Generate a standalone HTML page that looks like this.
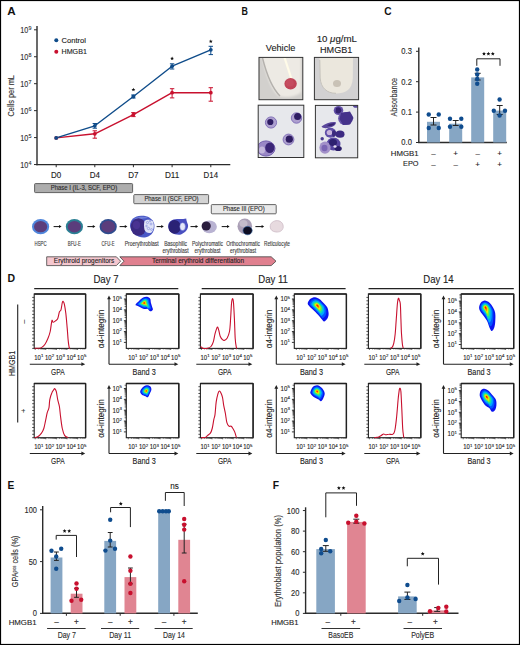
<!DOCTYPE html>
<html><head><meta charset="utf-8"><title>Figure</title>
<style>
html,body{margin:0;padding:0;background:#fff;}
body{width:520px;height:645px;overflow:hidden;}
svg{display:block;font-family:"Liberation Sans", sans-serif;}
</style></head><body>
<svg width="520" height="645" viewBox="0 0 520 645">
<rect x="0" y="0" width="520" height="645" fill="#fff"/>
<text x="7.2" y="15" font-size="10.2" text-anchor="start" fill="#111" font-weight="bold" textLength="8.4" lengthAdjust="spacingAndGlyphs">A</text>
<line x1="37" y1="26" x2="37" y2="165.2" stroke="#2b2b2b" stroke-width="1.4"/>
<line x1="36.3" y1="164.6" x2="230.3" y2="164.6" stroke="#2b2b2b" stroke-width="1.4"/>
<line x1="34" y1="29.8" x2="37" y2="29.8" stroke="#2b2b2b" stroke-width="1"/>
<text x="28.2" y="33.1" font-size="8.6" text-anchor="end" fill="#333" font-weight="normal" stroke="#333" stroke-width="0.12" textLength="8.0" lengthAdjust="spacingAndGlyphs">10</text>
<text x="28.599999999999998" y="29.8" font-size="5.4" text-anchor="start" fill="#333" font-weight="normal" stroke="#333" stroke-width="0.12">9</text>
<line x1="34" y1="56.75" x2="37" y2="56.75" stroke="#2b2b2b" stroke-width="1"/>
<text x="28.2" y="60.05" font-size="8.6" text-anchor="end" fill="#333" font-weight="normal" stroke="#333" stroke-width="0.12" textLength="8.0" lengthAdjust="spacingAndGlyphs">10</text>
<text x="28.599999999999998" y="56.75" font-size="5.4" text-anchor="start" fill="#333" font-weight="normal" stroke="#333" stroke-width="0.12">8</text>
<line x1="34" y1="83.7" x2="37" y2="83.7" stroke="#2b2b2b" stroke-width="1"/>
<text x="28.2" y="87.0" font-size="8.6" text-anchor="end" fill="#333" font-weight="normal" stroke="#333" stroke-width="0.12" textLength="8.0" lengthAdjust="spacingAndGlyphs">10</text>
<text x="28.599999999999998" y="83.7" font-size="5.4" text-anchor="start" fill="#333" font-weight="normal" stroke="#333" stroke-width="0.12">7</text>
<line x1="34" y1="110.64999999999999" x2="37" y2="110.64999999999999" stroke="#2b2b2b" stroke-width="1"/>
<text x="28.2" y="113.94999999999999" font-size="8.6" text-anchor="end" fill="#333" font-weight="normal" stroke="#333" stroke-width="0.12" textLength="8.0" lengthAdjust="spacingAndGlyphs">10</text>
<text x="28.599999999999998" y="110.64999999999999" font-size="5.4" text-anchor="start" fill="#333" font-weight="normal" stroke="#333" stroke-width="0.12">6</text>
<line x1="34" y1="137.6" x2="37" y2="137.6" stroke="#2b2b2b" stroke-width="1"/>
<text x="28.2" y="140.9" font-size="8.6" text-anchor="end" fill="#333" font-weight="normal" stroke="#333" stroke-width="0.12" textLength="8.0" lengthAdjust="spacingAndGlyphs">10</text>
<text x="28.599999999999998" y="137.6" font-size="5.4" text-anchor="start" fill="#333" font-weight="normal" stroke="#333" stroke-width="0.12">5</text>
<line x1="34" y1="164.55" x2="37" y2="164.55" stroke="#2b2b2b" stroke-width="1"/>
<text x="28.2" y="167.85000000000002" font-size="8.6" text-anchor="end" fill="#333" font-weight="normal" stroke="#333" stroke-width="0.12" textLength="8.0" lengthAdjust="spacingAndGlyphs">10</text>
<text x="28.599999999999998" y="164.55" font-size="5.4" text-anchor="start" fill="#333" font-weight="normal" stroke="#333" stroke-width="0.12">4</text>
<line x1="56.2" y1="164.6" x2="56.2" y2="167.2" stroke="#2b2b2b" stroke-width="1"/>
<text x="56.2" y="178.0" font-size="8.8" text-anchor="middle" fill="#222" font-weight="normal" stroke="#222" stroke-width="0.12" textLength="10.2" lengthAdjust="spacingAndGlyphs">D0</text>
<line x1="94.8" y1="164.6" x2="94.8" y2="167.2" stroke="#2b2b2b" stroke-width="1"/>
<text x="94.8" y="178.0" font-size="8.8" text-anchor="middle" fill="#222" font-weight="normal" stroke="#222" stroke-width="0.12" textLength="10.2" lengthAdjust="spacingAndGlyphs">D4</text>
<line x1="133.4" y1="164.6" x2="133.4" y2="167.2" stroke="#2b2b2b" stroke-width="1"/>
<text x="133.4" y="178.0" font-size="8.8" text-anchor="middle" fill="#222" font-weight="normal" stroke="#222" stroke-width="0.12" textLength="10.2" lengthAdjust="spacingAndGlyphs">D7</text>
<line x1="172.1" y1="164.6" x2="172.1" y2="167.2" stroke="#2b2b2b" stroke-width="1"/>
<text x="172.1" y="178.0" font-size="8.8" text-anchor="middle" fill="#222" font-weight="normal" stroke="#222" stroke-width="0.12" textLength="14.4" lengthAdjust="spacingAndGlyphs">D11</text>
<line x1="210.8" y1="164.6" x2="210.8" y2="167.2" stroke="#2b2b2b" stroke-width="1"/>
<text x="210.8" y="178.0" font-size="8.8" text-anchor="middle" fill="#222" font-weight="normal" stroke="#222" stroke-width="0.12" textLength="14.4" lengthAdjust="spacingAndGlyphs">D14</text>
<text x="13.9" y="95.8" font-size="9.4" text-anchor="middle" fill="#333" font-weight="normal" stroke="#333" stroke-width="0.12" textLength="41.5" lengthAdjust="spacingAndGlyphs" transform="rotate(-90 13.9 95.8)">Cells per mL</text>
<circle cx="56.3" cy="40.3" r="2" fill="#0f4c8a"/>
<circle cx="56.3" cy="51.7" r="2" fill="#c8102e"/>
<text x="61.5" y="42.6" font-size="7.5" text-anchor="start" fill="#222" font-weight="normal" stroke="#222" stroke-width="0.12" textLength="24.5" lengthAdjust="spacingAndGlyphs">Control</text>
<text x="61.5" y="53.9" font-size="7.5" text-anchor="start" fill="#222" font-weight="normal" stroke="#222" stroke-width="0.12" textLength="25.4" lengthAdjust="spacingAndGlyphs">HMGB1</text>
<path d="M56.2,137.9 L94.8,133.8 L133.4,114.6 L172.1,92.7 L210.8,92.7" stroke="#c8102e" stroke-width="1.4" fill="none" stroke-linejoin="round"/>
<path d="M56.2,137.9 L94.8,125.8 L133.4,96.5 L172.1,66.2 L210.8,49.8" stroke="#0f4c8a" stroke-width="1.4" fill="none" stroke-linejoin="round"/>
<circle cx="56.2" cy="137.9" r="1.9" fill="#c8102e"/>
<line x1="94.8" y1="130.8" x2="94.8" y2="138.2" stroke="#c8102e" stroke-width="1"/>
<line x1="92.6" y1="130.8" x2="97.0" y2="130.8" stroke="#c8102e" stroke-width="1"/>
<line x1="92.6" y1="138.2" x2="97.0" y2="138.2" stroke="#c8102e" stroke-width="1"/>
<circle cx="94.8" cy="133.8" r="1.9" fill="#c8102e"/>
<line x1="133.4" y1="112.6" x2="133.4" y2="116.6" stroke="#c8102e" stroke-width="1"/>
<line x1="131.20000000000002" y1="112.6" x2="135.6" y2="112.6" stroke="#c8102e" stroke-width="1"/>
<line x1="131.20000000000002" y1="116.6" x2="135.6" y2="116.6" stroke="#c8102e" stroke-width="1"/>
<circle cx="133.4" cy="114.6" r="1.9" fill="#c8102e"/>
<line x1="172.1" y1="88.7" x2="172.1" y2="97.9" stroke="#c8102e" stroke-width="1"/>
<line x1="169.9" y1="88.7" x2="174.29999999999998" y2="88.7" stroke="#c8102e" stroke-width="1"/>
<line x1="169.9" y1="97.9" x2="174.29999999999998" y2="97.9" stroke="#c8102e" stroke-width="1"/>
<circle cx="172.1" cy="92.7" r="1.9" fill="#c8102e"/>
<line x1="210.8" y1="87.7" x2="210.8" y2="101.2" stroke="#c8102e" stroke-width="1"/>
<line x1="208.60000000000002" y1="87.7" x2="213.0" y2="87.7" stroke="#c8102e" stroke-width="1"/>
<line x1="208.60000000000002" y1="101.2" x2="213.0" y2="101.2" stroke="#c8102e" stroke-width="1"/>
<circle cx="210.8" cy="92.7" r="1.9" fill="#c8102e"/>
<circle cx="56.2" cy="137.9" r="1.9" fill="#0f4c8a"/>
<line x1="94.8" y1="123.5" x2="94.8" y2="128.2" stroke="#0f4c8a" stroke-width="1"/>
<line x1="92.6" y1="123.5" x2="97.0" y2="123.5" stroke="#0f4c8a" stroke-width="1"/>
<line x1="92.6" y1="128.2" x2="97.0" y2="128.2" stroke="#0f4c8a" stroke-width="1"/>
<circle cx="94.8" cy="125.8" r="1.9" fill="#0f4c8a"/>
<line x1="133.4" y1="95" x2="133.4" y2="98" stroke="#0f4c8a" stroke-width="1"/>
<line x1="131.20000000000002" y1="95" x2="135.6" y2="95" stroke="#0f4c8a" stroke-width="1"/>
<line x1="131.20000000000002" y1="98" x2="135.6" y2="98" stroke="#0f4c8a" stroke-width="1"/>
<circle cx="133.4" cy="96.5" r="1.9" fill="#0f4c8a"/>
<line x1="172.1" y1="63.8" x2="172.1" y2="69" stroke="#0f4c8a" stroke-width="1"/>
<line x1="169.9" y1="63.8" x2="174.29999999999998" y2="63.8" stroke="#0f4c8a" stroke-width="1"/>
<line x1="169.9" y1="69" x2="174.29999999999998" y2="69" stroke="#0f4c8a" stroke-width="1"/>
<circle cx="172.1" cy="66.2" r="1.9" fill="#0f4c8a"/>
<line x1="210.8" y1="46.3" x2="210.8" y2="54.6" stroke="#0f4c8a" stroke-width="1"/>
<line x1="208.60000000000002" y1="46.3" x2="213.0" y2="46.3" stroke="#0f4c8a" stroke-width="1"/>
<line x1="208.60000000000002" y1="54.6" x2="213.0" y2="54.6" stroke="#0f4c8a" stroke-width="1"/>
<circle cx="210.8" cy="49.8" r="1.9" fill="#0f4c8a"/>
<path d="M133.40,87.70 L133.93,88.97 L135.30,89.08 L134.26,89.98 L134.58,91.32 L133.40,90.60 L132.22,91.32 L132.54,89.98 L131.50,89.08 L132.87,88.97 Z" fill="#111"/>
<path d="M172.10,56.50 L172.63,57.77 L174.00,57.88 L172.96,58.78 L173.28,60.12 L172.10,59.40 L170.92,60.12 L171.24,58.78 L170.20,57.88 L171.57,57.77 Z" fill="#111"/>
<path d="M210.80,39.40 L211.33,40.67 L212.70,40.78 L211.66,41.68 L211.98,43.02 L210.80,42.30 L209.62,43.02 L209.94,41.68 L208.90,40.78 L210.27,40.67 Z" fill="#111"/>
<rect x="34.6" y="183.6" width="98.0" height="9.0" rx="0.8" fill="#adadad" stroke="#555" stroke-width="0.9"/>
<text x="50.7" y="190.29999999999998" font-size="6.4" text-anchor="start" fill="#2a2a2a" font-weight="normal" stroke="#2a2a2a" stroke-width="0.12" textLength="66.5" lengthAdjust="spacingAndGlyphs">Phase I (IL-3, SCF, EPO)</text>
<rect x="133.8" y="194.6" width="74.79999999999998" height="9.099999999999994" rx="0.8" fill="#d3d3d3" stroke="#555" stroke-width="0.9"/>
<text x="144.4" y="201.34999999999997" font-size="6.4" text-anchor="start" fill="#2a2a2a" font-weight="normal" stroke="#2a2a2a" stroke-width="0.12" textLength="54.2" lengthAdjust="spacingAndGlyphs">Phase II (SCF, EPO)</text>
<rect x="211.3" y="204.6" width="64.89999999999998" height="9.200000000000017" rx="0.8" fill="#e9e9e9" stroke="#555" stroke-width="0.9"/>
<text x="222.9" y="211.39999999999998" font-size="6.4" text-anchor="start" fill="#2a2a2a" font-weight="normal" stroke="#2a2a2a" stroke-width="0.12" textLength="41.8" lengthAdjust="spacingAndGlyphs">Phase III (EPO)</text>
<ellipse cx="40.6" cy="226.7" rx="8.6" ry="7.6" fill="#4f86dc"/>
<ellipse cx="40.6" cy="226.7" rx="6.6" ry="5.6" fill="#5b3d7c"/>
<ellipse cx="74.4" cy="226.7" rx="8.6" ry="7.6" fill="#2a7f93"/>
<ellipse cx="74.4" cy="226.7" rx="6.7" ry="5.7" fill="#5b3d7c"/>
<ellipse cx="108.2" cy="226.7" rx="8.6" ry="7.6" fill="#2f4c8e"/>
<ellipse cx="108.2" cy="226.7" rx="6.9" ry="5.9" fill="#5b3d7c"/>
<line x1="53.6" y1="226.6" x2="59.6" y2="226.6" stroke="#111" stroke-width="1"/>
<path d="M59.0,225.1 L61.6,226.6 L59.0,228.1 Z" fill="#111"/>
<line x1="87.4" y1="226.6" x2="93.4" y2="226.6" stroke="#111" stroke-width="1"/>
<path d="M92.80000000000001,225.1 L95.4,226.6 L92.80000000000001,228.1 Z" fill="#111"/>
<line x1="119.6" y1="226.6" x2="125.4" y2="226.6" stroke="#111" stroke-width="1"/>
<path d="M124.80000000000001,225.1 L127.4,226.6 L124.80000000000001,228.1 Z" fill="#111"/>
<line x1="156.6" y1="226.6" x2="161.8" y2="226.6" stroke="#111" stroke-width="1"/>
<path d="M161.20000000000002,225.1 L163.8,226.6 L161.20000000000002,228.1 Z" fill="#111"/>
<line x1="190.5" y1="226.6" x2="196.2" y2="226.6" stroke="#111" stroke-width="1"/>
<path d="M195.6,225.1 L198.2,226.6 L195.6,228.1 Z" fill="#111"/>
<line x1="221.7" y1="226.6" x2="227.6" y2="226.6" stroke="#111" stroke-width="1"/>
<path d="M227.0,225.1 L229.6,226.6 L227.0,228.1 Z" fill="#111"/>
<line x1="255.4" y1="226.6" x2="262.2" y2="226.6" stroke="#111" stroke-width="1"/>
<path d="M261.59999999999997,225.1 L264.2,226.6 L261.59999999999997,228.1 Z" fill="#111"/>
<g filter="url(#bl3)">
<path d="M130,226 C130,219.5 134.5,216 141,215.7 C147.5,215.5 152.5,218 154.3,224 C155.2,230 152.5,235.5 146,237.3 C139,238.5 131.5,234.5 130,226 Z" fill="#4a58c6"/>
<path d="M134,218.5 C138,216.5 144,216.3 148,217.5 C144,219 138,219.5 134,218.5 Z" fill="#7080da"/>
<ellipse cx="138.5" cy="227" rx="7.8" ry="8.8" fill="#3b2a82"/>
<ellipse cx="136.5" cy="225" rx="3.5" ry="4" fill="#4a3392"/>
<path d="M144.5,221 C146.5,219.2 151,219.2 153,221.5 C154.4,225 154,230 151.5,232.5 C149,233.6 145.8,233 144.6,230 C143.8,227 143.8,223.5 144.5,221 Z" fill="#dfe3f7"/>
<circle cx="147.5" cy="222.5" r="1.1" fill="none" stroke="#7d88dc" stroke-width="0.6"/>
<circle cx="151" cy="224" r="1" fill="none" stroke="#7d88dc" stroke-width="0.6"/>
<circle cx="148.5" cy="228.5" r="1.2" fill="none" stroke="#7d88dc" stroke-width="0.6"/>
<circle cx="151.5" cy="229.5" r="0.9" fill="none" stroke="#7d88dc" stroke-width="0.6"/>
<circle cx="146.5" cy="226" r="0.8" fill="none" stroke="#7d88dc" stroke-width="0.6"/>
<circle cx="150" cy="221" r="0.7" fill="none" stroke="#7d88dc" stroke-width="0.6"/>
</g>
<g filter="url(#bl3)">
<path d="M168.2,226.5 C168,221.5 172,219 177,218.9 C181,218.8 184,219.5 186.2,218.6 C186.5,220.5 186.8,222 188,224.8 C188.6,228.5 186,232.5 181,234.5 C175,235.5 168.8,232.5 168.2,226.5 Z" fill="#4a50c0"/>
<ellipse cx="174.6" cy="226.9" rx="6.2" ry="6.9" fill="#2a2274"/>
<ellipse cx="182.6" cy="226.6" rx="2.8" ry="3.9" fill="#e4e7f8" stroke="#6470d0" stroke-width="0.5"/>
</g>
<g filter="url(#bl3)"><ellipse cx="209.3" cy="226.8" rx="7.6" ry="6.4" fill="#b9b3d2"/>
<ellipse cx="206.2" cy="226" rx="4.6" ry="4.6" fill="#2b1a3c"/></g>
<g filter="url(#bl3)"><ellipse cx="244.8" cy="226.2" rx="7.3" ry="7.8" fill="#aa9fb6"/>
<ellipse cx="243.5" cy="223.5" rx="4" ry="3.5" fill="#c4bccb"/>
<ellipse cx="247.6" cy="230.6" rx="4.6" ry="4.2" fill="#0e0e22" stroke="#2a5d9a" stroke-width="0.6"/></g>
<path d="M270.2,227 C270,222.8 273.5,220.6 277.5,220.6 C281.5,221 283.5,224 283.2,227.5 C282.5,231 279.5,232.3 276,232 C272.5,231.6 270.4,230 270.2,227 Z" fill="#e7dadf" stroke="#c8b6c2" stroke-width="0.7"/>
<text x="40.6" y="245.5" font-size="6.4" text-anchor="middle" fill="#3c3c3c" font-weight="normal" stroke="#3c3c3c" stroke-width="0.12" textLength="12.1" lengthAdjust="spacingAndGlyphs">HSPC</text>
<text x="74.3" y="245.5" font-size="6.4" text-anchor="middle" fill="#3c3c3c" font-weight="normal" stroke="#3c3c3c" stroke-width="0.12" textLength="13.1" lengthAdjust="spacingAndGlyphs">BFU-E</text>
<text x="108" y="245.5" font-size="6.4" text-anchor="middle" fill="#3c3c3c" font-weight="normal" stroke="#3c3c3c" stroke-width="0.12" textLength="12.9" lengthAdjust="spacingAndGlyphs">CFU-E</text>
<text x="141.7" y="245.5" font-size="6.4" text-anchor="middle" fill="#3c3c3c" font-weight="normal" stroke="#3c3c3c" stroke-width="0.12" textLength="34" lengthAdjust="spacingAndGlyphs">Proerythroblast</text>
<text x="175.6" y="245.5" font-size="6.4" text-anchor="middle" fill="#3c3c3c" font-weight="normal" stroke="#3c3c3c" stroke-width="0.12" textLength="22.9" lengthAdjust="spacingAndGlyphs">Basophilic</text>
<text x="175.6" y="253.2" font-size="6.4" text-anchor="middle" fill="#3c3c3c" font-weight="normal" stroke="#3c3c3c" stroke-width="0.12" textLength="26" lengthAdjust="spacingAndGlyphs">erythroblast</text>
<text x="207.5" y="245.5" font-size="6.4" text-anchor="middle" fill="#3c3c3c" font-weight="normal" stroke="#3c3c3c" stroke-width="0.12" textLength="31" lengthAdjust="spacingAndGlyphs">Polychromatic</text>
<text x="207.5" y="253.2" font-size="6.4" text-anchor="middle" fill="#3c3c3c" font-weight="normal" stroke="#3c3c3c" stroke-width="0.12" textLength="26" lengthAdjust="spacingAndGlyphs">erythroblast</text>
<text x="243.1" y="245.5" font-size="6.4" text-anchor="middle" fill="#3c3c3c" font-weight="normal" stroke="#3c3c3c" stroke-width="0.12" textLength="33.7" lengthAdjust="spacingAndGlyphs">Orthochromatic</text>
<text x="243.1" y="253.2" font-size="6.4" text-anchor="middle" fill="#3c3c3c" font-weight="normal" stroke="#3c3c3c" stroke-width="0.12" textLength="26" lengthAdjust="spacingAndGlyphs">erythroblast</text>
<text x="277" y="245.5" font-size="6.4" text-anchor="middle" fill="#3c3c3c" font-weight="normal" stroke="#3c3c3c" stroke-width="0.12" textLength="26.1" lengthAdjust="spacingAndGlyphs">Reticulocyte</text>
<path d="M46.7,256.8 L116.4,256.8 L120.6,261.2 L116.4,265.6 L46.7,265.6 Z" fill="#f5c7cf" stroke="#444" stroke-width="0.8"/>
<path d="M119.8,256.8 L271.2,256.8 L276.0,261.2 L271.2,265.6 L119.8,265.6 L124.0,261.2 Z" fill="#e0808f" stroke="#444" stroke-width="0.8"/>
<text x="53.8" y="263.4" font-size="7.2" text-anchor="start" fill="#222" font-weight="normal" stroke="#222" stroke-width="0.12" textLength="60.5" lengthAdjust="spacingAndGlyphs">Erythroid progenitors</text>
<text x="151.9" y="263.4" font-size="7.2" text-anchor="start" fill="#222" font-weight="normal" stroke="#222" stroke-width="0.12" textLength="92.2" lengthAdjust="spacingAndGlyphs">Terminal erythroid differentiation</text>
<text x="241.4" y="14.9" font-size="10.2" text-anchor="start" fill="#111" font-weight="bold" textLength="6.4" lengthAdjust="spacingAndGlyphs">B</text>
<text x="280.6" y="50.8" font-size="9" text-anchor="middle" fill="#222" font-weight="normal" stroke="#222" stroke-width="0.12" textLength="29.6" lengthAdjust="spacingAndGlyphs">Vehicle</text>
<text x="336.8" y="42" font-size="9" text-anchor="middle" fill="#222" font-weight="normal" stroke="#222" stroke-width="0.12" textLength="40.3" lengthAdjust="spacingAndGlyphs">10 <tspan font-style="italic">μ</tspan>g/mL</text>
<text x="336.2" y="53" font-size="9" text-anchor="middle" fill="#222" font-weight="normal" stroke="#222" stroke-width="0.12" textLength="32.3" lengthAdjust="spacingAndGlyphs">HMGB1</text>
<defs><clipPath id="t1"><rect x="259" y="57.4" width="43.8" height="42.3"/></clipPath><clipPath id="t2"><rect x="314.4" y="57.4" width="44.2" height="42.3"/></clipPath><clipPath id="m1"><rect x="258.2" y="105.2" width="45.6" height="52.3"/></clipPath><clipPath id="m2"><rect x="315.4" y="105.4" width="42.3" height="52.4"/></clipPath><filter id="bl" x="-20%" y="-20%" width="140%" height="140%"><feGaussianBlur stdDeviation="0.6"/></filter><filter id="bl3" x="-20%" y="-20%" width="140%" height="140%"><feGaussianBlur stdDeviation="0.4"/></filter><filter id="bl2" x="-20%" y="-20%" width="140%" height="140%"><feGaussianBlur stdDeviation="1.2"/></filter></defs>
<g clip-path="url(#t1)">
<rect x="259" y="57.4" width="43.8" height="42.3" fill="#d2d0cd"/>
<path d="M262,57 L301,57 L301,92 C297,97 285,98 279,96 C272,92 266,75 262,57 Z" fill="#edeae4" filter="url(#bl2)"/>
<path d="M262.5,58 C266,72 272,88 280,96" stroke="#b4b1ad" stroke-width="1.4" fill="none" filter="url(#bl)"/>
<path d="M284.5,57.5 L291.5,79" stroke="#fffbe8" stroke-width="2.2" fill="none" filter="url(#bl)"/>
<ellipse cx="290.6" cy="83.8" rx="6.2" ry="5.7" fill="#c04458" filter="url(#bl)"/>
<ellipse cx="289.8" cy="83" rx="4" ry="3.6" fill="#c54e60" filter="url(#bl)"/>
</g>
<rect x="259" y="57.4" width="43.8" height="42.3" fill="none" stroke="#333" stroke-width="1"/>
<g clip-path="url(#t2)">
<rect x="314.4" y="57.4" width="44.2" height="42.3" fill="#d4d3d0"/>
<rect x="314.4" y="57.4" width="44.2" height="42.3" fill="#d2d1d2"/>
<path d="M319.5,57 L353,57 L352.8,78 C352.3,90 345,93.5 336,93.5 C327,93.5 320.5,88 320,78 Z" fill="#ebe7dd" filter="url(#bl)"/>
<path d="M319.8,60 L320.2,78 C320.8,88 327,93.3 336,93.3" stroke="#bdbab4" stroke-width="0.8" fill="none" filter="url(#bl)"/>
<ellipse cx="337" cy="83.5" rx="4" ry="3.6" fill="#c9c2b6" filter="url(#bl)"/>
</g>
<rect x="314.4" y="57.4" width="44.2" height="42.3" fill="none" stroke="#333" stroke-width="1"/>
<g clip-path="url(#m1)">
<rect x="258.2" y="105.2" width="45.6" height="52.3" fill="#e7e8ec"/>
<circle cx="271" cy="122.5" r="5.6" fill="#ad9fcf" stroke="#7d6bb5" stroke-width="0.9" filter="url(#bl)"/>
<circle cx="270.3" cy="122" r="3.1" fill="#2e1b62" filter="url(#bl)"/>
<circle cx="296.5" cy="118" r="5.2" fill="#ad9fcf" stroke="#7d6bb5" stroke-width="0.9" filter="url(#bl)"/>
<circle cx="297.6" cy="116.6" r="3.5" fill="#2e1b62" filter="url(#bl)"/>
<circle cx="288.5" cy="139.5" r="5.4" fill="#ad9fcf" stroke="#7d6bb5" stroke-width="0.9" filter="url(#bl)"/>
<circle cx="289.3" cy="139.2" r="3.6" fill="#2e1b62" filter="url(#bl)"/>
<ellipse cx="266" cy="148.5" rx="9" ry="7.6" fill="#9a88c6" stroke="#6a56a8" stroke-width="0.9" filter="url(#bl)"/>
<ellipse cx="262" cy="150" rx="3" ry="3.5" fill="#c4b8dc" filter="url(#bl)"/>
<ellipse cx="269.8" cy="147.8" rx="4.6" ry="5.2" fill="#3a2676" filter="url(#bl)"/>
</g>
<rect x="258.2" y="105.2" width="45.6" height="52.3" fill="none" stroke="#333" stroke-width="1"/>
<g clip-path="url(#m2)">
<rect x="315.4" y="105.4" width="42.3" height="52.4" fill="#e7e8ec"/>
<ellipse cx="338.5" cy="110.5" rx="4.8" ry="4.6" fill="#6350a6" filter="url(#bl)"/>
<ellipse cx="345.5" cy="118.5" rx="7.4" ry="6.6" fill="#6a57ab" filter="url(#bl)"/>
<ellipse cx="356" cy="106" rx="3" ry="1.8" fill="#5a4aa0" filter="url(#bl)"/>
<ellipse cx="330.4" cy="132.8" rx="5.6" ry="5" fill="#6150a8" filter="url(#bl)"/>
<ellipse cx="340" cy="134.2" rx="4.5" ry="3.6" fill="#3d2c82" filter="url(#bl)"/>
<ellipse cx="333.5" cy="144" rx="7" ry="6.4" fill="#5644a0" filter="url(#bl)"/>
<ellipse cx="325" cy="147.6" rx="5.6" ry="6.2" fill="#a391c9" filter="url(#bl)"/>
<path d="M341,113 L350,111.5 L353.5,118 L350,124.5 L343,125 L339.5,119 Z" fill="#44338a" filter="url(#bl)"/>
<path d="M336,108 C338,106.5 341,107.5 341.5,110.5 C341,113.5 337,114.5 335.5,112 Z" fill="#35246f" filter="url(#bl)"/>
<path d="M321.5,126.5 C325,123.5 331,121.5 335.5,122 C337,124 334,126.5 329,127.8 C325.5,128.6 322.5,128.3 321.5,126.5 Z" fill="#5a469c" filter="url(#bl)"/>
<path d="M327,125.5 C330,123.5 333,122.8 335,123.3 C334,125.5 331,126.5 327,125.5 Z" fill="#34246e" filter="url(#bl)"/>
<ellipse cx="329.5" cy="132.5" rx="2.8" ry="2.6" fill="#c9b6dc" filter="url(#bl)"/>
<ellipse cx="334" cy="133.5" rx="2" ry="3.2" fill="#3a2a7e" filter="url(#bl)"/>
<ellipse cx="333" cy="142.5" rx="4" ry="3.4" fill="#2f2070" filter="url(#bl)"/>
<ellipse cx="338.2" cy="148.5" rx="3.6" ry="2.6" fill="#2c1f6a" filter="url(#bl)"/>
<ellipse cx="335" cy="146.5" rx="1.6" ry="1.2" fill="#e6e0ef" filter="url(#bl)"/>
<ellipse cx="324.5" cy="148" rx="3" ry="3.2" fill="#7b66b4" filter="url(#bl)"/>
<circle cx="322.2" cy="138.8" r="1.7" fill="#4a3a90" filter="url(#bl)"/>
</g>
<rect x="315.4" y="105.4" width="42.3" height="52.4" fill="none" stroke="#333" stroke-width="1"/>
<text x="384.2" y="14.9" font-size="10.2" text-anchor="start" fill="#111" font-weight="bold" textLength="7.3" lengthAdjust="spacingAndGlyphs">C</text>
<line x1="418.8" y1="47.4" x2="418.8" y2="143.1" stroke="#2b2b2b" stroke-width="1.4"/>
<line x1="418.1" y1="142.5" x2="506.8" y2="142.5" stroke="#2b2b2b" stroke-width="1.4"/>
<line x1="416" y1="51.3" x2="418.8" y2="51.3" stroke="#2b2b2b" stroke-width="1"/>
<text x="411.9" y="54.199999999999996" font-size="8.2" text-anchor="end" fill="#2a2a2a" font-weight="normal" stroke="#2a2a2a" stroke-width="0.12" textLength="10.6" lengthAdjust="spacingAndGlyphs">0.3</text>
<line x1="416" y1="81.69999999999999" x2="418.8" y2="81.69999999999999" stroke="#2b2b2b" stroke-width="1"/>
<text x="411.9" y="84.6" font-size="8.2" text-anchor="end" fill="#2a2a2a" font-weight="normal" stroke="#2a2a2a" stroke-width="0.12" textLength="10.6" lengthAdjust="spacingAndGlyphs">0.2</text>
<line x1="416" y1="112.1" x2="418.8" y2="112.1" stroke="#2b2b2b" stroke-width="1"/>
<text x="411.9" y="115.0" font-size="8.2" text-anchor="end" fill="#2a2a2a" font-weight="normal" stroke="#2a2a2a" stroke-width="0.12" textLength="10.6" lengthAdjust="spacingAndGlyphs">0.1</text>
<line x1="416" y1="142.5" x2="418.8" y2="142.5" stroke="#2b2b2b" stroke-width="1"/>
<text x="411.9" y="145.4" font-size="8.2" text-anchor="end" fill="#2a2a2a" font-weight="normal" stroke="#2a2a2a" stroke-width="0.12" textLength="10.6" lengthAdjust="spacingAndGlyphs">0.0</text>
<rect x="427.0" y="121.8" width="13" height="20.7" fill="#86a6c4"/>
<rect x="449.2" y="123.7" width="13" height="18.8" fill="#86a6c4"/>
<rect x="471.2" y="77.4" width="13" height="65.1" fill="#86a6c4"/>
<rect x="493.2" y="110.6" width="13" height="31.9" fill="#86a6c4"/>
<line x1="433.5" y1="117.5" x2="433.5" y2="125" stroke="#222" stroke-width="1"/>
<line x1="430.5" y1="117.5" x2="436.5" y2="117.5" stroke="#222" stroke-width="1"/>
<line x1="430.5" y1="125" x2="436.5" y2="125" stroke="#222" stroke-width="1"/>
<line x1="455.7" y1="120.5" x2="455.7" y2="125.5" stroke="#222" stroke-width="1"/>
<line x1="452.7" y1="120.5" x2="458.7" y2="120.5" stroke="#222" stroke-width="1"/>
<line x1="452.7" y1="125.5" x2="458.7" y2="125.5" stroke="#222" stroke-width="1"/>
<line x1="477.7" y1="73.3" x2="477.7" y2="80" stroke="#222" stroke-width="1"/>
<line x1="474.7" y1="73.3" x2="480.7" y2="73.3" stroke="#222" stroke-width="1"/>
<line x1="474.7" y1="80" x2="480.7" y2="80" stroke="#222" stroke-width="1"/>
<line x1="499.7" y1="105.5" x2="499.7" y2="114.5" stroke="#222" stroke-width="1"/>
<line x1="496.7" y1="105.5" x2="502.7" y2="105.5" stroke="#222" stroke-width="1"/>
<line x1="496.7" y1="114.5" x2="502.7" y2="114.5" stroke="#222" stroke-width="1"/>
<circle cx="428.75" cy="114.5" r="2.2" fill="#0f4c8e"/>
<circle cx="438.75" cy="114.5" r="2.2" fill="#0f4c8e"/>
<circle cx="428.75" cy="128" r="2.2" fill="#0f4c8e"/>
<circle cx="438.75" cy="128" r="2.2" fill="#0f4c8e"/>
<circle cx="450" cy="118.8" r="2.2" fill="#0f4c8e"/>
<circle cx="461.3" cy="118.8" r="2.2" fill="#0f4c8e"/>
<circle cx="450" cy="126.8" r="2.2" fill="#0f4c8e"/>
<circle cx="461.3" cy="126.8" r="2.2" fill="#0f4c8e"/>
<circle cx="477.2" cy="69.5" r="2.2" fill="#0f4c8e"/>
<circle cx="477.2" cy="74.5" r="2.2" fill="#0f4c8e"/>
<circle cx="477.2" cy="79" r="2.2" fill="#0f4c8e"/>
<circle cx="477.2" cy="83.8" r="2.2" fill="#0f4c8e"/>
<circle cx="499.6" cy="99.5" r="2.2" fill="#0f4c8e"/>
<circle cx="493.8" cy="110.8" r="2.2" fill="#0f4c8e"/>
<circle cx="505" cy="110.8" r="2.2" fill="#0f4c8e"/>
<circle cx="499.6" cy="115.5" r="2.2" fill="#0f4c8e"/>
<path d="M476.8,65.8 L476.8,58.8 L500.0,58.8 L500.0,65.8" stroke="#222" stroke-width="1" fill="none" stroke-linejoin="miter"/>
<path d="M484.00,51.70 L484.56,53.04 L486.00,53.15 L484.90,54.09 L485.23,55.50 L484.00,54.74 L482.77,55.50 L483.10,54.09 L482.00,53.15 L483.44,53.04 Z" fill="#111"/>
<path d="M488.40,51.70 L488.96,53.04 L490.40,53.15 L489.30,54.09 L489.63,55.50 L488.40,54.74 L487.17,55.50 L487.50,54.09 L486.40,53.15 L487.84,53.04 Z" fill="#111"/>
<path d="M492.80,51.70 L493.36,53.04 L494.80,53.15 L493.70,54.09 L494.03,55.50 L492.80,54.74 L491.57,55.50 L491.90,54.09 L490.80,53.15 L492.24,53.04 Z" fill="#111"/>
<text x="396.6" y="97.2" font-size="8.4" text-anchor="middle" fill="#333" font-weight="normal" stroke="#333" stroke-width="0.12" textLength="38.5" lengthAdjust="spacingAndGlyphs" transform="rotate(-90 396.6 97.2)">Absorbance</text>
<text x="418.5" y="155.8" font-size="7.6" text-anchor="end" fill="#222" font-weight="normal" stroke="#222" stroke-width="0.12" textLength="27.7" lengthAdjust="spacingAndGlyphs">HMGB1</text>
<text x="418.5" y="166.2" font-size="7.6" text-anchor="end" fill="#222" font-weight="normal" stroke="#222" stroke-width="0.12" textLength="15.5" lengthAdjust="spacingAndGlyphs">EPO</text>
<text x="433.5" y="156.2" font-size="8.0" text-anchor="middle" fill="#222" font-weight="normal" stroke="#222" stroke-width="0.12">–</text>
<text x="433.5" y="166.6" font-size="8.0" text-anchor="middle" fill="#222" font-weight="normal" stroke="#222" stroke-width="0.12">–</text>
<text x="455.7" y="156.2" font-size="8.0" text-anchor="middle" fill="#222" font-weight="normal" stroke="#222" stroke-width="0.12">+</text>
<text x="455.7" y="166.6" font-size="8.0" text-anchor="middle" fill="#222" font-weight="normal" stroke="#222" stroke-width="0.12">–</text>
<text x="477.7" y="156.2" font-size="8.0" text-anchor="middle" fill="#222" font-weight="normal" stroke="#222" stroke-width="0.12">–</text>
<text x="477.7" y="166.6" font-size="8.0" text-anchor="middle" fill="#222" font-weight="normal" stroke="#222" stroke-width="0.12">+</text>
<text x="499.7" y="156.2" font-size="8.0" text-anchor="middle" fill="#222" font-weight="normal" stroke="#222" stroke-width="0.12">+</text>
<text x="499.7" y="166.6" font-size="8.0" text-anchor="middle" fill="#222" font-weight="normal" stroke="#222" stroke-width="0.12">+</text>
<text x="7.6" y="282.3" font-size="10.2" text-anchor="start" fill="#111" font-weight="bold" textLength="7.6" lengthAdjust="spacingAndGlyphs">D</text>
<text x="93.4" y="282.6" font-size="10.2" text-anchor="start" fill="#222" font-weight="normal" stroke="#222" stroke-width="0.12" textLength="25.2" lengthAdjust="spacingAndGlyphs">Day 7</text>
<text x="258.3" y="282.6" font-size="10.2" text-anchor="start" fill="#222" font-weight="normal" stroke="#222" stroke-width="0.12" textLength="29.6" lengthAdjust="spacingAndGlyphs">Day 11</text>
<text x="423.3" y="282.6" font-size="10.2" text-anchor="start" fill="#222" font-weight="normal" stroke="#222" stroke-width="0.12" textLength="30.2" lengthAdjust="spacingAndGlyphs">Day 14</text>
<line x1="34.2" y1="288.6" x2="178.3" y2="288.6" stroke="#222" stroke-width="1.1"/>
<line x1="201.7" y1="288.6" x2="345.6" y2="288.6" stroke="#222" stroke-width="1.1"/>
<line x1="368.5" y1="288.6" x2="513.8" y2="288.6" stroke="#222" stroke-width="1.1"/>
<line x1="17.7" y1="304.4" x2="17.7" y2="422.4" stroke="#222" stroke-width="1.1"/>
<text x="14.8" y="363.4" font-size="9.4" text-anchor="middle" fill="#2a2a2a" font-weight="normal" stroke="#2a2a2a" stroke-width="0.12" textLength="25.2" lengthAdjust="spacingAndGlyphs" transform="rotate(-90 14.8 363.4)">HMGB1</text>
<text x="25.6" y="321.7" font-size="7" text-anchor="middle" fill="#333" font-weight="normal" stroke="#333" stroke-width="0.12" transform="rotate(-90 25.6 321.7)">–</text>
<text x="26.5" y="410.8" font-size="7" text-anchor="middle" fill="#333" font-weight="normal" stroke="#333" stroke-width="0.12" transform="rotate(-90 26.5 410.8)">+</text>
<rect x="34.2" y="294.0" width="51.39999999999999" height="54.39999999999998" fill="none" stroke="#222" stroke-width="1.1"/>
<line x1="34.2" y1="294.0" x2="85.6" y2="294.0" stroke="#222" stroke-width="1.6"/>
<line x1="85.6" y1="294.0" x2="85.6" y2="348.4" stroke="#222" stroke-width="1.4"/>
<line x1="32.2" y1="348.4" x2="34.2" y2="348.4" stroke="#222" stroke-width="0.8"/>
<line x1="32.2" y1="345.0" x2="34.2" y2="345.0" stroke="#222" stroke-width="0.8"/>
<line x1="32.2" y1="341.59999999999997" x2="34.2" y2="341.59999999999997" stroke="#222" stroke-width="0.8"/>
<line x1="32.2" y1="338.2" x2="34.2" y2="338.2" stroke="#222" stroke-width="0.8"/>
<line x1="32.2" y1="334.79999999999995" x2="34.2" y2="334.79999999999995" stroke="#222" stroke-width="0.8"/>
<line x1="32.2" y1="331.4" x2="34.2" y2="331.4" stroke="#222" stroke-width="0.8"/>
<line x1="32.2" y1="328.0" x2="34.2" y2="328.0" stroke="#222" stroke-width="0.8"/>
<line x1="32.2" y1="324.59999999999997" x2="34.2" y2="324.59999999999997" stroke="#222" stroke-width="0.8"/>
<line x1="32.2" y1="321.2" x2="34.2" y2="321.2" stroke="#222" stroke-width="0.8"/>
<line x1="32.2" y1="317.79999999999995" x2="34.2" y2="317.79999999999995" stroke="#222" stroke-width="0.8"/>
<line x1="32.2" y1="314.4" x2="34.2" y2="314.4" stroke="#222" stroke-width="0.8"/>
<line x1="32.2" y1="311.0" x2="34.2" y2="311.0" stroke="#222" stroke-width="0.8"/>
<line x1="32.2" y1="307.59999999999997" x2="34.2" y2="307.59999999999997" stroke="#222" stroke-width="0.8"/>
<line x1="32.2" y1="304.2" x2="34.2" y2="304.2" stroke="#222" stroke-width="0.8"/>
<line x1="32.2" y1="300.79999999999995" x2="34.2" y2="300.79999999999995" stroke="#222" stroke-width="0.8"/>
<line x1="32.2" y1="297.4" x2="34.2" y2="297.4" stroke="#222" stroke-width="0.8"/>
<line x1="35.2" y1="348.4" x2="35.2" y2="350.0" stroke="#333" stroke-width="0.7"/>
<line x1="38.38" y1="348.4" x2="38.38" y2="349.5" stroke="#333" stroke-width="0.6"/>
<line x1="40.288000000000004" y1="348.4" x2="40.288000000000004" y2="349.5" stroke="#333" stroke-width="0.6"/>
<line x1="41.56" y1="348.4" x2="41.56" y2="349.5" stroke="#333" stroke-width="0.6"/>
<line x1="42.620000000000005" y1="348.4" x2="42.620000000000005" y2="349.5" stroke="#333" stroke-width="0.6"/>
<line x1="43.468" y1="348.4" x2="43.468" y2="349.5" stroke="#333" stroke-width="0.6"/>
<line x1="44.21" y1="348.4" x2="44.21" y2="349.5" stroke="#333" stroke-width="0.6"/>
<line x1="44.74" y1="348.4" x2="44.74" y2="349.5" stroke="#333" stroke-width="0.6"/>
<line x1="45.27" y1="348.4" x2="45.27" y2="349.5" stroke="#333" stroke-width="0.6"/>
<line x1="45.800000000000004" y1="348.4" x2="45.800000000000004" y2="350.0" stroke="#333" stroke-width="0.7"/>
<line x1="48.980000000000004" y1="348.4" x2="48.980000000000004" y2="349.5" stroke="#333" stroke-width="0.6"/>
<line x1="50.888000000000005" y1="348.4" x2="50.888000000000005" y2="349.5" stroke="#333" stroke-width="0.6"/>
<line x1="52.160000000000004" y1="348.4" x2="52.160000000000004" y2="349.5" stroke="#333" stroke-width="0.6"/>
<line x1="53.220000000000006" y1="348.4" x2="53.220000000000006" y2="349.5" stroke="#333" stroke-width="0.6"/>
<line x1="54.068000000000005" y1="348.4" x2="54.068000000000005" y2="349.5" stroke="#333" stroke-width="0.6"/>
<line x1="54.81" y1="348.4" x2="54.81" y2="349.5" stroke="#333" stroke-width="0.6"/>
<line x1="55.34" y1="348.4" x2="55.34" y2="349.5" stroke="#333" stroke-width="0.6"/>
<line x1="55.870000000000005" y1="348.4" x2="55.870000000000005" y2="349.5" stroke="#333" stroke-width="0.6"/>
<line x1="56.400000000000006" y1="348.4" x2="56.400000000000006" y2="350.0" stroke="#333" stroke-width="0.7"/>
<line x1="59.580000000000005" y1="348.4" x2="59.580000000000005" y2="349.5" stroke="#333" stroke-width="0.6"/>
<line x1="61.48800000000001" y1="348.4" x2="61.48800000000001" y2="349.5" stroke="#333" stroke-width="0.6"/>
<line x1="62.760000000000005" y1="348.4" x2="62.760000000000005" y2="349.5" stroke="#333" stroke-width="0.6"/>
<line x1="63.82000000000001" y1="348.4" x2="63.82000000000001" y2="349.5" stroke="#333" stroke-width="0.6"/>
<line x1="64.668" y1="348.4" x2="64.668" y2="349.5" stroke="#333" stroke-width="0.6"/>
<line x1="65.41000000000001" y1="348.4" x2="65.41000000000001" y2="349.5" stroke="#333" stroke-width="0.6"/>
<line x1="65.94" y1="348.4" x2="65.94" y2="349.5" stroke="#333" stroke-width="0.6"/>
<line x1="66.47" y1="348.4" x2="66.47" y2="349.5" stroke="#333" stroke-width="0.6"/>
<line x1="67.0" y1="348.4" x2="67.0" y2="350.0" stroke="#333" stroke-width="0.7"/>
<line x1="70.18" y1="348.4" x2="70.18" y2="349.5" stroke="#333" stroke-width="0.6"/>
<line x1="72.088" y1="348.4" x2="72.088" y2="349.5" stroke="#333" stroke-width="0.6"/>
<line x1="73.36" y1="348.4" x2="73.36" y2="349.5" stroke="#333" stroke-width="0.6"/>
<line x1="74.42" y1="348.4" x2="74.42" y2="349.5" stroke="#333" stroke-width="0.6"/>
<line x1="75.268" y1="348.4" x2="75.268" y2="349.5" stroke="#333" stroke-width="0.6"/>
<line x1="76.01" y1="348.4" x2="76.01" y2="349.5" stroke="#333" stroke-width="0.6"/>
<line x1="76.53999999999999" y1="348.4" x2="76.53999999999999" y2="349.5" stroke="#333" stroke-width="0.6"/>
<line x1="77.07" y1="348.4" x2="77.07" y2="349.5" stroke="#333" stroke-width="0.6"/>
<line x1="77.6" y1="348.4" x2="77.6" y2="350.0" stroke="#333" stroke-width="0.7"/>
<line x1="80.78" y1="348.4" x2="80.78" y2="349.5" stroke="#333" stroke-width="0.6"/>
<line x1="82.68799999999999" y1="348.4" x2="82.68799999999999" y2="349.5" stroke="#333" stroke-width="0.6"/>
<line x1="83.96" y1="348.4" x2="83.96" y2="349.5" stroke="#333" stroke-width="0.6"/>
<line x1="85.02" y1="348.4" x2="85.02" y2="349.5" stroke="#333" stroke-width="0.6"/>
<path d="M34.5,348.3 C35.3,348.3 37.9,348.4 39.2,348.2 C40.5,348.0 41.1,347.8 42.1,347.1 C43.1,346.4 44.0,345.6 45.0,344.2 C46.0,342.8 47.0,340.6 47.9,338.5 C48.8,336.4 49.5,334.5 50.2,331.5 C50.9,328.5 51.4,322.1 51.9,320.6 C52.4,319.1 52.5,322.2 53.1,322.3 C53.7,322.4 54.6,321.5 55.4,320.9 C56.2,320.3 57.0,320.3 57.7,318.8 C58.4,317.3 58.9,313.3 59.4,311.9 C59.9,310.5 60.4,311.7 60.9,310.2 C61.4,308.7 61.9,304.1 62.3,302.7 C62.7,301.2 62.9,301.2 63.2,301.5 C63.6,301.8 64.0,302.5 64.4,304.4 C64.8,306.3 65.3,309.2 65.8,313.1 C66.3,317.1 66.8,323.7 67.2,328.1 C67.6,332.5 67.8,336.3 68.1,339.6 C68.4,342.9 68.9,346.2 69.2,347.7 C69.5,349.1 69.9,348.2 70.0,348.3" stroke="#c8102e" stroke-width="1.1" fill="none" stroke-linejoin="round"/>
<text x="34.300000000000004" y="359.7" font-size="6.6" text-anchor="start" fill="#222" font-weight="normal" stroke="#222" stroke-width="0.12" textLength="6.6" lengthAdjust="spacingAndGlyphs">10</text>
<text x="41.1" y="357.2" font-size="4.4" text-anchor="start" fill="#222" font-weight="normal" stroke="#222" stroke-width="0.12">1</text>
<text x="45.0" y="359.7" font-size="6.6" text-anchor="start" fill="#222" font-weight="normal" stroke="#222" stroke-width="0.12" textLength="6.6" lengthAdjust="spacingAndGlyphs">10</text>
<text x="51.8" y="357.2" font-size="4.4" text-anchor="start" fill="#222" font-weight="normal" stroke="#222" stroke-width="0.12">2</text>
<text x="55.7" y="359.7" font-size="6.6" text-anchor="start" fill="#222" font-weight="normal" stroke="#222" stroke-width="0.12" textLength="6.6" lengthAdjust="spacingAndGlyphs">10</text>
<text x="62.5" y="357.2" font-size="4.4" text-anchor="start" fill="#222" font-weight="normal" stroke="#222" stroke-width="0.12">3</text>
<text x="66.4" y="359.7" font-size="6.6" text-anchor="start" fill="#222" font-weight="normal" stroke="#222" stroke-width="0.12" textLength="6.6" lengthAdjust="spacingAndGlyphs">10</text>
<text x="73.2" y="357.2" font-size="4.4" text-anchor="start" fill="#222" font-weight="normal" stroke="#222" stroke-width="0.12">4</text>
<text x="77.1" y="359.7" font-size="6.6" text-anchor="start" fill="#222" font-weight="normal" stroke="#222" stroke-width="0.12" textLength="6.6" lengthAdjust="spacingAndGlyphs">10</text>
<text x="83.89999999999999" y="357.2" font-size="4.4" text-anchor="start" fill="#222" font-weight="normal" stroke="#222" stroke-width="0.12">5</text>
<line x1="29.8" y1="364.2" x2="82.2" y2="364.2" stroke="#222" stroke-width="1.1"/>
<path d="M81.4,362.3 L85.2,364.2 L81.4,366.09999999999997 Z" fill="#222"/>
<text x="57.9" y="374.6" font-size="9.2" text-anchor="middle" fill="#222" font-weight="normal" stroke="#222" stroke-width="0.12" textLength="13.6" lengthAdjust="spacingAndGlyphs">GPA</text>
<rect x="126.3" y="294.0" width="52.500000000000014" height="54.39999999999998" fill="none" stroke="#222" stroke-width="1.1"/>
<line x1="126.3" y1="294.0" x2="178.8" y2="294.0" stroke="#222" stroke-width="1.6"/>
<line x1="178.8" y1="294.0" x2="178.8" y2="348.4" stroke="#222" stroke-width="1.4"/>
<line x1="123.89999999999999" y1="342.4" x2="126.3" y2="342.4" stroke="#222" stroke-width="0.9"/>
<line x1="124.6" y1="339.145" x2="126.3" y2="339.145" stroke="#222" stroke-width="0.7"/>
<line x1="124.6" y1="337.19199999999995" x2="126.3" y2="337.19199999999995" stroke="#222" stroke-width="0.7"/>
<line x1="124.6" y1="335.89" x2="126.3" y2="335.89" stroke="#222" stroke-width="0.7"/>
<line x1="124.6" y1="334.80499999999995" x2="126.3" y2="334.80499999999995" stroke="#222" stroke-width="0.7"/>
<line x1="124.6" y1="333.93699999999995" x2="126.3" y2="333.93699999999995" stroke="#222" stroke-width="0.7"/>
<line x1="124.6" y1="333.17749999999995" x2="126.3" y2="333.17749999999995" stroke="#222" stroke-width="0.7"/>
<line x1="124.6" y1="332.635" x2="126.3" y2="332.635" stroke="#222" stroke-width="0.7"/>
<line x1="124.6" y1="332.0925" x2="126.3" y2="332.0925" stroke="#222" stroke-width="0.7"/>
<line x1="123.89999999999999" y1="331.55" x2="126.3" y2="331.55" stroke="#222" stroke-width="0.9"/>
<line x1="124.6" y1="328.295" x2="126.3" y2="328.295" stroke="#222" stroke-width="0.7"/>
<line x1="124.6" y1="326.342" x2="126.3" y2="326.342" stroke="#222" stroke-width="0.7"/>
<line x1="124.6" y1="325.04" x2="126.3" y2="325.04" stroke="#222" stroke-width="0.7"/>
<line x1="124.6" y1="323.95500000000004" x2="126.3" y2="323.95500000000004" stroke="#222" stroke-width="0.7"/>
<line x1="124.6" y1="323.087" x2="126.3" y2="323.087" stroke="#222" stroke-width="0.7"/>
<line x1="124.6" y1="322.3275" x2="126.3" y2="322.3275" stroke="#222" stroke-width="0.7"/>
<line x1="124.6" y1="321.785" x2="126.3" y2="321.785" stroke="#222" stroke-width="0.7"/>
<line x1="124.6" y1="321.2425" x2="126.3" y2="321.2425" stroke="#222" stroke-width="0.7"/>
<line x1="123.89999999999999" y1="320.7" x2="126.3" y2="320.7" stroke="#222" stroke-width="0.9"/>
<line x1="124.6" y1="317.445" x2="126.3" y2="317.445" stroke="#222" stroke-width="0.7"/>
<line x1="124.6" y1="315.49199999999996" x2="126.3" y2="315.49199999999996" stroke="#222" stroke-width="0.7"/>
<line x1="124.6" y1="314.19" x2="126.3" y2="314.19" stroke="#222" stroke-width="0.7"/>
<line x1="124.6" y1="313.105" x2="126.3" y2="313.105" stroke="#222" stroke-width="0.7"/>
<line x1="124.6" y1="312.23699999999997" x2="126.3" y2="312.23699999999997" stroke="#222" stroke-width="0.7"/>
<line x1="124.6" y1="311.47749999999996" x2="126.3" y2="311.47749999999996" stroke="#222" stroke-width="0.7"/>
<line x1="124.6" y1="310.935" x2="126.3" y2="310.935" stroke="#222" stroke-width="0.7"/>
<line x1="124.6" y1="310.3925" x2="126.3" y2="310.3925" stroke="#222" stroke-width="0.7"/>
<line x1="123.89999999999999" y1="309.85" x2="126.3" y2="309.85" stroke="#222" stroke-width="0.9"/>
<line x1="124.6" y1="306.595" x2="126.3" y2="306.595" stroke="#222" stroke-width="0.7"/>
<line x1="124.6" y1="304.642" x2="126.3" y2="304.642" stroke="#222" stroke-width="0.7"/>
<line x1="124.6" y1="303.34000000000003" x2="126.3" y2="303.34000000000003" stroke="#222" stroke-width="0.7"/>
<line x1="124.6" y1="302.255" x2="126.3" y2="302.255" stroke="#222" stroke-width="0.7"/>
<line x1="124.6" y1="301.387" x2="126.3" y2="301.387" stroke="#222" stroke-width="0.7"/>
<line x1="124.6" y1="300.6275" x2="126.3" y2="300.6275" stroke="#222" stroke-width="0.7"/>
<line x1="124.6" y1="300.08500000000004" x2="126.3" y2="300.08500000000004" stroke="#222" stroke-width="0.7"/>
<line x1="124.6" y1="299.5425" x2="126.3" y2="299.5425" stroke="#222" stroke-width="0.7"/>
<line x1="123.89999999999999" y1="299.0" x2="126.3" y2="299.0" stroke="#222" stroke-width="0.9"/>
<line x1="124.6" y1="295.745" x2="126.3" y2="295.745" stroke="#222" stroke-width="0.7"/>
<line x1="128.3" y1="348.4" x2="128.3" y2="350.0" stroke="#333" stroke-width="0.7"/>
<line x1="131.48000000000002" y1="348.4" x2="131.48000000000002" y2="349.5" stroke="#333" stroke-width="0.6"/>
<line x1="133.388" y1="348.4" x2="133.388" y2="349.5" stroke="#333" stroke-width="0.6"/>
<line x1="134.66000000000003" y1="348.4" x2="134.66000000000003" y2="349.5" stroke="#333" stroke-width="0.6"/>
<line x1="135.72" y1="348.4" x2="135.72" y2="349.5" stroke="#333" stroke-width="0.6"/>
<line x1="136.568" y1="348.4" x2="136.568" y2="349.5" stroke="#333" stroke-width="0.6"/>
<line x1="137.31" y1="348.4" x2="137.31" y2="349.5" stroke="#333" stroke-width="0.6"/>
<line x1="137.84" y1="348.4" x2="137.84" y2="349.5" stroke="#333" stroke-width="0.6"/>
<line x1="138.37" y1="348.4" x2="138.37" y2="349.5" stroke="#333" stroke-width="0.6"/>
<line x1="138.9" y1="348.4" x2="138.9" y2="350.0" stroke="#333" stroke-width="0.7"/>
<line x1="142.08" y1="348.4" x2="142.08" y2="349.5" stroke="#333" stroke-width="0.6"/>
<line x1="143.988" y1="348.4" x2="143.988" y2="349.5" stroke="#333" stroke-width="0.6"/>
<line x1="145.26" y1="348.4" x2="145.26" y2="349.5" stroke="#333" stroke-width="0.6"/>
<line x1="146.32" y1="348.4" x2="146.32" y2="349.5" stroke="#333" stroke-width="0.6"/>
<line x1="147.168" y1="348.4" x2="147.168" y2="349.5" stroke="#333" stroke-width="0.6"/>
<line x1="147.91" y1="348.4" x2="147.91" y2="349.5" stroke="#333" stroke-width="0.6"/>
<line x1="148.44" y1="348.4" x2="148.44" y2="349.5" stroke="#333" stroke-width="0.6"/>
<line x1="148.97" y1="348.4" x2="148.97" y2="349.5" stroke="#333" stroke-width="0.6"/>
<line x1="149.5" y1="348.4" x2="149.5" y2="350.0" stroke="#333" stroke-width="0.7"/>
<line x1="152.68" y1="348.4" x2="152.68" y2="349.5" stroke="#333" stroke-width="0.6"/>
<line x1="154.588" y1="348.4" x2="154.588" y2="349.5" stroke="#333" stroke-width="0.6"/>
<line x1="155.86" y1="348.4" x2="155.86" y2="349.5" stroke="#333" stroke-width="0.6"/>
<line x1="156.92" y1="348.4" x2="156.92" y2="349.5" stroke="#333" stroke-width="0.6"/>
<line x1="157.768" y1="348.4" x2="157.768" y2="349.5" stroke="#333" stroke-width="0.6"/>
<line x1="158.51" y1="348.4" x2="158.51" y2="349.5" stroke="#333" stroke-width="0.6"/>
<line x1="159.04" y1="348.4" x2="159.04" y2="349.5" stroke="#333" stroke-width="0.6"/>
<line x1="159.57" y1="348.4" x2="159.57" y2="349.5" stroke="#333" stroke-width="0.6"/>
<line x1="160.10000000000002" y1="348.4" x2="160.10000000000002" y2="350.0" stroke="#333" stroke-width="0.7"/>
<line x1="163.28000000000003" y1="348.4" x2="163.28000000000003" y2="349.5" stroke="#333" stroke-width="0.6"/>
<line x1="165.18800000000002" y1="348.4" x2="165.18800000000002" y2="349.5" stroke="#333" stroke-width="0.6"/>
<line x1="166.46000000000004" y1="348.4" x2="166.46000000000004" y2="349.5" stroke="#333" stroke-width="0.6"/>
<line x1="167.52" y1="348.4" x2="167.52" y2="349.5" stroke="#333" stroke-width="0.6"/>
<line x1="168.36800000000002" y1="348.4" x2="168.36800000000002" y2="349.5" stroke="#333" stroke-width="0.6"/>
<line x1="169.11" y1="348.4" x2="169.11" y2="349.5" stroke="#333" stroke-width="0.6"/>
<line x1="169.64000000000001" y1="348.4" x2="169.64000000000001" y2="349.5" stroke="#333" stroke-width="0.6"/>
<line x1="170.17000000000002" y1="348.4" x2="170.17000000000002" y2="349.5" stroke="#333" stroke-width="0.6"/>
<line x1="170.70000000000002" y1="348.4" x2="170.70000000000002" y2="350.0" stroke="#333" stroke-width="0.7"/>
<line x1="173.88000000000002" y1="348.4" x2="173.88000000000002" y2="349.5" stroke="#333" stroke-width="0.6"/>
<line x1="175.788" y1="348.4" x2="175.788" y2="349.5" stroke="#333" stroke-width="0.6"/>
<line x1="177.06" y1="348.4" x2="177.06" y2="349.5" stroke="#333" stroke-width="0.6"/>
<line x1="178.12" y1="348.4" x2="178.12" y2="349.5" stroke="#333" stroke-width="0.6"/>
<path d="M135.6,304.4 C136.0,303.6 137.8,302.1 139.0,301.0 C140.2,299.9 141.8,298.2 143.1,297.5 C144.4,296.8 145.9,296.5 147.1,296.7 C148.3,296.9 149.6,297.7 150.2,298.7 C150.8,299.7 150.6,301.4 150.9,302.7 C151.2,304.0 151.8,305.5 152.1,306.7 C152.4,307.9 153.1,308.8 152.9,309.6 C152.8,310.4 151.8,311.1 151.2,311.3 C150.6,311.5 150.0,311.2 149.4,310.8 C148.8,310.4 148.6,309.0 147.7,308.7 C146.8,308.4 145.4,309.2 144.2,309.0 C142.9,308.8 141.4,307.9 140.2,307.3 C138.9,306.7 137.5,306.1 136.7,305.6 C135.9,305.1 135.2,305.2 135.6,304.4 Z" fill="#0a14f0" stroke="none" stroke-width="0"/>
<path d="M137.3,304.1 C137.6,303.5 139.0,302.3 140.0,301.4 C141.0,300.5 142.2,299.2 143.3,298.6 C144.4,298.0 145.6,297.8 146.5,297.9 C147.4,298.1 148.5,298.7 149.0,299.5 C149.5,300.3 149.3,301.7 149.5,302.7 C149.8,303.8 150.2,305.0 150.5,305.9 C150.8,306.9 151.3,307.6 151.1,308.3 C151.0,308.9 150.2,309.5 149.8,309.6 C149.3,309.8 148.8,309.6 148.3,309.2 C147.9,308.9 147.7,307.8 147.0,307.5 C146.3,307.3 145.2,308.0 144.2,307.8 C143.2,307.6 142.0,306.9 141.0,306.4 C140.0,306.0 138.8,305.4 138.2,305.1 C137.6,304.7 137.0,304.7 137.3,304.1 Z" fill="#0058ff" stroke="none" stroke-width="0"/>
<path d="M138.7,303.9 C138.9,303.4 140.0,302.4 140.8,301.7 C141.6,300.9 142.6,299.9 143.5,299.4 C144.3,299.0 145.3,298.8 146.0,298.9 C146.8,299.1 147.6,299.6 148.0,300.2 C148.4,300.9 148.2,301.9 148.5,302.8 C148.7,303.6 149.0,304.6 149.2,305.3 C149.4,306.1 149.8,306.7 149.7,307.2 C149.6,307.7 149.0,308.1 148.6,308.3 C148.3,308.4 147.9,308.2 147.5,308.0 C147.1,307.7 147.0,306.8 146.4,306.6 C145.8,306.4 145.0,307.0 144.2,306.8 C143.4,306.7 142.4,306.1 141.6,305.7 C140.8,305.4 139.9,304.9 139.4,304.6 C138.9,304.3 138.4,304.4 138.7,303.9 Z" fill="#00a8ff" stroke="none" stroke-width="0"/>
<path d="M139.8,303.6 C140.0,303.3 140.9,302.5 141.6,301.9 C142.2,301.4 142.9,300.6 143.6,300.2 C144.3,299.8 145.0,299.7 145.6,299.8 C146.2,299.9 146.8,300.3 147.1,300.8 C147.5,301.3 147.3,302.1 147.5,302.8 C147.7,303.5 147.9,304.2 148.1,304.8 C148.3,305.4 148.6,305.9 148.5,306.2 C148.4,306.6 147.9,307.0 147.6,307.1 C147.4,307.2 147.0,307.1 146.8,306.9 C146.5,306.6 146.3,305.9 145.9,305.8 C145.5,305.6 144.8,306.1 144.1,305.9 C143.5,305.8 142.8,305.4 142.1,305.1 C141.5,304.8 140.8,304.5 140.4,304.2 C140.0,304.0 139.7,304.0 139.8,303.6 Z" fill="#10e0b0" stroke="none" stroke-width="0"/>
<path d="M140.9,303.5 C141.0,303.2 141.7,302.6 142.2,302.2 C142.6,301.7 143.2,301.1 143.7,300.8 C144.2,300.6 144.8,300.5 145.2,300.5 C145.7,300.6 146.2,300.9 146.4,301.3 C146.7,301.7 146.6,302.3 146.7,302.8 C146.8,303.3 147.0,303.9 147.1,304.3 C147.3,304.8 147.5,305.2 147.4,305.4 C147.4,305.7 147.0,306.0 146.8,306.1 C146.6,306.2 146.3,306.1 146.1,305.9 C145.9,305.7 145.8,305.2 145.5,305.1 C145.1,305.0 144.6,305.3 144.1,305.2 C143.7,305.1 143.1,304.8 142.6,304.6 C142.1,304.4 141.6,304.1 141.3,303.9 C141.0,303.7 140.7,303.8 140.9,303.5 Z" fill="#70f040" stroke="none" stroke-width="0"/>
<path d="M141.8,303.3 C141.9,303.1 142.4,302.7 142.7,302.4 C143.1,302.1 143.5,301.6 143.8,301.4 C144.2,301.2 144.6,301.2 144.9,301.2 C145.2,301.3 145.6,301.5 145.7,301.8 C145.9,302.0 145.9,302.5 145.9,302.8 C146.0,303.2 146.2,303.6 146.3,303.9 C146.3,304.2 146.5,304.5 146.5,304.7 C146.4,304.9 146.2,305.1 146.0,305.2 C145.9,305.2 145.7,305.1 145.5,305.0 C145.4,304.9 145.3,304.5 145.1,304.5 C144.8,304.4 144.5,304.6 144.1,304.5 C143.8,304.5 143.4,304.2 143.0,304.1 C142.7,303.9 142.3,303.8 142.1,303.6 C141.9,303.5 141.7,303.5 141.8,303.3 Z" fill="#f0f000" stroke="none" stroke-width="0"/>
<path d="M142.6,303.2 C142.6,303.0 143.0,302.8 143.2,302.6 C143.4,302.4 143.7,302.1 143.9,301.9 C144.2,301.8 144.4,301.7 144.6,301.8 C144.9,301.8 145.1,302.0 145.2,302.1 C145.3,302.3 145.3,302.6 145.3,302.9 C145.4,303.1 145.5,303.4 145.5,303.6 C145.6,303.8 145.7,304.0 145.7,304.1 C145.7,304.2 145.5,304.4 145.4,304.4 C145.3,304.4 145.2,304.4 145.1,304.3 C144.9,304.2 144.9,304.0 144.7,303.9 C144.6,303.9 144.3,304.0 144.1,304.0 C143.9,304.0 143.6,303.8 143.4,303.7 C143.2,303.6 142.9,303.5 142.8,303.4 C142.6,303.3 142.5,303.3 142.6,303.2 Z" fill="#ff9000" stroke="none" stroke-width="0"/>
<path d="M143.2,303.0 C143.3,303.0 143.5,302.8 143.6,302.7 C143.7,302.6 143.9,302.4 144.0,302.4 C144.1,302.3 144.3,302.3 144.4,302.3 C144.5,302.3 144.6,302.4 144.7,302.5 C144.8,302.6 144.7,302.7 144.8,302.9 C144.8,303.0 144.9,303.2 144.9,303.3 C144.9,303.4 145.0,303.5 145.0,303.6 C145.0,303.6 144.9,303.7 144.8,303.7 C144.8,303.8 144.7,303.7 144.6,303.7 C144.6,303.6 144.5,303.5 144.5,303.5 C144.4,303.4 144.2,303.5 144.1,303.5 C144.0,303.5 143.8,303.4 143.7,303.3 C143.6,303.3 143.4,303.2 143.4,303.2 C143.3,303.1 143.2,303.1 143.2,303.0 Z" fill="#ff1a00" stroke="none" stroke-width="0"/>
<text x="128.3" y="359.7" font-size="6.6" text-anchor="start" fill="#222" font-weight="normal" stroke="#222" stroke-width="0.12" textLength="6.6" lengthAdjust="spacingAndGlyphs">10</text>
<text x="135.10000000000002" y="357.2" font-size="4.4" text-anchor="start" fill="#222" font-weight="normal" stroke="#222" stroke-width="0.12">1</text>
<text x="139.0" y="359.7" font-size="6.6" text-anchor="start" fill="#222" font-weight="normal" stroke="#222" stroke-width="0.12" textLength="6.6" lengthAdjust="spacingAndGlyphs">10</text>
<text x="145.8" y="357.2" font-size="4.4" text-anchor="start" fill="#222" font-weight="normal" stroke="#222" stroke-width="0.12">2</text>
<text x="149.70000000000002" y="359.7" font-size="6.6" text-anchor="start" fill="#222" font-weight="normal" stroke="#222" stroke-width="0.12" textLength="6.6" lengthAdjust="spacingAndGlyphs">10</text>
<text x="156.50000000000003" y="357.2" font-size="4.4" text-anchor="start" fill="#222" font-weight="normal" stroke="#222" stroke-width="0.12">3</text>
<text x="160.4" y="359.7" font-size="6.6" text-anchor="start" fill="#222" font-weight="normal" stroke="#222" stroke-width="0.12" textLength="6.6" lengthAdjust="spacingAndGlyphs">10</text>
<text x="167.20000000000002" y="357.2" font-size="4.4" text-anchor="start" fill="#222" font-weight="normal" stroke="#222" stroke-width="0.12">4</text>
<text x="171.10000000000002" y="359.7" font-size="6.6" text-anchor="start" fill="#222" font-weight="normal" stroke="#222" stroke-width="0.12" textLength="6.6" lengthAdjust="spacingAndGlyphs">10</text>
<text x="177.90000000000003" y="357.2" font-size="4.4" text-anchor="start" fill="#222" font-weight="normal" stroke="#222" stroke-width="0.12">5</text>
<line x1="109.0" y1="364.2" x2="175.3" y2="364.2" stroke="#222" stroke-width="1.1"/>
<path d="M174.5,362.3 L178.3,364.2 L174.5,366.09999999999997 Z" fill="#222"/>
<line x1="109.0" y1="364.2" x2="109.0" y2="298.4" stroke="#222" stroke-width="1.1"/>
<path d="M107.1,299.2 L109.0,295.4 L110.9,299.2 Z" fill="#222"/>
<text x="144.15" y="374.6" font-size="9.4" text-anchor="middle" fill="#222" font-weight="normal" stroke="#222" stroke-width="0.12" textLength="23.1" lengthAdjust="spacingAndGlyphs">Band 3</text>
<text x="104.2" y="329.0" font-size="8.8" text-anchor="middle" fill="#222" font-weight="normal" stroke="#222" stroke-width="0.12" textLength="38.6" lengthAdjust="spacingAndGlyphs" transform="rotate(-90 104.2 329.0)">α4-integrin</text>
<text x="112.6" y="301.4" font-size="6.6" text-anchor="start" fill="#222" font-weight="normal" stroke="#222" stroke-width="0.12" textLength="6.8" lengthAdjust="spacingAndGlyphs">10</text>
<text x="119.6" y="298.9" font-size="4.4" text-anchor="start" fill="#222" font-weight="normal" stroke="#222" stroke-width="0.12">5</text>
<text x="112.6" y="312.25" font-size="6.6" text-anchor="start" fill="#222" font-weight="normal" stroke="#222" stroke-width="0.12" textLength="6.8" lengthAdjust="spacingAndGlyphs">10</text>
<text x="119.6" y="309.75" font-size="4.4" text-anchor="start" fill="#222" font-weight="normal" stroke="#222" stroke-width="0.12">4</text>
<text x="112.6" y="323.09999999999997" font-size="6.6" text-anchor="start" fill="#222" font-weight="normal" stroke="#222" stroke-width="0.12" textLength="6.8" lengthAdjust="spacingAndGlyphs">10</text>
<text x="119.6" y="320.59999999999997" font-size="4.4" text-anchor="start" fill="#222" font-weight="normal" stroke="#222" stroke-width="0.12">3</text>
<text x="112.6" y="333.95" font-size="6.6" text-anchor="start" fill="#222" font-weight="normal" stroke="#222" stroke-width="0.12" textLength="6.8" lengthAdjust="spacingAndGlyphs">10</text>
<text x="119.6" y="331.45" font-size="4.4" text-anchor="start" fill="#222" font-weight="normal" stroke="#222" stroke-width="0.12">2</text>
<text x="112.6" y="344.79999999999995" font-size="6.6" text-anchor="start" fill="#222" font-weight="normal" stroke="#222" stroke-width="0.12" textLength="6.8" lengthAdjust="spacingAndGlyphs">10</text>
<text x="119.6" y="342.29999999999995" font-size="4.4" text-anchor="start" fill="#222" font-weight="normal" stroke="#222" stroke-width="0.12">1</text>
<rect x="34.2" y="383.5" width="51.39999999999999" height="54.19999999999999" fill="none" stroke="#222" stroke-width="1.1"/>
<line x1="34.2" y1="383.5" x2="85.6" y2="383.5" stroke="#222" stroke-width="1.6"/>
<line x1="85.6" y1="383.5" x2="85.6" y2="437.7" stroke="#222" stroke-width="1.4"/>
<line x1="32.2" y1="437.7" x2="34.2" y2="437.7" stroke="#222" stroke-width="0.8"/>
<line x1="32.2" y1="434.3" x2="34.2" y2="434.3" stroke="#222" stroke-width="0.8"/>
<line x1="32.2" y1="430.9" x2="34.2" y2="430.9" stroke="#222" stroke-width="0.8"/>
<line x1="32.2" y1="427.5" x2="34.2" y2="427.5" stroke="#222" stroke-width="0.8"/>
<line x1="32.2" y1="424.09999999999997" x2="34.2" y2="424.09999999999997" stroke="#222" stroke-width="0.8"/>
<line x1="32.2" y1="420.7" x2="34.2" y2="420.7" stroke="#222" stroke-width="0.8"/>
<line x1="32.2" y1="417.3" x2="34.2" y2="417.3" stroke="#222" stroke-width="0.8"/>
<line x1="32.2" y1="413.9" x2="34.2" y2="413.9" stroke="#222" stroke-width="0.8"/>
<line x1="32.2" y1="410.5" x2="34.2" y2="410.5" stroke="#222" stroke-width="0.8"/>
<line x1="32.2" y1="407.09999999999997" x2="34.2" y2="407.09999999999997" stroke="#222" stroke-width="0.8"/>
<line x1="32.2" y1="403.7" x2="34.2" y2="403.7" stroke="#222" stroke-width="0.8"/>
<line x1="32.2" y1="400.3" x2="34.2" y2="400.3" stroke="#222" stroke-width="0.8"/>
<line x1="32.2" y1="396.9" x2="34.2" y2="396.9" stroke="#222" stroke-width="0.8"/>
<line x1="32.2" y1="393.5" x2="34.2" y2="393.5" stroke="#222" stroke-width="0.8"/>
<line x1="32.2" y1="390.09999999999997" x2="34.2" y2="390.09999999999997" stroke="#222" stroke-width="0.8"/>
<line x1="32.2" y1="386.7" x2="34.2" y2="386.7" stroke="#222" stroke-width="0.8"/>
<line x1="35.2" y1="437.7" x2="35.2" y2="439.3" stroke="#333" stroke-width="0.7"/>
<line x1="38.38" y1="437.7" x2="38.38" y2="438.8" stroke="#333" stroke-width="0.6"/>
<line x1="40.288000000000004" y1="437.7" x2="40.288000000000004" y2="438.8" stroke="#333" stroke-width="0.6"/>
<line x1="41.56" y1="437.7" x2="41.56" y2="438.8" stroke="#333" stroke-width="0.6"/>
<line x1="42.620000000000005" y1="437.7" x2="42.620000000000005" y2="438.8" stroke="#333" stroke-width="0.6"/>
<line x1="43.468" y1="437.7" x2="43.468" y2="438.8" stroke="#333" stroke-width="0.6"/>
<line x1="44.21" y1="437.7" x2="44.21" y2="438.8" stroke="#333" stroke-width="0.6"/>
<line x1="44.74" y1="437.7" x2="44.74" y2="438.8" stroke="#333" stroke-width="0.6"/>
<line x1="45.27" y1="437.7" x2="45.27" y2="438.8" stroke="#333" stroke-width="0.6"/>
<line x1="45.800000000000004" y1="437.7" x2="45.800000000000004" y2="439.3" stroke="#333" stroke-width="0.7"/>
<line x1="48.980000000000004" y1="437.7" x2="48.980000000000004" y2="438.8" stroke="#333" stroke-width="0.6"/>
<line x1="50.888000000000005" y1="437.7" x2="50.888000000000005" y2="438.8" stroke="#333" stroke-width="0.6"/>
<line x1="52.160000000000004" y1="437.7" x2="52.160000000000004" y2="438.8" stroke="#333" stroke-width="0.6"/>
<line x1="53.220000000000006" y1="437.7" x2="53.220000000000006" y2="438.8" stroke="#333" stroke-width="0.6"/>
<line x1="54.068000000000005" y1="437.7" x2="54.068000000000005" y2="438.8" stroke="#333" stroke-width="0.6"/>
<line x1="54.81" y1="437.7" x2="54.81" y2="438.8" stroke="#333" stroke-width="0.6"/>
<line x1="55.34" y1="437.7" x2="55.34" y2="438.8" stroke="#333" stroke-width="0.6"/>
<line x1="55.870000000000005" y1="437.7" x2="55.870000000000005" y2="438.8" stroke="#333" stroke-width="0.6"/>
<line x1="56.400000000000006" y1="437.7" x2="56.400000000000006" y2="439.3" stroke="#333" stroke-width="0.7"/>
<line x1="59.580000000000005" y1="437.7" x2="59.580000000000005" y2="438.8" stroke="#333" stroke-width="0.6"/>
<line x1="61.48800000000001" y1="437.7" x2="61.48800000000001" y2="438.8" stroke="#333" stroke-width="0.6"/>
<line x1="62.760000000000005" y1="437.7" x2="62.760000000000005" y2="438.8" stroke="#333" stroke-width="0.6"/>
<line x1="63.82000000000001" y1="437.7" x2="63.82000000000001" y2="438.8" stroke="#333" stroke-width="0.6"/>
<line x1="64.668" y1="437.7" x2="64.668" y2="438.8" stroke="#333" stroke-width="0.6"/>
<line x1="65.41000000000001" y1="437.7" x2="65.41000000000001" y2="438.8" stroke="#333" stroke-width="0.6"/>
<line x1="65.94" y1="437.7" x2="65.94" y2="438.8" stroke="#333" stroke-width="0.6"/>
<line x1="66.47" y1="437.7" x2="66.47" y2="438.8" stroke="#333" stroke-width="0.6"/>
<line x1="67.0" y1="437.7" x2="67.0" y2="439.3" stroke="#333" stroke-width="0.7"/>
<line x1="70.18" y1="437.7" x2="70.18" y2="438.8" stroke="#333" stroke-width="0.6"/>
<line x1="72.088" y1="437.7" x2="72.088" y2="438.8" stroke="#333" stroke-width="0.6"/>
<line x1="73.36" y1="437.7" x2="73.36" y2="438.8" stroke="#333" stroke-width="0.6"/>
<line x1="74.42" y1="437.7" x2="74.42" y2="438.8" stroke="#333" stroke-width="0.6"/>
<line x1="75.268" y1="437.7" x2="75.268" y2="438.8" stroke="#333" stroke-width="0.6"/>
<line x1="76.01" y1="437.7" x2="76.01" y2="438.8" stroke="#333" stroke-width="0.6"/>
<line x1="76.53999999999999" y1="437.7" x2="76.53999999999999" y2="438.8" stroke="#333" stroke-width="0.6"/>
<line x1="77.07" y1="437.7" x2="77.07" y2="438.8" stroke="#333" stroke-width="0.6"/>
<line x1="77.6" y1="437.7" x2="77.6" y2="439.3" stroke="#333" stroke-width="0.7"/>
<line x1="80.78" y1="437.7" x2="80.78" y2="438.8" stroke="#333" stroke-width="0.6"/>
<line x1="82.68799999999999" y1="437.7" x2="82.68799999999999" y2="438.8" stroke="#333" stroke-width="0.6"/>
<line x1="83.96" y1="437.7" x2="83.96" y2="438.8" stroke="#333" stroke-width="0.6"/>
<line x1="85.02" y1="437.7" x2="85.02" y2="438.8" stroke="#333" stroke-width="0.6"/>
<path d="M34.6,437.6 C35.2,437.4 37.0,437.2 38.1,436.5 C39.2,435.8 40.5,434.4 41.5,433.1 C42.5,431.8 43.1,430.6 43.8,428.5 C44.5,426.4 45.0,423.1 45.6,420.4 C46.2,417.7 46.7,414.4 47.3,412.3 C47.9,410.2 48.6,409.8 49.0,407.7 C49.4,405.6 49.3,402.1 49.8,399.6 C50.3,397.1 51.2,394.3 51.9,392.7 C52.5,391.1 53.2,390.5 53.7,389.8 C54.2,389.1 54.4,388.4 54.8,388.7 C55.2,389.0 55.8,389.7 56.3,391.5 C56.8,393.3 57.2,397.1 57.7,399.6 C58.2,402.1 58.9,403.6 59.4,406.5 C59.9,409.4 60.1,413.2 60.6,416.9 C61.1,420.6 61.6,425.4 62.3,428.5 C63.0,431.6 63.6,433.9 64.6,435.4 C65.6,436.9 67.5,437.2 68.1,437.6" stroke="#c8102e" stroke-width="1.1" fill="none" stroke-linejoin="round"/>
<text x="34.300000000000004" y="449.0" font-size="6.6" text-anchor="start" fill="#222" font-weight="normal" stroke="#222" stroke-width="0.12" textLength="6.6" lengthAdjust="spacingAndGlyphs">10</text>
<text x="41.1" y="446.5" font-size="4.4" text-anchor="start" fill="#222" font-weight="normal" stroke="#222" stroke-width="0.12">1</text>
<text x="45.0" y="449.0" font-size="6.6" text-anchor="start" fill="#222" font-weight="normal" stroke="#222" stroke-width="0.12" textLength="6.6" lengthAdjust="spacingAndGlyphs">10</text>
<text x="51.8" y="446.5" font-size="4.4" text-anchor="start" fill="#222" font-weight="normal" stroke="#222" stroke-width="0.12">2</text>
<text x="55.7" y="449.0" font-size="6.6" text-anchor="start" fill="#222" font-weight="normal" stroke="#222" stroke-width="0.12" textLength="6.6" lengthAdjust="spacingAndGlyphs">10</text>
<text x="62.5" y="446.5" font-size="4.4" text-anchor="start" fill="#222" font-weight="normal" stroke="#222" stroke-width="0.12">3</text>
<text x="66.4" y="449.0" font-size="6.6" text-anchor="start" fill="#222" font-weight="normal" stroke="#222" stroke-width="0.12" textLength="6.6" lengthAdjust="spacingAndGlyphs">10</text>
<text x="73.2" y="446.5" font-size="4.4" text-anchor="start" fill="#222" font-weight="normal" stroke="#222" stroke-width="0.12">4</text>
<text x="77.1" y="449.0" font-size="6.6" text-anchor="start" fill="#222" font-weight="normal" stroke="#222" stroke-width="0.12" textLength="6.6" lengthAdjust="spacingAndGlyphs">10</text>
<text x="83.89999999999999" y="446.5" font-size="4.4" text-anchor="start" fill="#222" font-weight="normal" stroke="#222" stroke-width="0.12">5</text>
<line x1="29.8" y1="453.5" x2="82.2" y2="453.5" stroke="#222" stroke-width="1.1"/>
<path d="M81.4,451.6 L85.2,453.5 L81.4,455.4 Z" fill="#222"/>
<text x="57.9" y="463.9" font-size="9.2" text-anchor="middle" fill="#222" font-weight="normal" stroke="#222" stroke-width="0.12" textLength="13.6" lengthAdjust="spacingAndGlyphs">GPA</text>
<rect x="126.3" y="383.5" width="52.500000000000014" height="54.19999999999999" fill="none" stroke="#222" stroke-width="1.1"/>
<line x1="126.3" y1="383.5" x2="178.8" y2="383.5" stroke="#222" stroke-width="1.6"/>
<line x1="178.8" y1="383.5" x2="178.8" y2="437.7" stroke="#222" stroke-width="1.4"/>
<line x1="123.89999999999999" y1="431.9" x2="126.3" y2="431.9" stroke="#222" stroke-width="0.9"/>
<line x1="124.6" y1="428.645" x2="126.3" y2="428.645" stroke="#222" stroke-width="0.7"/>
<line x1="124.6" y1="426.69199999999995" x2="126.3" y2="426.69199999999995" stroke="#222" stroke-width="0.7"/>
<line x1="124.6" y1="425.39" x2="126.3" y2="425.39" stroke="#222" stroke-width="0.7"/>
<line x1="124.6" y1="424.30499999999995" x2="126.3" y2="424.30499999999995" stroke="#222" stroke-width="0.7"/>
<line x1="124.6" y1="423.43699999999995" x2="126.3" y2="423.43699999999995" stroke="#222" stroke-width="0.7"/>
<line x1="124.6" y1="422.67749999999995" x2="126.3" y2="422.67749999999995" stroke="#222" stroke-width="0.7"/>
<line x1="124.6" y1="422.135" x2="126.3" y2="422.135" stroke="#222" stroke-width="0.7"/>
<line x1="124.6" y1="421.5925" x2="126.3" y2="421.5925" stroke="#222" stroke-width="0.7"/>
<line x1="123.89999999999999" y1="421.05" x2="126.3" y2="421.05" stroke="#222" stroke-width="0.9"/>
<line x1="124.6" y1="417.795" x2="126.3" y2="417.795" stroke="#222" stroke-width="0.7"/>
<line x1="124.6" y1="415.842" x2="126.3" y2="415.842" stroke="#222" stroke-width="0.7"/>
<line x1="124.6" y1="414.54" x2="126.3" y2="414.54" stroke="#222" stroke-width="0.7"/>
<line x1="124.6" y1="413.45500000000004" x2="126.3" y2="413.45500000000004" stroke="#222" stroke-width="0.7"/>
<line x1="124.6" y1="412.587" x2="126.3" y2="412.587" stroke="#222" stroke-width="0.7"/>
<line x1="124.6" y1="411.8275" x2="126.3" y2="411.8275" stroke="#222" stroke-width="0.7"/>
<line x1="124.6" y1="411.285" x2="126.3" y2="411.285" stroke="#222" stroke-width="0.7"/>
<line x1="124.6" y1="410.7425" x2="126.3" y2="410.7425" stroke="#222" stroke-width="0.7"/>
<line x1="123.89999999999999" y1="410.2" x2="126.3" y2="410.2" stroke="#222" stroke-width="0.9"/>
<line x1="124.6" y1="406.945" x2="126.3" y2="406.945" stroke="#222" stroke-width="0.7"/>
<line x1="124.6" y1="404.99199999999996" x2="126.3" y2="404.99199999999996" stroke="#222" stroke-width="0.7"/>
<line x1="124.6" y1="403.69" x2="126.3" y2="403.69" stroke="#222" stroke-width="0.7"/>
<line x1="124.6" y1="402.605" x2="126.3" y2="402.605" stroke="#222" stroke-width="0.7"/>
<line x1="124.6" y1="401.73699999999997" x2="126.3" y2="401.73699999999997" stroke="#222" stroke-width="0.7"/>
<line x1="124.6" y1="400.97749999999996" x2="126.3" y2="400.97749999999996" stroke="#222" stroke-width="0.7"/>
<line x1="124.6" y1="400.435" x2="126.3" y2="400.435" stroke="#222" stroke-width="0.7"/>
<line x1="124.6" y1="399.8925" x2="126.3" y2="399.8925" stroke="#222" stroke-width="0.7"/>
<line x1="123.89999999999999" y1="399.35" x2="126.3" y2="399.35" stroke="#222" stroke-width="0.9"/>
<line x1="124.6" y1="396.095" x2="126.3" y2="396.095" stroke="#222" stroke-width="0.7"/>
<line x1="124.6" y1="394.142" x2="126.3" y2="394.142" stroke="#222" stroke-width="0.7"/>
<line x1="124.6" y1="392.84000000000003" x2="126.3" y2="392.84000000000003" stroke="#222" stroke-width="0.7"/>
<line x1="124.6" y1="391.755" x2="126.3" y2="391.755" stroke="#222" stroke-width="0.7"/>
<line x1="124.6" y1="390.887" x2="126.3" y2="390.887" stroke="#222" stroke-width="0.7"/>
<line x1="124.6" y1="390.1275" x2="126.3" y2="390.1275" stroke="#222" stroke-width="0.7"/>
<line x1="124.6" y1="389.58500000000004" x2="126.3" y2="389.58500000000004" stroke="#222" stroke-width="0.7"/>
<line x1="124.6" y1="389.0425" x2="126.3" y2="389.0425" stroke="#222" stroke-width="0.7"/>
<line x1="123.89999999999999" y1="388.5" x2="126.3" y2="388.5" stroke="#222" stroke-width="0.9"/>
<line x1="124.6" y1="385.245" x2="126.3" y2="385.245" stroke="#222" stroke-width="0.7"/>
<line x1="128.3" y1="437.7" x2="128.3" y2="439.3" stroke="#333" stroke-width="0.7"/>
<line x1="131.48000000000002" y1="437.7" x2="131.48000000000002" y2="438.8" stroke="#333" stroke-width="0.6"/>
<line x1="133.388" y1="437.7" x2="133.388" y2="438.8" stroke="#333" stroke-width="0.6"/>
<line x1="134.66000000000003" y1="437.7" x2="134.66000000000003" y2="438.8" stroke="#333" stroke-width="0.6"/>
<line x1="135.72" y1="437.7" x2="135.72" y2="438.8" stroke="#333" stroke-width="0.6"/>
<line x1="136.568" y1="437.7" x2="136.568" y2="438.8" stroke="#333" stroke-width="0.6"/>
<line x1="137.31" y1="437.7" x2="137.31" y2="438.8" stroke="#333" stroke-width="0.6"/>
<line x1="137.84" y1="437.7" x2="137.84" y2="438.8" stroke="#333" stroke-width="0.6"/>
<line x1="138.37" y1="437.7" x2="138.37" y2="438.8" stroke="#333" stroke-width="0.6"/>
<line x1="138.9" y1="437.7" x2="138.9" y2="439.3" stroke="#333" stroke-width="0.7"/>
<line x1="142.08" y1="437.7" x2="142.08" y2="438.8" stroke="#333" stroke-width="0.6"/>
<line x1="143.988" y1="437.7" x2="143.988" y2="438.8" stroke="#333" stroke-width="0.6"/>
<line x1="145.26" y1="437.7" x2="145.26" y2="438.8" stroke="#333" stroke-width="0.6"/>
<line x1="146.32" y1="437.7" x2="146.32" y2="438.8" stroke="#333" stroke-width="0.6"/>
<line x1="147.168" y1="437.7" x2="147.168" y2="438.8" stroke="#333" stroke-width="0.6"/>
<line x1="147.91" y1="437.7" x2="147.91" y2="438.8" stroke="#333" stroke-width="0.6"/>
<line x1="148.44" y1="437.7" x2="148.44" y2="438.8" stroke="#333" stroke-width="0.6"/>
<line x1="148.97" y1="437.7" x2="148.97" y2="438.8" stroke="#333" stroke-width="0.6"/>
<line x1="149.5" y1="437.7" x2="149.5" y2="439.3" stroke="#333" stroke-width="0.7"/>
<line x1="152.68" y1="437.7" x2="152.68" y2="438.8" stroke="#333" stroke-width="0.6"/>
<line x1="154.588" y1="437.7" x2="154.588" y2="438.8" stroke="#333" stroke-width="0.6"/>
<line x1="155.86" y1="437.7" x2="155.86" y2="438.8" stroke="#333" stroke-width="0.6"/>
<line x1="156.92" y1="437.7" x2="156.92" y2="438.8" stroke="#333" stroke-width="0.6"/>
<line x1="157.768" y1="437.7" x2="157.768" y2="438.8" stroke="#333" stroke-width="0.6"/>
<line x1="158.51" y1="437.7" x2="158.51" y2="438.8" stroke="#333" stroke-width="0.6"/>
<line x1="159.04" y1="437.7" x2="159.04" y2="438.8" stroke="#333" stroke-width="0.6"/>
<line x1="159.57" y1="437.7" x2="159.57" y2="438.8" stroke="#333" stroke-width="0.6"/>
<line x1="160.10000000000002" y1="437.7" x2="160.10000000000002" y2="439.3" stroke="#333" stroke-width="0.7"/>
<line x1="163.28000000000003" y1="437.7" x2="163.28000000000003" y2="438.8" stroke="#333" stroke-width="0.6"/>
<line x1="165.18800000000002" y1="437.7" x2="165.18800000000002" y2="438.8" stroke="#333" stroke-width="0.6"/>
<line x1="166.46000000000004" y1="437.7" x2="166.46000000000004" y2="438.8" stroke="#333" stroke-width="0.6"/>
<line x1="167.52" y1="437.7" x2="167.52" y2="438.8" stroke="#333" stroke-width="0.6"/>
<line x1="168.36800000000002" y1="437.7" x2="168.36800000000002" y2="438.8" stroke="#333" stroke-width="0.6"/>
<line x1="169.11" y1="437.7" x2="169.11" y2="438.8" stroke="#333" stroke-width="0.6"/>
<line x1="169.64000000000001" y1="437.7" x2="169.64000000000001" y2="438.8" stroke="#333" stroke-width="0.6"/>
<line x1="170.17000000000002" y1="437.7" x2="170.17000000000002" y2="438.8" stroke="#333" stroke-width="0.6"/>
<line x1="170.70000000000002" y1="437.7" x2="170.70000000000002" y2="439.3" stroke="#333" stroke-width="0.7"/>
<line x1="173.88000000000002" y1="437.7" x2="173.88000000000002" y2="438.8" stroke="#333" stroke-width="0.6"/>
<line x1="175.788" y1="437.7" x2="175.788" y2="438.8" stroke="#333" stroke-width="0.6"/>
<line x1="177.06" y1="437.7" x2="177.06" y2="438.8" stroke="#333" stroke-width="0.6"/>
<line x1="178.12" y1="437.7" x2="178.12" y2="438.8" stroke="#333" stroke-width="0.6"/>
<path d="M140.2,391.5 C140.3,390.3 141.4,388.6 142.5,387.5 C143.6,386.4 145.2,385.4 146.5,385.2 C147.8,385.0 149.4,385.5 150.2,386.3 C151.0,387.1 151.5,388.5 151.4,389.8 C151.3,391.1 150.0,393.1 149.4,394.4 C148.8,395.6 148.4,397.0 147.7,397.3 C147.0,397.6 146.4,396.6 145.4,396.2 C144.4,395.8 142.8,395.6 141.9,394.8 C141.0,394.0 140.1,392.7 140.2,391.5 Z" fill="#0a14f0" stroke="none" stroke-width="0"/>
<path d="M141.4,391.4 C141.5,390.4 142.4,389.0 143.3,388.2 C144.1,387.4 145.4,386.5 146.5,386.4 C147.5,386.2 148.8,386.6 149.4,387.2 C150.1,387.9 150.5,389.0 150.4,390.0 C150.3,391.1 149.3,392.7 148.8,393.7 C148.3,394.7 148.0,395.8 147.4,396.0 C146.9,396.3 146.4,395.5 145.6,395.2 C144.8,394.8 143.5,394.7 142.8,394.0 C142.1,393.4 141.3,392.4 141.4,391.4 Z" fill="#0058ff" stroke="none" stroke-width="0"/>
<path d="M142.4,391.3 C142.5,390.5 143.2,389.4 143.9,388.8 C144.5,388.1 145.6,387.4 146.4,387.3 C147.2,387.2 148.3,387.5 148.8,388.0 C149.3,388.5 149.6,389.4 149.6,390.2 C149.5,391.1 148.7,392.4 148.3,393.2 C147.9,394.0 147.6,394.8 147.2,395.0 C146.8,395.2 146.3,394.6 145.7,394.3 C145.1,394.1 144.0,393.9 143.5,393.4 C142.9,392.9 142.3,392.1 142.4,391.3 Z" fill="#00a8ff" stroke="none" stroke-width="0"/>
<path d="M143.2,391.2 C143.3,390.6 143.9,389.8 144.4,389.2 C144.9,388.7 145.8,388.2 146.4,388.1 C147.0,388.0 147.8,388.3 148.2,388.6 C148.7,389.0 148.9,389.7 148.9,390.4 C148.8,391.1 148.2,392.1 147.9,392.7 C147.5,393.3 147.3,394.0 147.0,394.1 C146.7,394.3 146.3,393.8 145.9,393.6 C145.4,393.4 144.5,393.3 144.1,392.9 C143.7,392.5 143.2,391.9 143.2,391.2 Z" fill="#10e0b0" stroke="none" stroke-width="0"/>
<path d="M144.0,391.2 C144.0,390.7 144.5,390.1 144.9,389.7 C145.3,389.3 145.9,388.9 146.4,388.8 C146.9,388.7 147.5,388.9 147.8,389.2 C148.1,389.5 148.3,390.0 148.2,390.5 C148.2,391.1 147.7,391.8 147.5,392.3 C147.2,392.8 147.1,393.3 146.8,393.4 C146.6,393.5 146.3,393.1 146.0,393.0 C145.6,392.8 145.0,392.7 144.6,392.4 C144.3,392.1 143.9,391.7 144.0,391.2 Z" fill="#70f040" stroke="none" stroke-width="0"/>
<path d="M144.7,391.1 C144.7,390.8 145.0,390.3 145.3,390.1 C145.6,389.8 146.0,389.5 146.4,389.4 C146.7,389.4 147.1,389.5 147.4,389.7 C147.6,389.9 147.7,390.3 147.7,390.7 C147.6,391.0 147.3,391.6 147.1,391.9 C147.0,392.3 146.9,392.6 146.7,392.7 C146.5,392.8 146.3,392.5 146.1,392.4 C145.8,392.3 145.3,392.2 145.1,392.0 C144.9,391.8 144.6,391.5 144.7,391.1 Z" fill="#f0f000" stroke="none" stroke-width="0"/>
<path d="M145.2,391.1 C145.2,390.9 145.4,390.6 145.6,390.4 C145.8,390.2 146.1,390.0 146.3,390.0 C146.6,389.9 146.9,390.0 147.0,390.2 C147.1,390.3 147.2,390.5 147.2,390.8 C147.2,391.0 147.0,391.4 146.9,391.6 C146.7,391.8 146.7,392.1 146.6,392.1 C146.4,392.2 146.3,392.0 146.1,391.9 C146.0,391.9 145.7,391.8 145.5,391.7 C145.4,391.5 145.2,391.3 145.2,391.1 Z" fill="#ff9000" stroke="none" stroke-width="0"/>
<path d="M145.7,391.1 C145.7,390.9 145.8,390.8 145.9,390.6 C146.0,390.5 146.2,390.4 146.3,390.4 C146.4,390.4 146.6,390.5 146.7,390.5 C146.8,390.6 146.8,390.7 146.8,390.9 C146.8,391.0 146.7,391.2 146.6,391.3 C146.5,391.5 146.5,391.6 146.4,391.6 C146.4,391.7 146.3,391.6 146.2,391.5 C146.1,391.5 145.9,391.5 145.9,391.4 C145.8,391.3 145.7,391.2 145.7,391.1 Z" fill="#ff1a00" stroke="none" stroke-width="0"/>
<text x="128.3" y="449.0" font-size="6.6" text-anchor="start" fill="#222" font-weight="normal" stroke="#222" stroke-width="0.12" textLength="6.6" lengthAdjust="spacingAndGlyphs">10</text>
<text x="135.10000000000002" y="446.5" font-size="4.4" text-anchor="start" fill="#222" font-weight="normal" stroke="#222" stroke-width="0.12">1</text>
<text x="139.0" y="449.0" font-size="6.6" text-anchor="start" fill="#222" font-weight="normal" stroke="#222" stroke-width="0.12" textLength="6.6" lengthAdjust="spacingAndGlyphs">10</text>
<text x="145.8" y="446.5" font-size="4.4" text-anchor="start" fill="#222" font-weight="normal" stroke="#222" stroke-width="0.12">2</text>
<text x="149.70000000000002" y="449.0" font-size="6.6" text-anchor="start" fill="#222" font-weight="normal" stroke="#222" stroke-width="0.12" textLength="6.6" lengthAdjust="spacingAndGlyphs">10</text>
<text x="156.50000000000003" y="446.5" font-size="4.4" text-anchor="start" fill="#222" font-weight="normal" stroke="#222" stroke-width="0.12">3</text>
<text x="160.4" y="449.0" font-size="6.6" text-anchor="start" fill="#222" font-weight="normal" stroke="#222" stroke-width="0.12" textLength="6.6" lengthAdjust="spacingAndGlyphs">10</text>
<text x="167.20000000000002" y="446.5" font-size="4.4" text-anchor="start" fill="#222" font-weight="normal" stroke="#222" stroke-width="0.12">4</text>
<text x="171.10000000000002" y="449.0" font-size="6.6" text-anchor="start" fill="#222" font-weight="normal" stroke="#222" stroke-width="0.12" textLength="6.6" lengthAdjust="spacingAndGlyphs">10</text>
<text x="177.90000000000003" y="446.5" font-size="4.4" text-anchor="start" fill="#222" font-weight="normal" stroke="#222" stroke-width="0.12">5</text>
<line x1="109.0" y1="453.5" x2="175.3" y2="453.5" stroke="#222" stroke-width="1.1"/>
<path d="M174.5,451.6 L178.3,453.5 L174.5,455.4 Z" fill="#222"/>
<line x1="109.0" y1="453.5" x2="109.0" y2="387.9" stroke="#222" stroke-width="1.1"/>
<path d="M107.1,388.7 L109.0,384.9 L110.9,388.7 Z" fill="#222"/>
<text x="144.15" y="463.9" font-size="9.4" text-anchor="middle" fill="#222" font-weight="normal" stroke="#222" stroke-width="0.12" textLength="23.1" lengthAdjust="spacingAndGlyphs">Band 3</text>
<text x="104.2" y="418.5" font-size="8.8" text-anchor="middle" fill="#222" font-weight="normal" stroke="#222" stroke-width="0.12" textLength="38.6" lengthAdjust="spacingAndGlyphs" transform="rotate(-90 104.2 418.5)">α4-integrin</text>
<text x="112.6" y="390.9" font-size="6.6" text-anchor="start" fill="#222" font-weight="normal" stroke="#222" stroke-width="0.12" textLength="6.8" lengthAdjust="spacingAndGlyphs">10</text>
<text x="119.6" y="388.4" font-size="4.4" text-anchor="start" fill="#222" font-weight="normal" stroke="#222" stroke-width="0.12">5</text>
<text x="112.6" y="401.75" font-size="6.6" text-anchor="start" fill="#222" font-weight="normal" stroke="#222" stroke-width="0.12" textLength="6.8" lengthAdjust="spacingAndGlyphs">10</text>
<text x="119.6" y="399.25" font-size="4.4" text-anchor="start" fill="#222" font-weight="normal" stroke="#222" stroke-width="0.12">4</text>
<text x="112.6" y="412.59999999999997" font-size="6.6" text-anchor="start" fill="#222" font-weight="normal" stroke="#222" stroke-width="0.12" textLength="6.8" lengthAdjust="spacingAndGlyphs">10</text>
<text x="119.6" y="410.09999999999997" font-size="4.4" text-anchor="start" fill="#222" font-weight="normal" stroke="#222" stroke-width="0.12">3</text>
<text x="112.6" y="423.45" font-size="6.6" text-anchor="start" fill="#222" font-weight="normal" stroke="#222" stroke-width="0.12" textLength="6.8" lengthAdjust="spacingAndGlyphs">10</text>
<text x="119.6" y="420.95" font-size="4.4" text-anchor="start" fill="#222" font-weight="normal" stroke="#222" stroke-width="0.12">2</text>
<text x="112.6" y="434.29999999999995" font-size="6.6" text-anchor="start" fill="#222" font-weight="normal" stroke="#222" stroke-width="0.12" textLength="6.8" lengthAdjust="spacingAndGlyphs">10</text>
<text x="119.6" y="431.79999999999995" font-size="4.4" text-anchor="start" fill="#222" font-weight="normal" stroke="#222" stroke-width="0.12">1</text>
<rect x="200.4" y="294.0" width="52.69999999999999" height="54.39999999999998" fill="none" stroke="#222" stroke-width="1.1"/>
<line x1="200.4" y1="294.0" x2="253.1" y2="294.0" stroke="#222" stroke-width="1.6"/>
<line x1="253.1" y1="294.0" x2="253.1" y2="348.4" stroke="#222" stroke-width="1.4"/>
<line x1="198.4" y1="348.4" x2="200.4" y2="348.4" stroke="#222" stroke-width="0.8"/>
<line x1="198.4" y1="345.0" x2="200.4" y2="345.0" stroke="#222" stroke-width="0.8"/>
<line x1="198.4" y1="341.59999999999997" x2="200.4" y2="341.59999999999997" stroke="#222" stroke-width="0.8"/>
<line x1="198.4" y1="338.2" x2="200.4" y2="338.2" stroke="#222" stroke-width="0.8"/>
<line x1="198.4" y1="334.79999999999995" x2="200.4" y2="334.79999999999995" stroke="#222" stroke-width="0.8"/>
<line x1="198.4" y1="331.4" x2="200.4" y2="331.4" stroke="#222" stroke-width="0.8"/>
<line x1="198.4" y1="328.0" x2="200.4" y2="328.0" stroke="#222" stroke-width="0.8"/>
<line x1="198.4" y1="324.59999999999997" x2="200.4" y2="324.59999999999997" stroke="#222" stroke-width="0.8"/>
<line x1="198.4" y1="321.2" x2="200.4" y2="321.2" stroke="#222" stroke-width="0.8"/>
<line x1="198.4" y1="317.79999999999995" x2="200.4" y2="317.79999999999995" stroke="#222" stroke-width="0.8"/>
<line x1="198.4" y1="314.4" x2="200.4" y2="314.4" stroke="#222" stroke-width="0.8"/>
<line x1="198.4" y1="311.0" x2="200.4" y2="311.0" stroke="#222" stroke-width="0.8"/>
<line x1="198.4" y1="307.59999999999997" x2="200.4" y2="307.59999999999997" stroke="#222" stroke-width="0.8"/>
<line x1="198.4" y1="304.2" x2="200.4" y2="304.2" stroke="#222" stroke-width="0.8"/>
<line x1="198.4" y1="300.79999999999995" x2="200.4" y2="300.79999999999995" stroke="#222" stroke-width="0.8"/>
<line x1="198.4" y1="297.4" x2="200.4" y2="297.4" stroke="#222" stroke-width="0.8"/>
<line x1="201.4" y1="348.4" x2="201.4" y2="350.0" stroke="#333" stroke-width="0.7"/>
<line x1="204.58" y1="348.4" x2="204.58" y2="349.5" stroke="#333" stroke-width="0.6"/>
<line x1="206.488" y1="348.4" x2="206.488" y2="349.5" stroke="#333" stroke-width="0.6"/>
<line x1="207.76" y1="348.4" x2="207.76" y2="349.5" stroke="#333" stroke-width="0.6"/>
<line x1="208.82" y1="348.4" x2="208.82" y2="349.5" stroke="#333" stroke-width="0.6"/>
<line x1="209.668" y1="348.4" x2="209.668" y2="349.5" stroke="#333" stroke-width="0.6"/>
<line x1="210.41" y1="348.4" x2="210.41" y2="349.5" stroke="#333" stroke-width="0.6"/>
<line x1="210.94" y1="348.4" x2="210.94" y2="349.5" stroke="#333" stroke-width="0.6"/>
<line x1="211.47" y1="348.4" x2="211.47" y2="349.5" stroke="#333" stroke-width="0.6"/>
<line x1="212.0" y1="348.4" x2="212.0" y2="350.0" stroke="#333" stroke-width="0.7"/>
<line x1="215.18" y1="348.4" x2="215.18" y2="349.5" stroke="#333" stroke-width="0.6"/>
<line x1="217.088" y1="348.4" x2="217.088" y2="349.5" stroke="#333" stroke-width="0.6"/>
<line x1="218.36" y1="348.4" x2="218.36" y2="349.5" stroke="#333" stroke-width="0.6"/>
<line x1="219.42" y1="348.4" x2="219.42" y2="349.5" stroke="#333" stroke-width="0.6"/>
<line x1="220.268" y1="348.4" x2="220.268" y2="349.5" stroke="#333" stroke-width="0.6"/>
<line x1="221.01" y1="348.4" x2="221.01" y2="349.5" stroke="#333" stroke-width="0.6"/>
<line x1="221.54" y1="348.4" x2="221.54" y2="349.5" stroke="#333" stroke-width="0.6"/>
<line x1="222.07" y1="348.4" x2="222.07" y2="349.5" stroke="#333" stroke-width="0.6"/>
<line x1="222.6" y1="348.4" x2="222.6" y2="350.0" stroke="#333" stroke-width="0.7"/>
<line x1="225.78" y1="348.4" x2="225.78" y2="349.5" stroke="#333" stroke-width="0.6"/>
<line x1="227.688" y1="348.4" x2="227.688" y2="349.5" stroke="#333" stroke-width="0.6"/>
<line x1="228.95999999999998" y1="348.4" x2="228.95999999999998" y2="349.5" stroke="#333" stroke-width="0.6"/>
<line x1="230.01999999999998" y1="348.4" x2="230.01999999999998" y2="349.5" stroke="#333" stroke-width="0.6"/>
<line x1="230.868" y1="348.4" x2="230.868" y2="349.5" stroke="#333" stroke-width="0.6"/>
<line x1="231.60999999999999" y1="348.4" x2="231.60999999999999" y2="349.5" stroke="#333" stroke-width="0.6"/>
<line x1="232.14" y1="348.4" x2="232.14" y2="349.5" stroke="#333" stroke-width="0.6"/>
<line x1="232.67" y1="348.4" x2="232.67" y2="349.5" stroke="#333" stroke-width="0.6"/>
<line x1="233.2" y1="348.4" x2="233.2" y2="350.0" stroke="#333" stroke-width="0.7"/>
<line x1="236.38" y1="348.4" x2="236.38" y2="349.5" stroke="#333" stroke-width="0.6"/>
<line x1="238.28799999999998" y1="348.4" x2="238.28799999999998" y2="349.5" stroke="#333" stroke-width="0.6"/>
<line x1="239.56" y1="348.4" x2="239.56" y2="349.5" stroke="#333" stroke-width="0.6"/>
<line x1="240.61999999999998" y1="348.4" x2="240.61999999999998" y2="349.5" stroke="#333" stroke-width="0.6"/>
<line x1="241.468" y1="348.4" x2="241.468" y2="349.5" stroke="#333" stroke-width="0.6"/>
<line x1="242.20999999999998" y1="348.4" x2="242.20999999999998" y2="349.5" stroke="#333" stroke-width="0.6"/>
<line x1="242.73999999999998" y1="348.4" x2="242.73999999999998" y2="349.5" stroke="#333" stroke-width="0.6"/>
<line x1="243.26999999999998" y1="348.4" x2="243.26999999999998" y2="349.5" stroke="#333" stroke-width="0.6"/>
<line x1="243.8" y1="348.4" x2="243.8" y2="350.0" stroke="#333" stroke-width="0.7"/>
<line x1="246.98000000000002" y1="348.4" x2="246.98000000000002" y2="349.5" stroke="#333" stroke-width="0.6"/>
<line x1="248.888" y1="348.4" x2="248.888" y2="349.5" stroke="#333" stroke-width="0.6"/>
<line x1="250.16000000000003" y1="348.4" x2="250.16000000000003" y2="349.5" stroke="#333" stroke-width="0.6"/>
<line x1="251.22" y1="348.4" x2="251.22" y2="349.5" stroke="#333" stroke-width="0.6"/>
<line x1="252.068" y1="348.4" x2="252.068" y2="349.5" stroke="#333" stroke-width="0.6"/>
<line x1="252.81" y1="348.4" x2="252.81" y2="349.5" stroke="#333" stroke-width="0.6"/>
<path d="M200.6,346.5 C201.0,346.8 201.8,347.9 202.9,348.2 C204.1,348.5 206.2,348.5 207.5,348.2 C208.8,347.9 210.0,347.6 211.0,346.5 C212.0,345.4 212.6,344.0 213.3,341.9 C214.0,339.8 214.4,336.1 215.0,333.8 C215.6,331.5 216.4,329.2 216.8,328.1 C217.2,327.0 217.4,326.8 217.7,327.2 C218.0,327.6 218.4,328.9 218.8,330.4 C219.2,331.9 219.6,334.7 220.2,336.2 C220.8,337.7 221.7,338.9 222.5,339.6 C223.3,340.3 224.0,340.5 224.8,340.2 C225.6,339.9 226.4,339.3 227.2,337.9 C228.0,336.4 228.9,334.7 229.5,331.5 C230.1,328.3 230.3,323.4 230.6,318.8 C230.9,314.2 231.2,307.2 231.5,303.8 C231.8,300.4 232.2,298.9 232.5,298.7 C232.8,298.5 233.2,299.3 233.5,302.7 C233.8,306.1 234.1,312.8 234.4,318.8 C234.7,324.8 234.9,333.7 235.2,338.5 C235.5,343.3 236.1,346.1 236.4,347.7 C236.7,349.3 236.9,348.1 237.0,348.2" stroke="#c8102e" stroke-width="1.1" fill="none" stroke-linejoin="round"/>
<text x="200.5" y="359.7" font-size="6.6" text-anchor="start" fill="#222" font-weight="normal" stroke="#222" stroke-width="0.12" textLength="6.6" lengthAdjust="spacingAndGlyphs">10</text>
<text x="207.3" y="357.2" font-size="4.4" text-anchor="start" fill="#222" font-weight="normal" stroke="#222" stroke-width="0.12">1</text>
<text x="211.2" y="359.7" font-size="6.6" text-anchor="start" fill="#222" font-weight="normal" stroke="#222" stroke-width="0.12" textLength="6.6" lengthAdjust="spacingAndGlyphs">10</text>
<text x="218.0" y="357.2" font-size="4.4" text-anchor="start" fill="#222" font-weight="normal" stroke="#222" stroke-width="0.12">2</text>
<text x="221.9" y="359.7" font-size="6.6" text-anchor="start" fill="#222" font-weight="normal" stroke="#222" stroke-width="0.12" textLength="6.6" lengthAdjust="spacingAndGlyphs">10</text>
<text x="228.70000000000002" y="357.2" font-size="4.4" text-anchor="start" fill="#222" font-weight="normal" stroke="#222" stroke-width="0.12">3</text>
<text x="232.6" y="359.7" font-size="6.6" text-anchor="start" fill="#222" font-weight="normal" stroke="#222" stroke-width="0.12" textLength="6.6" lengthAdjust="spacingAndGlyphs">10</text>
<text x="239.4" y="357.2" font-size="4.4" text-anchor="start" fill="#222" font-weight="normal" stroke="#222" stroke-width="0.12">4</text>
<text x="243.3" y="359.7" font-size="6.6" text-anchor="start" fill="#222" font-weight="normal" stroke="#222" stroke-width="0.12" textLength="6.6" lengthAdjust="spacingAndGlyphs">10</text>
<text x="250.10000000000002" y="357.2" font-size="4.4" text-anchor="start" fill="#222" font-weight="normal" stroke="#222" stroke-width="0.12">5</text>
<line x1="196.3" y1="364.2" x2="249.3" y2="364.2" stroke="#222" stroke-width="1.1"/>
<path d="M248.5,362.3 L252.3,364.2 L248.5,366.09999999999997 Z" fill="#222"/>
<text x="224.70000000000002" y="374.6" font-size="9.2" text-anchor="middle" fill="#222" font-weight="normal" stroke="#222" stroke-width="0.12" textLength="13.6" lengthAdjust="spacingAndGlyphs">GPA</text>
<rect x="294.3" y="294.0" width="52.099999999999966" height="54.39999999999998" fill="none" stroke="#222" stroke-width="1.1"/>
<line x1="294.3" y1="294.0" x2="346.4" y2="294.0" stroke="#222" stroke-width="1.6"/>
<line x1="346.4" y1="294.0" x2="346.4" y2="348.4" stroke="#222" stroke-width="1.4"/>
<line x1="291.90000000000003" y1="342.4" x2="294.3" y2="342.4" stroke="#222" stroke-width="0.9"/>
<line x1="292.6" y1="339.145" x2="294.3" y2="339.145" stroke="#222" stroke-width="0.7"/>
<line x1="292.6" y1="337.19199999999995" x2="294.3" y2="337.19199999999995" stroke="#222" stroke-width="0.7"/>
<line x1="292.6" y1="335.89" x2="294.3" y2="335.89" stroke="#222" stroke-width="0.7"/>
<line x1="292.6" y1="334.80499999999995" x2="294.3" y2="334.80499999999995" stroke="#222" stroke-width="0.7"/>
<line x1="292.6" y1="333.93699999999995" x2="294.3" y2="333.93699999999995" stroke="#222" stroke-width="0.7"/>
<line x1="292.6" y1="333.17749999999995" x2="294.3" y2="333.17749999999995" stroke="#222" stroke-width="0.7"/>
<line x1="292.6" y1="332.635" x2="294.3" y2="332.635" stroke="#222" stroke-width="0.7"/>
<line x1="292.6" y1="332.0925" x2="294.3" y2="332.0925" stroke="#222" stroke-width="0.7"/>
<line x1="291.90000000000003" y1="331.55" x2="294.3" y2="331.55" stroke="#222" stroke-width="0.9"/>
<line x1="292.6" y1="328.295" x2="294.3" y2="328.295" stroke="#222" stroke-width="0.7"/>
<line x1="292.6" y1="326.342" x2="294.3" y2="326.342" stroke="#222" stroke-width="0.7"/>
<line x1="292.6" y1="325.04" x2="294.3" y2="325.04" stroke="#222" stroke-width="0.7"/>
<line x1="292.6" y1="323.95500000000004" x2="294.3" y2="323.95500000000004" stroke="#222" stroke-width="0.7"/>
<line x1="292.6" y1="323.087" x2="294.3" y2="323.087" stroke="#222" stroke-width="0.7"/>
<line x1="292.6" y1="322.3275" x2="294.3" y2="322.3275" stroke="#222" stroke-width="0.7"/>
<line x1="292.6" y1="321.785" x2="294.3" y2="321.785" stroke="#222" stroke-width="0.7"/>
<line x1="292.6" y1="321.2425" x2="294.3" y2="321.2425" stroke="#222" stroke-width="0.7"/>
<line x1="291.90000000000003" y1="320.7" x2="294.3" y2="320.7" stroke="#222" stroke-width="0.9"/>
<line x1="292.6" y1="317.445" x2="294.3" y2="317.445" stroke="#222" stroke-width="0.7"/>
<line x1="292.6" y1="315.49199999999996" x2="294.3" y2="315.49199999999996" stroke="#222" stroke-width="0.7"/>
<line x1="292.6" y1="314.19" x2="294.3" y2="314.19" stroke="#222" stroke-width="0.7"/>
<line x1="292.6" y1="313.105" x2="294.3" y2="313.105" stroke="#222" stroke-width="0.7"/>
<line x1="292.6" y1="312.23699999999997" x2="294.3" y2="312.23699999999997" stroke="#222" stroke-width="0.7"/>
<line x1="292.6" y1="311.47749999999996" x2="294.3" y2="311.47749999999996" stroke="#222" stroke-width="0.7"/>
<line x1="292.6" y1="310.935" x2="294.3" y2="310.935" stroke="#222" stroke-width="0.7"/>
<line x1="292.6" y1="310.3925" x2="294.3" y2="310.3925" stroke="#222" stroke-width="0.7"/>
<line x1="291.90000000000003" y1="309.85" x2="294.3" y2="309.85" stroke="#222" stroke-width="0.9"/>
<line x1="292.6" y1="306.595" x2="294.3" y2="306.595" stroke="#222" stroke-width="0.7"/>
<line x1="292.6" y1="304.642" x2="294.3" y2="304.642" stroke="#222" stroke-width="0.7"/>
<line x1="292.6" y1="303.34000000000003" x2="294.3" y2="303.34000000000003" stroke="#222" stroke-width="0.7"/>
<line x1="292.6" y1="302.255" x2="294.3" y2="302.255" stroke="#222" stroke-width="0.7"/>
<line x1="292.6" y1="301.387" x2="294.3" y2="301.387" stroke="#222" stroke-width="0.7"/>
<line x1="292.6" y1="300.6275" x2="294.3" y2="300.6275" stroke="#222" stroke-width="0.7"/>
<line x1="292.6" y1="300.08500000000004" x2="294.3" y2="300.08500000000004" stroke="#222" stroke-width="0.7"/>
<line x1="292.6" y1="299.5425" x2="294.3" y2="299.5425" stroke="#222" stroke-width="0.7"/>
<line x1="291.90000000000003" y1="299.0" x2="294.3" y2="299.0" stroke="#222" stroke-width="0.9"/>
<line x1="292.6" y1="295.745" x2="294.3" y2="295.745" stroke="#222" stroke-width="0.7"/>
<line x1="296.3" y1="348.4" x2="296.3" y2="350.0" stroke="#333" stroke-width="0.7"/>
<line x1="299.48" y1="348.4" x2="299.48" y2="349.5" stroke="#333" stroke-width="0.6"/>
<line x1="301.38800000000003" y1="348.4" x2="301.38800000000003" y2="349.5" stroke="#333" stroke-width="0.6"/>
<line x1="302.66" y1="348.4" x2="302.66" y2="349.5" stroke="#333" stroke-width="0.6"/>
<line x1="303.72" y1="348.4" x2="303.72" y2="349.5" stroke="#333" stroke-width="0.6"/>
<line x1="304.568" y1="348.4" x2="304.568" y2="349.5" stroke="#333" stroke-width="0.6"/>
<line x1="305.31" y1="348.4" x2="305.31" y2="349.5" stroke="#333" stroke-width="0.6"/>
<line x1="305.84000000000003" y1="348.4" x2="305.84000000000003" y2="349.5" stroke="#333" stroke-width="0.6"/>
<line x1="306.37" y1="348.4" x2="306.37" y2="349.5" stroke="#333" stroke-width="0.6"/>
<line x1="306.90000000000003" y1="348.4" x2="306.90000000000003" y2="350.0" stroke="#333" stroke-width="0.7"/>
<line x1="310.08000000000004" y1="348.4" x2="310.08000000000004" y2="349.5" stroke="#333" stroke-width="0.6"/>
<line x1="311.98800000000006" y1="348.4" x2="311.98800000000006" y2="349.5" stroke="#333" stroke-width="0.6"/>
<line x1="313.26000000000005" y1="348.4" x2="313.26000000000005" y2="349.5" stroke="#333" stroke-width="0.6"/>
<line x1="314.32000000000005" y1="348.4" x2="314.32000000000005" y2="349.5" stroke="#333" stroke-width="0.6"/>
<line x1="315.168" y1="348.4" x2="315.168" y2="349.5" stroke="#333" stroke-width="0.6"/>
<line x1="315.91" y1="348.4" x2="315.91" y2="349.5" stroke="#333" stroke-width="0.6"/>
<line x1="316.44000000000005" y1="348.4" x2="316.44000000000005" y2="349.5" stroke="#333" stroke-width="0.6"/>
<line x1="316.97" y1="348.4" x2="316.97" y2="349.5" stroke="#333" stroke-width="0.6"/>
<line x1="317.5" y1="348.4" x2="317.5" y2="350.0" stroke="#333" stroke-width="0.7"/>
<line x1="320.68" y1="348.4" x2="320.68" y2="349.5" stroke="#333" stroke-width="0.6"/>
<line x1="322.588" y1="348.4" x2="322.588" y2="349.5" stroke="#333" stroke-width="0.6"/>
<line x1="323.86" y1="348.4" x2="323.86" y2="349.5" stroke="#333" stroke-width="0.6"/>
<line x1="324.92" y1="348.4" x2="324.92" y2="349.5" stroke="#333" stroke-width="0.6"/>
<line x1="325.76800000000003" y1="348.4" x2="325.76800000000003" y2="349.5" stroke="#333" stroke-width="0.6"/>
<line x1="326.51" y1="348.4" x2="326.51" y2="349.5" stroke="#333" stroke-width="0.6"/>
<line x1="327.04" y1="348.4" x2="327.04" y2="349.5" stroke="#333" stroke-width="0.6"/>
<line x1="327.57" y1="348.4" x2="327.57" y2="349.5" stroke="#333" stroke-width="0.6"/>
<line x1="328.1" y1="348.4" x2="328.1" y2="350.0" stroke="#333" stroke-width="0.7"/>
<line x1="331.28000000000003" y1="348.4" x2="331.28000000000003" y2="349.5" stroke="#333" stroke-width="0.6"/>
<line x1="333.18800000000005" y1="348.4" x2="333.18800000000005" y2="349.5" stroke="#333" stroke-width="0.6"/>
<line x1="334.46000000000004" y1="348.4" x2="334.46000000000004" y2="349.5" stroke="#333" stroke-width="0.6"/>
<line x1="335.52000000000004" y1="348.4" x2="335.52000000000004" y2="349.5" stroke="#333" stroke-width="0.6"/>
<line x1="336.36800000000005" y1="348.4" x2="336.36800000000005" y2="349.5" stroke="#333" stroke-width="0.6"/>
<line x1="337.11" y1="348.4" x2="337.11" y2="349.5" stroke="#333" stroke-width="0.6"/>
<line x1="337.64000000000004" y1="348.4" x2="337.64000000000004" y2="349.5" stroke="#333" stroke-width="0.6"/>
<line x1="338.17" y1="348.4" x2="338.17" y2="349.5" stroke="#333" stroke-width="0.6"/>
<line x1="338.7" y1="348.4" x2="338.7" y2="350.0" stroke="#333" stroke-width="0.7"/>
<line x1="341.88" y1="348.4" x2="341.88" y2="349.5" stroke="#333" stroke-width="0.6"/>
<line x1="343.788" y1="348.4" x2="343.788" y2="349.5" stroke="#333" stroke-width="0.6"/>
<line x1="345.06" y1="348.4" x2="345.06" y2="349.5" stroke="#333" stroke-width="0.6"/>
<line x1="346.12" y1="348.4" x2="346.12" y2="349.5" stroke="#333" stroke-width="0.6"/>
<path d="M307.8,302.7 C308.1,301.5 309.3,299.6 310.5,298.7 C311.7,297.8 313.6,297.1 315.1,297.2 C316.6,297.3 318.2,298.2 319.7,299.2 C321.1,300.2 322.6,301.9 323.8,303.3 C325.1,304.7 326.4,305.7 327.2,307.3 C328.0,308.9 328.5,311.4 328.6,313.1 C328.7,314.8 328.5,316.3 327.8,317.7 C327.1,319.1 325.3,321.1 324.3,321.4 C323.3,321.7 323.1,320.5 322.0,319.4 C320.9,318.3 319.5,316.4 318.0,314.8 C316.5,313.2 314.3,311.1 312.8,309.6 C311.3,308.1 309.6,306.8 308.8,305.6 C308.0,304.5 307.5,303.9 307.8,302.7 Z" fill="#0a14f0" stroke="none" stroke-width="0"/>
<path d="M309.7,303.3 C309.9,302.4 310.9,300.8 311.9,300.1 C312.9,299.3 314.3,298.8 315.6,298.9 C316.8,298.9 318.1,299.7 319.2,300.5 C320.4,301.3 321.5,302.7 322.5,303.8 C323.5,304.8 324.6,305.7 325.2,307.0 C325.9,308.3 326.3,310.2 326.4,311.6 C326.4,313.0 326.3,314.2 325.7,315.3 C325.1,316.4 323.7,318.0 322.9,318.2 C322.1,318.5 321.9,317.5 321.1,316.6 C320.2,315.8 319.1,314.3 317.9,313.0 C316.7,311.7 314.9,310.0 313.7,308.8 C312.5,307.6 311.2,306.5 310.5,305.6 C309.9,304.7 309.5,304.2 309.7,303.3 Z" fill="#0058ff" stroke="none" stroke-width="0"/>
<path d="M311.3,303.7 C311.4,303.0 312.2,301.8 313.0,301.2 C313.8,300.6 314.9,300.2 315.9,300.2 C316.9,300.3 317.9,300.9 318.9,301.5 C319.8,302.2 320.7,303.3 321.5,304.1 C322.3,305.0 323.2,305.6 323.7,306.7 C324.2,307.7 324.5,309.3 324.6,310.4 C324.6,311.5 324.5,312.5 324.1,313.3 C323.6,314.2 322.4,315.5 321.8,315.7 C321.2,315.9 321.0,315.1 320.3,314.4 C319.7,313.7 318.8,312.5 317.8,311.5 C316.8,310.4 315.4,309.1 314.5,308.2 C313.5,307.2 312.4,306.3 311.9,305.6 C311.4,304.9 311.1,304.5 311.3,303.7 Z" fill="#00a8ff" stroke="none" stroke-width="0"/>
<path d="M312.6,304.1 C312.7,303.6 313.3,302.6 313.9,302.1 C314.6,301.7 315.5,301.4 316.2,301.4 C317.0,301.4 317.8,301.9 318.5,302.4 C319.3,302.9 320.0,303.8 320.6,304.5 C321.2,305.1 321.9,305.6 322.3,306.5 C322.7,307.3 322.9,308.5 323.0,309.4 C323.1,310.2 323.0,311.0 322.6,311.6 C322.2,312.3 321.3,313.4 320.9,313.5 C320.4,313.6 320.2,313.1 319.7,312.5 C319.2,311.9 318.5,311.0 317.7,310.2 C316.9,309.4 315.9,308.4 315.1,307.6 C314.3,306.8 313.5,306.2 313.1,305.6 C312.7,305.0 312.5,304.7 312.6,304.1 Z" fill="#10e0b0" stroke="none" stroke-width="0"/>
<path d="M313.8,304.5 C313.9,304.1 314.3,303.3 314.8,303.0 C315.2,302.6 315.9,302.4 316.5,302.4 C317.1,302.4 317.7,302.8 318.3,303.2 C318.8,303.6 319.4,304.2 319.8,304.7 C320.3,305.2 320.8,305.6 321.1,306.2 C321.4,306.9 321.6,307.8 321.7,308.5 C321.7,309.1 321.6,309.7 321.4,310.2 C321.1,310.7 320.4,311.5 320.0,311.6 C319.7,311.7 319.5,311.3 319.1,310.8 C318.7,310.4 318.2,309.7 317.6,309.1 C317.0,308.5 316.2,307.7 315.7,307.1 C315.1,306.5 314.4,306.0 314.1,305.6 C313.8,305.2 313.6,304.9 313.8,304.5 Z" fill="#70f040" stroke="none" stroke-width="0"/>
<path d="M314.8,304.8 C314.9,304.5 315.2,304.0 315.5,303.7 C315.9,303.5 316.4,303.3 316.8,303.3 C317.2,303.4 317.6,303.6 318.0,303.9 C318.4,304.1 318.8,304.6 319.1,305.0 C319.5,305.3 319.8,305.6 320.0,306.1 C320.3,306.5 320.4,307.2 320.4,307.6 C320.5,308.1 320.4,308.5 320.2,308.9 C320.0,309.2 319.5,309.8 319.3,309.9 C319.0,309.9 318.9,309.6 318.6,309.3 C318.4,309.0 318.0,308.5 317.6,308.1 C317.1,307.6 316.6,307.1 316.2,306.7 C315.7,306.3 315.3,305.9 315.1,305.6 C314.9,305.3 314.7,305.1 314.8,304.8 Z" fill="#f0f000" stroke="none" stroke-width="0"/>
<path d="M315.7,305.1 C315.7,304.9 315.9,304.5 316.2,304.4 C316.4,304.2 316.7,304.1 317.0,304.1 C317.3,304.1 317.6,304.3 317.8,304.4 C318.1,304.6 318.3,304.9 318.6,305.2 C318.8,305.4 319.0,305.6 319.2,305.9 C319.3,306.2 319.4,306.6 319.4,307.0 C319.4,307.3 319.4,307.5 319.3,307.8 C319.1,308.0 318.8,308.4 318.6,308.4 C318.5,308.5 318.4,308.3 318.2,308.1 C318.0,307.9 317.8,307.6 317.5,307.3 C317.2,307.0 316.8,306.6 316.6,306.3 C316.3,306.0 316.0,305.8 315.9,305.6 C315.7,305.4 315.6,305.3 315.7,305.1 Z" fill="#ff9000" stroke="none" stroke-width="0"/>
<path d="M316.4,305.3 C316.5,305.2 316.6,305.0 316.7,304.9 C316.8,304.8 317.0,304.8 317.2,304.8 C317.3,304.8 317.5,304.9 317.6,305.0 C317.8,305.1 317.9,305.2 318.0,305.4 C318.2,305.5 318.3,305.6 318.4,305.8 C318.5,305.9 318.5,306.2 318.5,306.4 C318.5,306.5 318.5,306.7 318.4,306.8 C318.4,306.9 318.2,307.2 318.1,307.2 C318.0,307.2 318.0,307.1 317.9,307.0 C317.8,306.9 317.6,306.7 317.5,306.5 C317.3,306.4 317.1,306.2 316.9,306.0 C316.8,305.8 316.6,305.7 316.5,305.6 C316.5,305.5 316.4,305.4 316.4,305.3 Z" fill="#ff1a00" stroke="none" stroke-width="0"/>
<text x="296.3" y="359.7" font-size="6.6" text-anchor="start" fill="#222" font-weight="normal" stroke="#222" stroke-width="0.12" textLength="6.6" lengthAdjust="spacingAndGlyphs">10</text>
<text x="303.1" y="357.2" font-size="4.4" text-anchor="start" fill="#222" font-weight="normal" stroke="#222" stroke-width="0.12">1</text>
<text x="307.0" y="359.7" font-size="6.6" text-anchor="start" fill="#222" font-weight="normal" stroke="#222" stroke-width="0.12" textLength="6.6" lengthAdjust="spacingAndGlyphs">10</text>
<text x="313.8" y="357.2" font-size="4.4" text-anchor="start" fill="#222" font-weight="normal" stroke="#222" stroke-width="0.12">2</text>
<text x="317.7" y="359.7" font-size="6.6" text-anchor="start" fill="#222" font-weight="normal" stroke="#222" stroke-width="0.12" textLength="6.6" lengthAdjust="spacingAndGlyphs">10</text>
<text x="324.5" y="357.2" font-size="4.4" text-anchor="start" fill="#222" font-weight="normal" stroke="#222" stroke-width="0.12">3</text>
<text x="328.4" y="359.7" font-size="6.6" text-anchor="start" fill="#222" font-weight="normal" stroke="#222" stroke-width="0.12" textLength="6.6" lengthAdjust="spacingAndGlyphs">10</text>
<text x="335.2" y="357.2" font-size="4.4" text-anchor="start" fill="#222" font-weight="normal" stroke="#222" stroke-width="0.12">4</text>
<text x="339.1" y="359.7" font-size="6.6" text-anchor="start" fill="#222" font-weight="normal" stroke="#222" stroke-width="0.12" textLength="6.6" lengthAdjust="spacingAndGlyphs">10</text>
<text x="345.90000000000003" y="357.2" font-size="4.4" text-anchor="start" fill="#222" font-weight="normal" stroke="#222" stroke-width="0.12">5</text>
<line x1="276.3" y1="364.2" x2="342.6" y2="364.2" stroke="#222" stroke-width="1.1"/>
<path d="M341.8,362.3 L345.6,364.2 L341.8,366.09999999999997 Z" fill="#222"/>
<line x1="276.3" y1="364.2" x2="276.3" y2="298.4" stroke="#222" stroke-width="1.1"/>
<path d="M274.40000000000003,299.2 L276.3,295.4 L278.2,299.2 Z" fill="#222"/>
<text x="311.45000000000005" y="374.6" font-size="9.4" text-anchor="middle" fill="#222" font-weight="normal" stroke="#222" stroke-width="0.12" textLength="23.1" lengthAdjust="spacingAndGlyphs">Band 3</text>
<text x="271.5" y="329.0" font-size="8.8" text-anchor="middle" fill="#222" font-weight="normal" stroke="#222" stroke-width="0.12" textLength="38.6" lengthAdjust="spacingAndGlyphs" transform="rotate(-90 271.5 329.0)">α4-integrin</text>
<text x="280.6" y="301.4" font-size="6.6" text-anchor="start" fill="#222" font-weight="normal" stroke="#222" stroke-width="0.12" textLength="6.8" lengthAdjust="spacingAndGlyphs">10</text>
<text x="287.6" y="298.9" font-size="4.4" text-anchor="start" fill="#222" font-weight="normal" stroke="#222" stroke-width="0.12">5</text>
<text x="280.6" y="312.25" font-size="6.6" text-anchor="start" fill="#222" font-weight="normal" stroke="#222" stroke-width="0.12" textLength="6.8" lengthAdjust="spacingAndGlyphs">10</text>
<text x="287.6" y="309.75" font-size="4.4" text-anchor="start" fill="#222" font-weight="normal" stroke="#222" stroke-width="0.12">4</text>
<text x="280.6" y="323.09999999999997" font-size="6.6" text-anchor="start" fill="#222" font-weight="normal" stroke="#222" stroke-width="0.12" textLength="6.8" lengthAdjust="spacingAndGlyphs">10</text>
<text x="287.6" y="320.59999999999997" font-size="4.4" text-anchor="start" fill="#222" font-weight="normal" stroke="#222" stroke-width="0.12">3</text>
<text x="280.6" y="333.95" font-size="6.6" text-anchor="start" fill="#222" font-weight="normal" stroke="#222" stroke-width="0.12" textLength="6.8" lengthAdjust="spacingAndGlyphs">10</text>
<text x="287.6" y="331.45" font-size="4.4" text-anchor="start" fill="#222" font-weight="normal" stroke="#222" stroke-width="0.12">2</text>
<text x="280.6" y="344.79999999999995" font-size="6.6" text-anchor="start" fill="#222" font-weight="normal" stroke="#222" stroke-width="0.12" textLength="6.8" lengthAdjust="spacingAndGlyphs">10</text>
<text x="287.6" y="342.29999999999995" font-size="4.4" text-anchor="start" fill="#222" font-weight="normal" stroke="#222" stroke-width="0.12">1</text>
<rect x="200.4" y="383.5" width="52.69999999999999" height="54.19999999999999" fill="none" stroke="#222" stroke-width="1.1"/>
<line x1="200.4" y1="383.5" x2="253.1" y2="383.5" stroke="#222" stroke-width="1.6"/>
<line x1="253.1" y1="383.5" x2="253.1" y2="437.7" stroke="#222" stroke-width="1.4"/>
<line x1="198.4" y1="437.7" x2="200.4" y2="437.7" stroke="#222" stroke-width="0.8"/>
<line x1="198.4" y1="434.3" x2="200.4" y2="434.3" stroke="#222" stroke-width="0.8"/>
<line x1="198.4" y1="430.9" x2="200.4" y2="430.9" stroke="#222" stroke-width="0.8"/>
<line x1="198.4" y1="427.5" x2="200.4" y2="427.5" stroke="#222" stroke-width="0.8"/>
<line x1="198.4" y1="424.09999999999997" x2="200.4" y2="424.09999999999997" stroke="#222" stroke-width="0.8"/>
<line x1="198.4" y1="420.7" x2="200.4" y2="420.7" stroke="#222" stroke-width="0.8"/>
<line x1="198.4" y1="417.3" x2="200.4" y2="417.3" stroke="#222" stroke-width="0.8"/>
<line x1="198.4" y1="413.9" x2="200.4" y2="413.9" stroke="#222" stroke-width="0.8"/>
<line x1="198.4" y1="410.5" x2="200.4" y2="410.5" stroke="#222" stroke-width="0.8"/>
<line x1="198.4" y1="407.09999999999997" x2="200.4" y2="407.09999999999997" stroke="#222" stroke-width="0.8"/>
<line x1="198.4" y1="403.7" x2="200.4" y2="403.7" stroke="#222" stroke-width="0.8"/>
<line x1="198.4" y1="400.3" x2="200.4" y2="400.3" stroke="#222" stroke-width="0.8"/>
<line x1="198.4" y1="396.9" x2="200.4" y2="396.9" stroke="#222" stroke-width="0.8"/>
<line x1="198.4" y1="393.5" x2="200.4" y2="393.5" stroke="#222" stroke-width="0.8"/>
<line x1="198.4" y1="390.09999999999997" x2="200.4" y2="390.09999999999997" stroke="#222" stroke-width="0.8"/>
<line x1="198.4" y1="386.7" x2="200.4" y2="386.7" stroke="#222" stroke-width="0.8"/>
<line x1="201.4" y1="437.7" x2="201.4" y2="439.3" stroke="#333" stroke-width="0.7"/>
<line x1="204.58" y1="437.7" x2="204.58" y2="438.8" stroke="#333" stroke-width="0.6"/>
<line x1="206.488" y1="437.7" x2="206.488" y2="438.8" stroke="#333" stroke-width="0.6"/>
<line x1="207.76" y1="437.7" x2="207.76" y2="438.8" stroke="#333" stroke-width="0.6"/>
<line x1="208.82" y1="437.7" x2="208.82" y2="438.8" stroke="#333" stroke-width="0.6"/>
<line x1="209.668" y1="437.7" x2="209.668" y2="438.8" stroke="#333" stroke-width="0.6"/>
<line x1="210.41" y1="437.7" x2="210.41" y2="438.8" stroke="#333" stroke-width="0.6"/>
<line x1="210.94" y1="437.7" x2="210.94" y2="438.8" stroke="#333" stroke-width="0.6"/>
<line x1="211.47" y1="437.7" x2="211.47" y2="438.8" stroke="#333" stroke-width="0.6"/>
<line x1="212.0" y1="437.7" x2="212.0" y2="439.3" stroke="#333" stroke-width="0.7"/>
<line x1="215.18" y1="437.7" x2="215.18" y2="438.8" stroke="#333" stroke-width="0.6"/>
<line x1="217.088" y1="437.7" x2="217.088" y2="438.8" stroke="#333" stroke-width="0.6"/>
<line x1="218.36" y1="437.7" x2="218.36" y2="438.8" stroke="#333" stroke-width="0.6"/>
<line x1="219.42" y1="437.7" x2="219.42" y2="438.8" stroke="#333" stroke-width="0.6"/>
<line x1="220.268" y1="437.7" x2="220.268" y2="438.8" stroke="#333" stroke-width="0.6"/>
<line x1="221.01" y1="437.7" x2="221.01" y2="438.8" stroke="#333" stroke-width="0.6"/>
<line x1="221.54" y1="437.7" x2="221.54" y2="438.8" stroke="#333" stroke-width="0.6"/>
<line x1="222.07" y1="437.7" x2="222.07" y2="438.8" stroke="#333" stroke-width="0.6"/>
<line x1="222.6" y1="437.7" x2="222.6" y2="439.3" stroke="#333" stroke-width="0.7"/>
<line x1="225.78" y1="437.7" x2="225.78" y2="438.8" stroke="#333" stroke-width="0.6"/>
<line x1="227.688" y1="437.7" x2="227.688" y2="438.8" stroke="#333" stroke-width="0.6"/>
<line x1="228.95999999999998" y1="437.7" x2="228.95999999999998" y2="438.8" stroke="#333" stroke-width="0.6"/>
<line x1="230.01999999999998" y1="437.7" x2="230.01999999999998" y2="438.8" stroke="#333" stroke-width="0.6"/>
<line x1="230.868" y1="437.7" x2="230.868" y2="438.8" stroke="#333" stroke-width="0.6"/>
<line x1="231.60999999999999" y1="437.7" x2="231.60999999999999" y2="438.8" stroke="#333" stroke-width="0.6"/>
<line x1="232.14" y1="437.7" x2="232.14" y2="438.8" stroke="#333" stroke-width="0.6"/>
<line x1="232.67" y1="437.7" x2="232.67" y2="438.8" stroke="#333" stroke-width="0.6"/>
<line x1="233.2" y1="437.7" x2="233.2" y2="439.3" stroke="#333" stroke-width="0.7"/>
<line x1="236.38" y1="437.7" x2="236.38" y2="438.8" stroke="#333" stroke-width="0.6"/>
<line x1="238.28799999999998" y1="437.7" x2="238.28799999999998" y2="438.8" stroke="#333" stroke-width="0.6"/>
<line x1="239.56" y1="437.7" x2="239.56" y2="438.8" stroke="#333" stroke-width="0.6"/>
<line x1="240.61999999999998" y1="437.7" x2="240.61999999999998" y2="438.8" stroke="#333" stroke-width="0.6"/>
<line x1="241.468" y1="437.7" x2="241.468" y2="438.8" stroke="#333" stroke-width="0.6"/>
<line x1="242.20999999999998" y1="437.7" x2="242.20999999999998" y2="438.8" stroke="#333" stroke-width="0.6"/>
<line x1="242.73999999999998" y1="437.7" x2="242.73999999999998" y2="438.8" stroke="#333" stroke-width="0.6"/>
<line x1="243.26999999999998" y1="437.7" x2="243.26999999999998" y2="438.8" stroke="#333" stroke-width="0.6"/>
<line x1="243.8" y1="437.7" x2="243.8" y2="439.3" stroke="#333" stroke-width="0.7"/>
<line x1="246.98000000000002" y1="437.7" x2="246.98000000000002" y2="438.8" stroke="#333" stroke-width="0.6"/>
<line x1="248.888" y1="437.7" x2="248.888" y2="438.8" stroke="#333" stroke-width="0.6"/>
<line x1="250.16000000000003" y1="437.7" x2="250.16000000000003" y2="438.8" stroke="#333" stroke-width="0.6"/>
<line x1="251.22" y1="437.7" x2="251.22" y2="438.8" stroke="#333" stroke-width="0.6"/>
<line x1="252.068" y1="437.7" x2="252.068" y2="438.8" stroke="#333" stroke-width="0.6"/>
<line x1="252.81" y1="437.7" x2="252.81" y2="438.8" stroke="#333" stroke-width="0.6"/>
<path d="M201.2,437.6 C202.0,437.6 204.8,437.7 205.8,437.3 C206.9,436.9 206.7,436.1 207.5,435.4 C208.3,434.7 209.6,434.2 210.4,433.1 C211.2,432.0 211.6,430.8 212.2,428.5 C212.8,426.2 213.4,421.5 213.9,419.2 C214.4,416.9 214.6,417.5 215.0,414.6 C215.4,411.7 215.7,405.4 216.2,401.9 C216.7,398.4 217.4,395.6 217.9,393.8 C218.4,392.0 218.9,391.2 219.4,391.0 C219.9,390.8 220.3,391.6 220.8,392.7 C221.3,393.8 222.0,395.2 222.5,397.3 C223.0,399.4 223.2,402.7 223.7,405.4 C224.2,408.1 224.9,410.6 225.4,413.5 C225.9,416.4 226.3,420.6 226.9,422.7 C227.5,424.8 228.2,425.6 228.9,426.2 C229.6,426.8 230.5,425.8 231.2,426.2 C231.9,426.6 232.3,427.6 232.9,428.5 C233.5,429.4 234.1,430.4 234.7,431.9 C235.3,433.4 236.1,436.7 236.4,437.6" stroke="#c8102e" stroke-width="1.1" fill="none" stroke-linejoin="round"/>
<text x="200.5" y="449.0" font-size="6.6" text-anchor="start" fill="#222" font-weight="normal" stroke="#222" stroke-width="0.12" textLength="6.6" lengthAdjust="spacingAndGlyphs">10</text>
<text x="207.3" y="446.5" font-size="4.4" text-anchor="start" fill="#222" font-weight="normal" stroke="#222" stroke-width="0.12">1</text>
<text x="211.2" y="449.0" font-size="6.6" text-anchor="start" fill="#222" font-weight="normal" stroke="#222" stroke-width="0.12" textLength="6.6" lengthAdjust="spacingAndGlyphs">10</text>
<text x="218.0" y="446.5" font-size="4.4" text-anchor="start" fill="#222" font-weight="normal" stroke="#222" stroke-width="0.12">2</text>
<text x="221.9" y="449.0" font-size="6.6" text-anchor="start" fill="#222" font-weight="normal" stroke="#222" stroke-width="0.12" textLength="6.6" lengthAdjust="spacingAndGlyphs">10</text>
<text x="228.70000000000002" y="446.5" font-size="4.4" text-anchor="start" fill="#222" font-weight="normal" stroke="#222" stroke-width="0.12">3</text>
<text x="232.6" y="449.0" font-size="6.6" text-anchor="start" fill="#222" font-weight="normal" stroke="#222" stroke-width="0.12" textLength="6.6" lengthAdjust="spacingAndGlyphs">10</text>
<text x="239.4" y="446.5" font-size="4.4" text-anchor="start" fill="#222" font-weight="normal" stroke="#222" stroke-width="0.12">4</text>
<text x="243.3" y="449.0" font-size="6.6" text-anchor="start" fill="#222" font-weight="normal" stroke="#222" stroke-width="0.12" textLength="6.6" lengthAdjust="spacingAndGlyphs">10</text>
<text x="250.10000000000002" y="446.5" font-size="4.4" text-anchor="start" fill="#222" font-weight="normal" stroke="#222" stroke-width="0.12">5</text>
<line x1="196.3" y1="453.5" x2="249.3" y2="453.5" stroke="#222" stroke-width="1.1"/>
<path d="M248.5,451.6 L252.3,453.5 L248.5,455.4 Z" fill="#222"/>
<text x="224.70000000000002" y="463.9" font-size="9.2" text-anchor="middle" fill="#222" font-weight="normal" stroke="#222" stroke-width="0.12" textLength="13.6" lengthAdjust="spacingAndGlyphs">GPA</text>
<rect x="294.3" y="383.5" width="52.099999999999966" height="54.19999999999999" fill="none" stroke="#222" stroke-width="1.1"/>
<line x1="294.3" y1="383.5" x2="346.4" y2="383.5" stroke="#222" stroke-width="1.6"/>
<line x1="346.4" y1="383.5" x2="346.4" y2="437.7" stroke="#222" stroke-width="1.4"/>
<line x1="291.90000000000003" y1="431.9" x2="294.3" y2="431.9" stroke="#222" stroke-width="0.9"/>
<line x1="292.6" y1="428.645" x2="294.3" y2="428.645" stroke="#222" stroke-width="0.7"/>
<line x1="292.6" y1="426.69199999999995" x2="294.3" y2="426.69199999999995" stroke="#222" stroke-width="0.7"/>
<line x1="292.6" y1="425.39" x2="294.3" y2="425.39" stroke="#222" stroke-width="0.7"/>
<line x1="292.6" y1="424.30499999999995" x2="294.3" y2="424.30499999999995" stroke="#222" stroke-width="0.7"/>
<line x1="292.6" y1="423.43699999999995" x2="294.3" y2="423.43699999999995" stroke="#222" stroke-width="0.7"/>
<line x1="292.6" y1="422.67749999999995" x2="294.3" y2="422.67749999999995" stroke="#222" stroke-width="0.7"/>
<line x1="292.6" y1="422.135" x2="294.3" y2="422.135" stroke="#222" stroke-width="0.7"/>
<line x1="292.6" y1="421.5925" x2="294.3" y2="421.5925" stroke="#222" stroke-width="0.7"/>
<line x1="291.90000000000003" y1="421.05" x2="294.3" y2="421.05" stroke="#222" stroke-width="0.9"/>
<line x1="292.6" y1="417.795" x2="294.3" y2="417.795" stroke="#222" stroke-width="0.7"/>
<line x1="292.6" y1="415.842" x2="294.3" y2="415.842" stroke="#222" stroke-width="0.7"/>
<line x1="292.6" y1="414.54" x2="294.3" y2="414.54" stroke="#222" stroke-width="0.7"/>
<line x1="292.6" y1="413.45500000000004" x2="294.3" y2="413.45500000000004" stroke="#222" stroke-width="0.7"/>
<line x1="292.6" y1="412.587" x2="294.3" y2="412.587" stroke="#222" stroke-width="0.7"/>
<line x1="292.6" y1="411.8275" x2="294.3" y2="411.8275" stroke="#222" stroke-width="0.7"/>
<line x1="292.6" y1="411.285" x2="294.3" y2="411.285" stroke="#222" stroke-width="0.7"/>
<line x1="292.6" y1="410.7425" x2="294.3" y2="410.7425" stroke="#222" stroke-width="0.7"/>
<line x1="291.90000000000003" y1="410.2" x2="294.3" y2="410.2" stroke="#222" stroke-width="0.9"/>
<line x1="292.6" y1="406.945" x2="294.3" y2="406.945" stroke="#222" stroke-width="0.7"/>
<line x1="292.6" y1="404.99199999999996" x2="294.3" y2="404.99199999999996" stroke="#222" stroke-width="0.7"/>
<line x1="292.6" y1="403.69" x2="294.3" y2="403.69" stroke="#222" stroke-width="0.7"/>
<line x1="292.6" y1="402.605" x2="294.3" y2="402.605" stroke="#222" stroke-width="0.7"/>
<line x1="292.6" y1="401.73699999999997" x2="294.3" y2="401.73699999999997" stroke="#222" stroke-width="0.7"/>
<line x1="292.6" y1="400.97749999999996" x2="294.3" y2="400.97749999999996" stroke="#222" stroke-width="0.7"/>
<line x1="292.6" y1="400.435" x2="294.3" y2="400.435" stroke="#222" stroke-width="0.7"/>
<line x1="292.6" y1="399.8925" x2="294.3" y2="399.8925" stroke="#222" stroke-width="0.7"/>
<line x1="291.90000000000003" y1="399.35" x2="294.3" y2="399.35" stroke="#222" stroke-width="0.9"/>
<line x1="292.6" y1="396.095" x2="294.3" y2="396.095" stroke="#222" stroke-width="0.7"/>
<line x1="292.6" y1="394.142" x2="294.3" y2="394.142" stroke="#222" stroke-width="0.7"/>
<line x1="292.6" y1="392.84000000000003" x2="294.3" y2="392.84000000000003" stroke="#222" stroke-width="0.7"/>
<line x1="292.6" y1="391.755" x2="294.3" y2="391.755" stroke="#222" stroke-width="0.7"/>
<line x1="292.6" y1="390.887" x2="294.3" y2="390.887" stroke="#222" stroke-width="0.7"/>
<line x1="292.6" y1="390.1275" x2="294.3" y2="390.1275" stroke="#222" stroke-width="0.7"/>
<line x1="292.6" y1="389.58500000000004" x2="294.3" y2="389.58500000000004" stroke="#222" stroke-width="0.7"/>
<line x1="292.6" y1="389.0425" x2="294.3" y2="389.0425" stroke="#222" stroke-width="0.7"/>
<line x1="291.90000000000003" y1="388.5" x2="294.3" y2="388.5" stroke="#222" stroke-width="0.9"/>
<line x1="292.6" y1="385.245" x2="294.3" y2="385.245" stroke="#222" stroke-width="0.7"/>
<line x1="296.3" y1="437.7" x2="296.3" y2="439.3" stroke="#333" stroke-width="0.7"/>
<line x1="299.48" y1="437.7" x2="299.48" y2="438.8" stroke="#333" stroke-width="0.6"/>
<line x1="301.38800000000003" y1="437.7" x2="301.38800000000003" y2="438.8" stroke="#333" stroke-width="0.6"/>
<line x1="302.66" y1="437.7" x2="302.66" y2="438.8" stroke="#333" stroke-width="0.6"/>
<line x1="303.72" y1="437.7" x2="303.72" y2="438.8" stroke="#333" stroke-width="0.6"/>
<line x1="304.568" y1="437.7" x2="304.568" y2="438.8" stroke="#333" stroke-width="0.6"/>
<line x1="305.31" y1="437.7" x2="305.31" y2="438.8" stroke="#333" stroke-width="0.6"/>
<line x1="305.84000000000003" y1="437.7" x2="305.84000000000003" y2="438.8" stroke="#333" stroke-width="0.6"/>
<line x1="306.37" y1="437.7" x2="306.37" y2="438.8" stroke="#333" stroke-width="0.6"/>
<line x1="306.90000000000003" y1="437.7" x2="306.90000000000003" y2="439.3" stroke="#333" stroke-width="0.7"/>
<line x1="310.08000000000004" y1="437.7" x2="310.08000000000004" y2="438.8" stroke="#333" stroke-width="0.6"/>
<line x1="311.98800000000006" y1="437.7" x2="311.98800000000006" y2="438.8" stroke="#333" stroke-width="0.6"/>
<line x1="313.26000000000005" y1="437.7" x2="313.26000000000005" y2="438.8" stroke="#333" stroke-width="0.6"/>
<line x1="314.32000000000005" y1="437.7" x2="314.32000000000005" y2="438.8" stroke="#333" stroke-width="0.6"/>
<line x1="315.168" y1="437.7" x2="315.168" y2="438.8" stroke="#333" stroke-width="0.6"/>
<line x1="315.91" y1="437.7" x2="315.91" y2="438.8" stroke="#333" stroke-width="0.6"/>
<line x1="316.44000000000005" y1="437.7" x2="316.44000000000005" y2="438.8" stroke="#333" stroke-width="0.6"/>
<line x1="316.97" y1="437.7" x2="316.97" y2="438.8" stroke="#333" stroke-width="0.6"/>
<line x1="317.5" y1="437.7" x2="317.5" y2="439.3" stroke="#333" stroke-width="0.7"/>
<line x1="320.68" y1="437.7" x2="320.68" y2="438.8" stroke="#333" stroke-width="0.6"/>
<line x1="322.588" y1="437.7" x2="322.588" y2="438.8" stroke="#333" stroke-width="0.6"/>
<line x1="323.86" y1="437.7" x2="323.86" y2="438.8" stroke="#333" stroke-width="0.6"/>
<line x1="324.92" y1="437.7" x2="324.92" y2="438.8" stroke="#333" stroke-width="0.6"/>
<line x1="325.76800000000003" y1="437.7" x2="325.76800000000003" y2="438.8" stroke="#333" stroke-width="0.6"/>
<line x1="326.51" y1="437.7" x2="326.51" y2="438.8" stroke="#333" stroke-width="0.6"/>
<line x1="327.04" y1="437.7" x2="327.04" y2="438.8" stroke="#333" stroke-width="0.6"/>
<line x1="327.57" y1="437.7" x2="327.57" y2="438.8" stroke="#333" stroke-width="0.6"/>
<line x1="328.1" y1="437.7" x2="328.1" y2="439.3" stroke="#333" stroke-width="0.7"/>
<line x1="331.28000000000003" y1="437.7" x2="331.28000000000003" y2="438.8" stroke="#333" stroke-width="0.6"/>
<line x1="333.18800000000005" y1="437.7" x2="333.18800000000005" y2="438.8" stroke="#333" stroke-width="0.6"/>
<line x1="334.46000000000004" y1="437.7" x2="334.46000000000004" y2="438.8" stroke="#333" stroke-width="0.6"/>
<line x1="335.52000000000004" y1="437.7" x2="335.52000000000004" y2="438.8" stroke="#333" stroke-width="0.6"/>
<line x1="336.36800000000005" y1="437.7" x2="336.36800000000005" y2="438.8" stroke="#333" stroke-width="0.6"/>
<line x1="337.11" y1="437.7" x2="337.11" y2="438.8" stroke="#333" stroke-width="0.6"/>
<line x1="337.64000000000004" y1="437.7" x2="337.64000000000004" y2="438.8" stroke="#333" stroke-width="0.6"/>
<line x1="338.17" y1="437.7" x2="338.17" y2="438.8" stroke="#333" stroke-width="0.6"/>
<line x1="338.7" y1="437.7" x2="338.7" y2="439.3" stroke="#333" stroke-width="0.7"/>
<line x1="341.88" y1="437.7" x2="341.88" y2="438.8" stroke="#333" stroke-width="0.6"/>
<line x1="343.788" y1="437.7" x2="343.788" y2="438.8" stroke="#333" stroke-width="0.6"/>
<line x1="345.06" y1="437.7" x2="345.06" y2="438.8" stroke="#333" stroke-width="0.6"/>
<line x1="346.12" y1="437.7" x2="346.12" y2="438.8" stroke="#333" stroke-width="0.6"/>
<path d="M310.5,391.5 C310.9,390.4 311.7,387.9 312.8,386.9 C313.9,385.8 315.9,385.0 317.4,385.2 C318.9,385.4 320.8,386.8 322.0,388.1 C323.2,389.5 324.5,391.6 324.7,393.3 C324.9,395.0 323.8,397.2 323.2,398.5 C322.6,399.8 321.7,401.1 320.9,401.3 C320.1,401.5 319.9,400.4 318.6,399.6 C317.4,398.8 314.7,397.7 313.4,396.7 C312.1,395.7 311.2,394.7 310.7,393.8 C310.2,392.9 310.1,392.6 310.5,391.5 Z" fill="#0a14f0" stroke="none" stroke-width="0"/>
<path d="M311.8,391.5 C312.1,390.5 312.7,388.6 313.7,387.8 C314.6,386.9 316.1,386.3 317.3,386.4 C318.6,386.6 320.0,387.7 321.0,388.7 C322.0,389.8 323.0,391.5 323.2,392.9 C323.3,394.3 322.5,396.0 322.0,397.1 C321.5,398.1 320.8,399.2 320.1,399.3 C319.5,399.4 319.3,398.6 318.3,397.9 C317.3,397.3 315.2,396.4 314.1,395.6 C313.1,394.8 312.4,394.0 312.0,393.3 C311.6,392.6 311.5,392.4 311.8,391.5 Z" fill="#0058ff" stroke="none" stroke-width="0"/>
<path d="M312.9,391.4 C313.1,390.7 313.6,389.2 314.3,388.5 C315.1,387.8 316.3,387.3 317.3,387.4 C318.3,387.5 319.5,388.4 320.2,389.3 C321.0,390.1 321.8,391.5 322.0,392.6 C322.1,393.7 321.4,395.1 321.0,395.9 C320.6,396.8 320.0,397.6 319.5,397.7 C319.0,397.8 318.9,397.1 318.1,396.6 C317.3,396.1 315.6,395.4 314.7,394.8 C313.9,394.1 313.3,393.5 313.0,392.9 C312.7,392.3 312.7,392.2 312.9,391.4 Z" fill="#00a8ff" stroke="none" stroke-width="0"/>
<path d="M313.8,391.4 C314.0,390.8 314.4,389.6 315.0,389.1 C315.5,388.6 316.5,388.1 317.2,388.2 C318.0,388.4 318.9,389.0 319.6,389.7 C320.2,390.4 320.8,391.4 320.9,392.3 C321.0,393.2 320.5,394.2 320.1,394.9 C319.8,395.6 319.4,396.2 319.0,396.3 C318.6,396.4 318.5,395.8 317.9,395.5 C317.2,395.1 315.9,394.5 315.2,394.0 C314.6,393.5 314.1,393.0 313.9,392.6 C313.7,392.1 313.6,392.0 313.8,391.4 Z" fill="#10e0b0" stroke="none" stroke-width="0"/>
<path d="M314.6,391.4 C314.7,390.9 315.0,390.0 315.5,389.6 C315.9,389.2 316.6,388.9 317.2,389.0 C317.8,389.1 318.5,389.6 319.0,390.1 C319.4,390.6 319.9,391.4 320.0,392.1 C320.1,392.7 319.7,393.5 319.4,394.0 C319.2,394.5 318.8,395.0 318.5,395.1 C318.3,395.2 318.1,394.7 317.7,394.5 C317.2,394.2 316.2,393.7 315.7,393.4 C315.2,393.0 314.9,392.6 314.7,392.2 C314.5,391.9 314.5,391.8 314.6,391.4 Z" fill="#70f040" stroke="none" stroke-width="0"/>
<path d="M315.3,391.4 C315.4,391.0 315.6,390.4 315.9,390.1 C316.2,389.8 316.8,389.6 317.2,389.7 C317.6,389.7 318.1,390.1 318.4,390.4 C318.8,390.8 319.1,391.4 319.2,391.8 C319.2,392.3 318.9,392.9 318.7,393.2 C318.6,393.6 318.3,394.0 318.1,394.0 C317.9,394.0 317.8,393.7 317.5,393.5 C317.2,393.3 316.5,393.0 316.1,392.8 C315.7,392.5 315.5,392.2 315.4,392.0 C315.2,391.7 315.2,391.7 315.3,391.4 Z" fill="#f0f000" stroke="none" stroke-width="0"/>
<path d="M315.9,391.3 C316.0,391.1 316.1,390.7 316.3,390.5 C316.5,390.3 316.9,390.2 317.2,390.2 C317.4,390.2 317.8,390.5 318.0,390.7 C318.2,391.0 318.4,391.3 318.5,391.7 C318.5,392.0 318.3,392.4 318.2,392.6 C318.1,392.8 317.9,393.1 317.8,393.1 C317.6,393.1 317.6,392.9 317.4,392.8 C317.1,392.7 316.7,392.4 316.4,392.3 C316.2,392.1 316.0,391.9 315.9,391.8 C315.9,391.6 315.8,391.5 315.9,391.3 Z" fill="#ff9000" stroke="none" stroke-width="0"/>
<path d="M316.4,391.3 C316.5,391.2 316.6,391.0 316.7,390.9 C316.8,390.8 317.0,390.7 317.1,390.7 C317.3,390.7 317.5,390.8 317.6,391.0 C317.7,391.1 317.8,391.3 317.9,391.5 C317.9,391.7 317.8,391.9 317.7,392.0 C317.6,392.2 317.6,392.3 317.5,392.3 C317.4,392.3 317.4,392.2 317.2,392.1 C317.1,392.1 316.9,391.9 316.7,391.8 C316.6,391.7 316.5,391.6 316.5,391.6 C316.4,391.5 316.4,391.4 316.4,391.3 Z" fill="#ff1a00" stroke="none" stroke-width="0"/>
<text x="296.3" y="449.0" font-size="6.6" text-anchor="start" fill="#222" font-weight="normal" stroke="#222" stroke-width="0.12" textLength="6.6" lengthAdjust="spacingAndGlyphs">10</text>
<text x="303.1" y="446.5" font-size="4.4" text-anchor="start" fill="#222" font-weight="normal" stroke="#222" stroke-width="0.12">1</text>
<text x="307.0" y="449.0" font-size="6.6" text-anchor="start" fill="#222" font-weight="normal" stroke="#222" stroke-width="0.12" textLength="6.6" lengthAdjust="spacingAndGlyphs">10</text>
<text x="313.8" y="446.5" font-size="4.4" text-anchor="start" fill="#222" font-weight="normal" stroke="#222" stroke-width="0.12">2</text>
<text x="317.7" y="449.0" font-size="6.6" text-anchor="start" fill="#222" font-weight="normal" stroke="#222" stroke-width="0.12" textLength="6.6" lengthAdjust="spacingAndGlyphs">10</text>
<text x="324.5" y="446.5" font-size="4.4" text-anchor="start" fill="#222" font-weight="normal" stroke="#222" stroke-width="0.12">3</text>
<text x="328.4" y="449.0" font-size="6.6" text-anchor="start" fill="#222" font-weight="normal" stroke="#222" stroke-width="0.12" textLength="6.6" lengthAdjust="spacingAndGlyphs">10</text>
<text x="335.2" y="446.5" font-size="4.4" text-anchor="start" fill="#222" font-weight="normal" stroke="#222" stroke-width="0.12">4</text>
<text x="339.1" y="449.0" font-size="6.6" text-anchor="start" fill="#222" font-weight="normal" stroke="#222" stroke-width="0.12" textLength="6.6" lengthAdjust="spacingAndGlyphs">10</text>
<text x="345.90000000000003" y="446.5" font-size="4.4" text-anchor="start" fill="#222" font-weight="normal" stroke="#222" stroke-width="0.12">5</text>
<line x1="276.3" y1="453.5" x2="342.6" y2="453.5" stroke="#222" stroke-width="1.1"/>
<path d="M341.8,451.6 L345.6,453.5 L341.8,455.4 Z" fill="#222"/>
<line x1="276.3" y1="453.5" x2="276.3" y2="387.9" stroke="#222" stroke-width="1.1"/>
<path d="M274.40000000000003,388.7 L276.3,384.9 L278.2,388.7 Z" fill="#222"/>
<text x="311.45000000000005" y="463.9" font-size="9.4" text-anchor="middle" fill="#222" font-weight="normal" stroke="#222" stroke-width="0.12" textLength="23.1" lengthAdjust="spacingAndGlyphs">Band 3</text>
<text x="271.5" y="418.5" font-size="8.8" text-anchor="middle" fill="#222" font-weight="normal" stroke="#222" stroke-width="0.12" textLength="38.6" lengthAdjust="spacingAndGlyphs" transform="rotate(-90 271.5 418.5)">α4-integrin</text>
<text x="280.6" y="390.9" font-size="6.6" text-anchor="start" fill="#222" font-weight="normal" stroke="#222" stroke-width="0.12" textLength="6.8" lengthAdjust="spacingAndGlyphs">10</text>
<text x="287.6" y="388.4" font-size="4.4" text-anchor="start" fill="#222" font-weight="normal" stroke="#222" stroke-width="0.12">5</text>
<text x="280.6" y="401.75" font-size="6.6" text-anchor="start" fill="#222" font-weight="normal" stroke="#222" stroke-width="0.12" textLength="6.8" lengthAdjust="spacingAndGlyphs">10</text>
<text x="287.6" y="399.25" font-size="4.4" text-anchor="start" fill="#222" font-weight="normal" stroke="#222" stroke-width="0.12">4</text>
<text x="280.6" y="412.59999999999997" font-size="6.6" text-anchor="start" fill="#222" font-weight="normal" stroke="#222" stroke-width="0.12" textLength="6.8" lengthAdjust="spacingAndGlyphs">10</text>
<text x="287.6" y="410.09999999999997" font-size="4.4" text-anchor="start" fill="#222" font-weight="normal" stroke="#222" stroke-width="0.12">3</text>
<text x="280.6" y="423.45" font-size="6.6" text-anchor="start" fill="#222" font-weight="normal" stroke="#222" stroke-width="0.12" textLength="6.8" lengthAdjust="spacingAndGlyphs">10</text>
<text x="287.6" y="420.95" font-size="4.4" text-anchor="start" fill="#222" font-weight="normal" stroke="#222" stroke-width="0.12">2</text>
<text x="280.6" y="434.29999999999995" font-size="6.6" text-anchor="start" fill="#222" font-weight="normal" stroke="#222" stroke-width="0.12" textLength="6.8" lengthAdjust="spacingAndGlyphs">10</text>
<text x="287.6" y="431.79999999999995" font-size="4.4" text-anchor="start" fill="#222" font-weight="normal" stroke="#222" stroke-width="0.12">1</text>
<rect x="368.4" y="294.0" width="52.400000000000034" height="54.39999999999998" fill="none" stroke="#222" stroke-width="1.1"/>
<line x1="368.4" y1="294.0" x2="420.8" y2="294.0" stroke="#222" stroke-width="1.6"/>
<line x1="420.8" y1="294.0" x2="420.8" y2="348.4" stroke="#222" stroke-width="1.4"/>
<line x1="366.4" y1="348.4" x2="368.4" y2="348.4" stroke="#222" stroke-width="0.8"/>
<line x1="366.4" y1="345.0" x2="368.4" y2="345.0" stroke="#222" stroke-width="0.8"/>
<line x1="366.4" y1="341.59999999999997" x2="368.4" y2="341.59999999999997" stroke="#222" stroke-width="0.8"/>
<line x1="366.4" y1="338.2" x2="368.4" y2="338.2" stroke="#222" stroke-width="0.8"/>
<line x1="366.4" y1="334.79999999999995" x2="368.4" y2="334.79999999999995" stroke="#222" stroke-width="0.8"/>
<line x1="366.4" y1="331.4" x2="368.4" y2="331.4" stroke="#222" stroke-width="0.8"/>
<line x1="366.4" y1="328.0" x2="368.4" y2="328.0" stroke="#222" stroke-width="0.8"/>
<line x1="366.4" y1="324.59999999999997" x2="368.4" y2="324.59999999999997" stroke="#222" stroke-width="0.8"/>
<line x1="366.4" y1="321.2" x2="368.4" y2="321.2" stroke="#222" stroke-width="0.8"/>
<line x1="366.4" y1="317.79999999999995" x2="368.4" y2="317.79999999999995" stroke="#222" stroke-width="0.8"/>
<line x1="366.4" y1="314.4" x2="368.4" y2="314.4" stroke="#222" stroke-width="0.8"/>
<line x1="366.4" y1="311.0" x2="368.4" y2="311.0" stroke="#222" stroke-width="0.8"/>
<line x1="366.4" y1="307.59999999999997" x2="368.4" y2="307.59999999999997" stroke="#222" stroke-width="0.8"/>
<line x1="366.4" y1="304.2" x2="368.4" y2="304.2" stroke="#222" stroke-width="0.8"/>
<line x1="366.4" y1="300.79999999999995" x2="368.4" y2="300.79999999999995" stroke="#222" stroke-width="0.8"/>
<line x1="366.4" y1="297.4" x2="368.4" y2="297.4" stroke="#222" stroke-width="0.8"/>
<line x1="369.4" y1="348.4" x2="369.4" y2="350.0" stroke="#333" stroke-width="0.7"/>
<line x1="372.58" y1="348.4" x2="372.58" y2="349.5" stroke="#333" stroke-width="0.6"/>
<line x1="374.488" y1="348.4" x2="374.488" y2="349.5" stroke="#333" stroke-width="0.6"/>
<line x1="375.76" y1="348.4" x2="375.76" y2="349.5" stroke="#333" stroke-width="0.6"/>
<line x1="376.82" y1="348.4" x2="376.82" y2="349.5" stroke="#333" stroke-width="0.6"/>
<line x1="377.668" y1="348.4" x2="377.668" y2="349.5" stroke="#333" stroke-width="0.6"/>
<line x1="378.40999999999997" y1="348.4" x2="378.40999999999997" y2="349.5" stroke="#333" stroke-width="0.6"/>
<line x1="378.94" y1="348.4" x2="378.94" y2="349.5" stroke="#333" stroke-width="0.6"/>
<line x1="379.46999999999997" y1="348.4" x2="379.46999999999997" y2="349.5" stroke="#333" stroke-width="0.6"/>
<line x1="380.0" y1="348.4" x2="380.0" y2="350.0" stroke="#333" stroke-width="0.7"/>
<line x1="383.18" y1="348.4" x2="383.18" y2="349.5" stroke="#333" stroke-width="0.6"/>
<line x1="385.088" y1="348.4" x2="385.088" y2="349.5" stroke="#333" stroke-width="0.6"/>
<line x1="386.36" y1="348.4" x2="386.36" y2="349.5" stroke="#333" stroke-width="0.6"/>
<line x1="387.42" y1="348.4" x2="387.42" y2="349.5" stroke="#333" stroke-width="0.6"/>
<line x1="388.26800000000003" y1="348.4" x2="388.26800000000003" y2="349.5" stroke="#333" stroke-width="0.6"/>
<line x1="389.01" y1="348.4" x2="389.01" y2="349.5" stroke="#333" stroke-width="0.6"/>
<line x1="389.54" y1="348.4" x2="389.54" y2="349.5" stroke="#333" stroke-width="0.6"/>
<line x1="390.07" y1="348.4" x2="390.07" y2="349.5" stroke="#333" stroke-width="0.6"/>
<line x1="390.59999999999997" y1="348.4" x2="390.59999999999997" y2="350.0" stroke="#333" stroke-width="0.7"/>
<line x1="393.78" y1="348.4" x2="393.78" y2="349.5" stroke="#333" stroke-width="0.6"/>
<line x1="395.688" y1="348.4" x2="395.688" y2="349.5" stroke="#333" stroke-width="0.6"/>
<line x1="396.96" y1="348.4" x2="396.96" y2="349.5" stroke="#333" stroke-width="0.6"/>
<line x1="398.02" y1="348.4" x2="398.02" y2="349.5" stroke="#333" stroke-width="0.6"/>
<line x1="398.86799999999994" y1="348.4" x2="398.86799999999994" y2="349.5" stroke="#333" stroke-width="0.6"/>
<line x1="399.60999999999996" y1="348.4" x2="399.60999999999996" y2="349.5" stroke="#333" stroke-width="0.6"/>
<line x1="400.14" y1="348.4" x2="400.14" y2="349.5" stroke="#333" stroke-width="0.6"/>
<line x1="400.66999999999996" y1="348.4" x2="400.66999999999996" y2="349.5" stroke="#333" stroke-width="0.6"/>
<line x1="401.2" y1="348.4" x2="401.2" y2="350.0" stroke="#333" stroke-width="0.7"/>
<line x1="404.38" y1="348.4" x2="404.38" y2="349.5" stroke="#333" stroke-width="0.6"/>
<line x1="406.288" y1="348.4" x2="406.288" y2="349.5" stroke="#333" stroke-width="0.6"/>
<line x1="407.56" y1="348.4" x2="407.56" y2="349.5" stroke="#333" stroke-width="0.6"/>
<line x1="408.62" y1="348.4" x2="408.62" y2="349.5" stroke="#333" stroke-width="0.6"/>
<line x1="409.46799999999996" y1="348.4" x2="409.46799999999996" y2="349.5" stroke="#333" stroke-width="0.6"/>
<line x1="410.21" y1="348.4" x2="410.21" y2="349.5" stroke="#333" stroke-width="0.6"/>
<line x1="410.74" y1="348.4" x2="410.74" y2="349.5" stroke="#333" stroke-width="0.6"/>
<line x1="411.27" y1="348.4" x2="411.27" y2="349.5" stroke="#333" stroke-width="0.6"/>
<line x1="411.79999999999995" y1="348.4" x2="411.79999999999995" y2="350.0" stroke="#333" stroke-width="0.7"/>
<line x1="414.97999999999996" y1="348.4" x2="414.97999999999996" y2="349.5" stroke="#333" stroke-width="0.6"/>
<line x1="416.888" y1="348.4" x2="416.888" y2="349.5" stroke="#333" stroke-width="0.6"/>
<line x1="418.15999999999997" y1="348.4" x2="418.15999999999997" y2="349.5" stroke="#333" stroke-width="0.6"/>
<line x1="419.21999999999997" y1="348.4" x2="419.21999999999997" y2="349.5" stroke="#333" stroke-width="0.6"/>
<line x1="420.068" y1="348.4" x2="420.068" y2="349.5" stroke="#333" stroke-width="0.6"/>
<path d="M390.5,348.2 C390.8,348.0 391.8,348.0 392.3,347.1 C392.9,346.2 393.3,345.3 393.8,343.1 C394.3,340.9 394.8,337.9 395.2,333.8 C395.6,329.8 395.9,324.0 396.3,318.8 C396.7,313.6 397.1,306.1 397.5,302.7 C397.9,299.3 398.1,298.8 398.4,298.3 C398.7,297.8 398.9,298.9 399.2,299.8 C399.5,300.7 400.0,300.6 400.3,303.8 C400.6,307.0 400.7,313.8 400.9,318.8 C401.1,323.8 401.2,329.6 401.5,333.8 C401.8,338.0 402.1,341.8 402.4,344.2 C402.7,346.6 403.1,347.5 403.2,348.2" stroke="#c8102e" stroke-width="1.1" fill="none" stroke-linejoin="round"/>
<text x="368.5" y="359.7" font-size="6.6" text-anchor="start" fill="#222" font-weight="normal" stroke="#222" stroke-width="0.12" textLength="6.6" lengthAdjust="spacingAndGlyphs">10</text>
<text x="375.3" y="357.2" font-size="4.4" text-anchor="start" fill="#222" font-weight="normal" stroke="#222" stroke-width="0.12">1</text>
<text x="379.2" y="359.7" font-size="6.6" text-anchor="start" fill="#222" font-weight="normal" stroke="#222" stroke-width="0.12" textLength="6.6" lengthAdjust="spacingAndGlyphs">10</text>
<text x="386.0" y="357.2" font-size="4.4" text-anchor="start" fill="#222" font-weight="normal" stroke="#222" stroke-width="0.12">2</text>
<text x="389.9" y="359.7" font-size="6.6" text-anchor="start" fill="#222" font-weight="normal" stroke="#222" stroke-width="0.12" textLength="6.6" lengthAdjust="spacingAndGlyphs">10</text>
<text x="396.7" y="357.2" font-size="4.4" text-anchor="start" fill="#222" font-weight="normal" stroke="#222" stroke-width="0.12">3</text>
<text x="400.6" y="359.7" font-size="6.6" text-anchor="start" fill="#222" font-weight="normal" stroke="#222" stroke-width="0.12" textLength="6.6" lengthAdjust="spacingAndGlyphs">10</text>
<text x="407.40000000000003" y="357.2" font-size="4.4" text-anchor="start" fill="#222" font-weight="normal" stroke="#222" stroke-width="0.12">4</text>
<text x="411.3" y="359.7" font-size="6.6" text-anchor="start" fill="#222" font-weight="normal" stroke="#222" stroke-width="0.12" textLength="6.6" lengthAdjust="spacingAndGlyphs">10</text>
<text x="418.1" y="357.2" font-size="4.4" text-anchor="start" fill="#222" font-weight="normal" stroke="#222" stroke-width="0.12">5</text>
<line x1="364.3" y1="364.2" x2="417.3" y2="364.2" stroke="#222" stroke-width="1.1"/>
<path d="M416.5,362.3 L420.3,364.2 L416.5,366.09999999999997 Z" fill="#222"/>
<text x="392.7" y="374.6" font-size="9.2" text-anchor="middle" fill="#222" font-weight="normal" stroke="#222" stroke-width="0.12" textLength="13.6" lengthAdjust="spacingAndGlyphs">GPA</text>
<rect x="461.2" y="294.0" width="52.50000000000006" height="54.39999999999998" fill="none" stroke="#222" stroke-width="1.1"/>
<line x1="461.2" y1="294.0" x2="513.7" y2="294.0" stroke="#222" stroke-width="1.6"/>
<line x1="513.7" y1="294.0" x2="513.7" y2="348.4" stroke="#222" stroke-width="1.4"/>
<line x1="458.8" y1="344.5" x2="461.2" y2="344.5" stroke="#222" stroke-width="0.9"/>
<line x1="459.5" y1="341.245" x2="461.2" y2="341.245" stroke="#222" stroke-width="0.7"/>
<line x1="459.5" y1="339.292" x2="461.2" y2="339.292" stroke="#222" stroke-width="0.7"/>
<line x1="459.5" y1="337.99" x2="461.2" y2="337.99" stroke="#222" stroke-width="0.7"/>
<line x1="459.5" y1="336.905" x2="461.2" y2="336.905" stroke="#222" stroke-width="0.7"/>
<line x1="459.5" y1="336.037" x2="461.2" y2="336.037" stroke="#222" stroke-width="0.7"/>
<line x1="459.5" y1="335.2775" x2="461.2" y2="335.2775" stroke="#222" stroke-width="0.7"/>
<line x1="459.5" y1="334.735" x2="461.2" y2="334.735" stroke="#222" stroke-width="0.7"/>
<line x1="459.5" y1="334.1925" x2="461.2" y2="334.1925" stroke="#222" stroke-width="0.7"/>
<line x1="458.8" y1="333.65000000000003" x2="461.2" y2="333.65000000000003" stroke="#222" stroke-width="0.9"/>
<line x1="459.5" y1="330.39500000000004" x2="461.2" y2="330.39500000000004" stroke="#222" stroke-width="0.7"/>
<line x1="459.5" y1="328.442" x2="461.2" y2="328.442" stroke="#222" stroke-width="0.7"/>
<line x1="459.5" y1="327.14000000000004" x2="461.2" y2="327.14000000000004" stroke="#222" stroke-width="0.7"/>
<line x1="459.5" y1="326.05500000000006" x2="461.2" y2="326.05500000000006" stroke="#222" stroke-width="0.7"/>
<line x1="459.5" y1="325.187" x2="461.2" y2="325.187" stroke="#222" stroke-width="0.7"/>
<line x1="459.5" y1="324.4275" x2="461.2" y2="324.4275" stroke="#222" stroke-width="0.7"/>
<line x1="459.5" y1="323.88500000000005" x2="461.2" y2="323.88500000000005" stroke="#222" stroke-width="0.7"/>
<line x1="459.5" y1="323.34250000000003" x2="461.2" y2="323.34250000000003" stroke="#222" stroke-width="0.7"/>
<line x1="458.8" y1="322.8" x2="461.2" y2="322.8" stroke="#222" stroke-width="0.9"/>
<line x1="459.5" y1="319.545" x2="461.2" y2="319.545" stroke="#222" stroke-width="0.7"/>
<line x1="459.5" y1="317.592" x2="461.2" y2="317.592" stroke="#222" stroke-width="0.7"/>
<line x1="459.5" y1="316.29" x2="461.2" y2="316.29" stroke="#222" stroke-width="0.7"/>
<line x1="459.5" y1="315.20500000000004" x2="461.2" y2="315.20500000000004" stroke="#222" stroke-width="0.7"/>
<line x1="459.5" y1="314.337" x2="461.2" y2="314.337" stroke="#222" stroke-width="0.7"/>
<line x1="459.5" y1="313.5775" x2="461.2" y2="313.5775" stroke="#222" stroke-width="0.7"/>
<line x1="459.5" y1="313.035" x2="461.2" y2="313.035" stroke="#222" stroke-width="0.7"/>
<line x1="459.5" y1="312.4925" x2="461.2" y2="312.4925" stroke="#222" stroke-width="0.7"/>
<line x1="458.8" y1="311.95000000000005" x2="461.2" y2="311.95000000000005" stroke="#222" stroke-width="0.9"/>
<line x1="459.5" y1="308.69500000000005" x2="461.2" y2="308.69500000000005" stroke="#222" stroke-width="0.7"/>
<line x1="459.5" y1="306.742" x2="461.2" y2="306.742" stroke="#222" stroke-width="0.7"/>
<line x1="459.5" y1="305.44000000000005" x2="461.2" y2="305.44000000000005" stroke="#222" stroke-width="0.7"/>
<line x1="459.5" y1="304.355" x2="461.2" y2="304.355" stroke="#222" stroke-width="0.7"/>
<line x1="459.5" y1="303.487" x2="461.2" y2="303.487" stroke="#222" stroke-width="0.7"/>
<line x1="459.5" y1="302.7275" x2="461.2" y2="302.7275" stroke="#222" stroke-width="0.7"/>
<line x1="459.5" y1="302.18500000000006" x2="461.2" y2="302.18500000000006" stroke="#222" stroke-width="0.7"/>
<line x1="459.5" y1="301.64250000000004" x2="461.2" y2="301.64250000000004" stroke="#222" stroke-width="0.7"/>
<line x1="458.8" y1="301.1" x2="461.2" y2="301.1" stroke="#222" stroke-width="0.9"/>
<line x1="459.5" y1="297.845" x2="461.2" y2="297.845" stroke="#222" stroke-width="0.7"/>
<line x1="459.5" y1="295.892" x2="461.2" y2="295.892" stroke="#222" stroke-width="0.7"/>
<line x1="459.5" y1="294.59000000000003" x2="461.2" y2="294.59000000000003" stroke="#222" stroke-width="0.7"/>
<line x1="463.2" y1="348.4" x2="463.2" y2="350.0" stroke="#333" stroke-width="0.7"/>
<line x1="466.38" y1="348.4" x2="466.38" y2="349.5" stroke="#333" stroke-width="0.6"/>
<line x1="468.288" y1="348.4" x2="468.288" y2="349.5" stroke="#333" stroke-width="0.6"/>
<line x1="469.56" y1="348.4" x2="469.56" y2="349.5" stroke="#333" stroke-width="0.6"/>
<line x1="470.62" y1="348.4" x2="470.62" y2="349.5" stroke="#333" stroke-width="0.6"/>
<line x1="471.46799999999996" y1="348.4" x2="471.46799999999996" y2="349.5" stroke="#333" stroke-width="0.6"/>
<line x1="472.21" y1="348.4" x2="472.21" y2="349.5" stroke="#333" stroke-width="0.6"/>
<line x1="472.74" y1="348.4" x2="472.74" y2="349.5" stroke="#333" stroke-width="0.6"/>
<line x1="473.27" y1="348.4" x2="473.27" y2="349.5" stroke="#333" stroke-width="0.6"/>
<line x1="473.8" y1="348.4" x2="473.8" y2="350.0" stroke="#333" stroke-width="0.7"/>
<line x1="476.98" y1="348.4" x2="476.98" y2="349.5" stroke="#333" stroke-width="0.6"/>
<line x1="478.88800000000003" y1="348.4" x2="478.88800000000003" y2="349.5" stroke="#333" stroke-width="0.6"/>
<line x1="480.16" y1="348.4" x2="480.16" y2="349.5" stroke="#333" stroke-width="0.6"/>
<line x1="481.22" y1="348.4" x2="481.22" y2="349.5" stroke="#333" stroke-width="0.6"/>
<line x1="482.068" y1="348.4" x2="482.068" y2="349.5" stroke="#333" stroke-width="0.6"/>
<line x1="482.81" y1="348.4" x2="482.81" y2="349.5" stroke="#333" stroke-width="0.6"/>
<line x1="483.34000000000003" y1="348.4" x2="483.34000000000003" y2="349.5" stroke="#333" stroke-width="0.6"/>
<line x1="483.87" y1="348.4" x2="483.87" y2="349.5" stroke="#333" stroke-width="0.6"/>
<line x1="484.4" y1="348.4" x2="484.4" y2="350.0" stroke="#333" stroke-width="0.7"/>
<line x1="487.58" y1="348.4" x2="487.58" y2="349.5" stroke="#333" stroke-width="0.6"/>
<line x1="489.488" y1="348.4" x2="489.488" y2="349.5" stroke="#333" stroke-width="0.6"/>
<line x1="490.76" y1="348.4" x2="490.76" y2="349.5" stroke="#333" stroke-width="0.6"/>
<line x1="491.82" y1="348.4" x2="491.82" y2="349.5" stroke="#333" stroke-width="0.6"/>
<line x1="492.668" y1="348.4" x2="492.668" y2="349.5" stroke="#333" stroke-width="0.6"/>
<line x1="493.40999999999997" y1="348.4" x2="493.40999999999997" y2="349.5" stroke="#333" stroke-width="0.6"/>
<line x1="493.94" y1="348.4" x2="493.94" y2="349.5" stroke="#333" stroke-width="0.6"/>
<line x1="494.46999999999997" y1="348.4" x2="494.46999999999997" y2="349.5" stroke="#333" stroke-width="0.6"/>
<line x1="495.0" y1="348.4" x2="495.0" y2="350.0" stroke="#333" stroke-width="0.7"/>
<line x1="498.18" y1="348.4" x2="498.18" y2="349.5" stroke="#333" stroke-width="0.6"/>
<line x1="500.088" y1="348.4" x2="500.088" y2="349.5" stroke="#333" stroke-width="0.6"/>
<line x1="501.36" y1="348.4" x2="501.36" y2="349.5" stroke="#333" stroke-width="0.6"/>
<line x1="502.42" y1="348.4" x2="502.42" y2="349.5" stroke="#333" stroke-width="0.6"/>
<line x1="503.26800000000003" y1="348.4" x2="503.26800000000003" y2="349.5" stroke="#333" stroke-width="0.6"/>
<line x1="504.01" y1="348.4" x2="504.01" y2="349.5" stroke="#333" stroke-width="0.6"/>
<line x1="504.54" y1="348.4" x2="504.54" y2="349.5" stroke="#333" stroke-width="0.6"/>
<line x1="505.07" y1="348.4" x2="505.07" y2="349.5" stroke="#333" stroke-width="0.6"/>
<line x1="505.59999999999997" y1="348.4" x2="505.59999999999997" y2="350.0" stroke="#333" stroke-width="0.7"/>
<line x1="508.78" y1="348.4" x2="508.78" y2="349.5" stroke="#333" stroke-width="0.6"/>
<line x1="510.688" y1="348.4" x2="510.688" y2="349.5" stroke="#333" stroke-width="0.6"/>
<line x1="511.96" y1="348.4" x2="511.96" y2="349.5" stroke="#333" stroke-width="0.6"/>
<line x1="513.02" y1="348.4" x2="513.02" y2="349.5" stroke="#333" stroke-width="0.6"/>
<path d="M479.1,307.3 C479.2,305.9 479.9,303.8 480.8,302.7 C481.8,301.6 483.4,300.6 484.8,300.6 C486.2,300.6 488.1,301.6 489.5,302.7 C490.9,303.8 491.9,305.6 492.9,307.3 C493.8,309.0 494.8,310.6 495.2,313.1 C495.6,315.6 495.4,319.8 495.2,322.3 C495.0,324.8 494.6,326.7 494.1,328.1 C493.6,329.6 492.7,330.9 492.0,331.0 C491.3,331.1 490.8,330.3 490.0,328.7 C489.2,327.1 488.2,323.3 487.2,321.2 C486.1,319.1 484.9,317.6 483.7,316.0 C482.5,314.4 481.0,312.8 480.2,311.3 C479.4,309.9 479.0,308.7 479.1,307.3 Z" fill="#0a14f0" stroke="none" stroke-width="0"/>
<path d="M480.4,307.3 C480.4,306.2 481.0,304.5 481.7,303.6 C482.5,302.7 483.8,301.9 484.9,301.9 C486.1,301.9 487.6,302.7 488.7,303.6 C489.8,304.5 490.6,305.9 491.4,307.3 C492.2,308.7 492.9,309.9 493.2,311.9 C493.5,313.9 493.4,317.3 493.2,319.3 C493.1,321.3 492.8,322.8 492.4,323.9 C491.9,325.1 491.2,326.2 490.7,326.3 C490.1,326.3 489.7,325.7 489.1,324.4 C488.4,323.1 487.7,320.1 486.8,318.4 C486.0,316.7 485.0,315.6 484.0,314.3 C483.1,312.9 481.9,311.7 481.2,310.5 C480.6,309.3 480.3,308.4 480.4,307.3 Z" fill="#0058ff" stroke="none" stroke-width="0"/>
<path d="M481.4,307.3 C481.4,306.4 481.8,305.1 482.5,304.4 C483.1,303.6 484.1,303.0 485.0,303.0 C485.9,303.0 487.2,303.6 488.0,304.4 C488.9,305.1 489.6,306.2 490.2,307.3 C490.8,308.4 491.4,309.4 491.7,311.0 C491.9,312.6 491.8,315.3 491.7,316.9 C491.6,318.5 491.3,319.7 491.0,320.6 C490.6,321.5 490.1,322.4 489.6,322.5 C489.2,322.5 488.9,322.0 488.3,321.0 C487.8,320.0 487.2,317.6 486.6,316.2 C485.9,314.8 485.1,313.9 484.3,312.9 C483.6,311.8 482.6,310.8 482.1,309.9 C481.6,308.9 481.3,308.2 481.4,307.3 Z" fill="#00a8ff" stroke="none" stroke-width="0"/>
<path d="M482.2,307.3 C482.3,306.6 482.6,305.6 483.1,305.0 C483.6,304.4 484.4,304.0 485.1,304.0 C485.8,304.0 486.8,304.4 487.4,305.0 C488.1,305.6 488.7,306.4 489.1,307.3 C489.6,308.2 490.1,309.0 490.3,310.2 C490.5,311.5 490.4,313.6 490.3,314.8 C490.2,316.1 490.0,317.0 489.8,317.7 C489.5,318.4 489.0,319.1 488.7,319.1 C488.4,319.2 488.1,318.8 487.7,318.0 C487.3,317.2 486.8,315.3 486.3,314.2 C485.8,313.2 485.1,312.5 484.5,311.6 C484.0,310.8 483.2,310.0 482.8,309.3 C482.4,308.6 482.2,308.0 482.2,307.3 Z" fill="#10e0b0" stroke="none" stroke-width="0"/>
<path d="M483.0,307.3 C483.0,306.8 483.3,306.0 483.7,305.6 C484.0,305.1 484.6,304.8 485.2,304.8 C485.7,304.8 486.4,305.1 487.0,305.6 C487.5,306.0 487.9,306.6 488.2,307.3 C488.6,308.0 489.0,308.6 489.1,309.5 C489.3,310.5 489.2,312.1 489.1,313.0 C489.1,313.9 488.9,314.7 488.7,315.2 C488.5,315.8 488.2,316.3 487.9,316.3 C487.6,316.3 487.5,316.1 487.1,315.4 C486.8,314.8 486.5,313.4 486.1,312.6 C485.7,311.8 485.2,311.2 484.8,310.6 C484.3,310.0 483.7,309.4 483.4,308.8 C483.1,308.3 483.0,307.8 483.0,307.3 Z" fill="#70f040" stroke="none" stroke-width="0"/>
<path d="M483.7,307.3 C483.7,306.9 483.9,306.4 484.2,306.1 C484.4,305.8 484.8,305.5 485.2,305.5 C485.6,305.5 486.1,305.8 486.5,306.1 C486.9,306.4 487.2,306.8 487.4,307.3 C487.7,307.8 487.9,308.2 488.0,308.9 C488.1,309.5 488.1,310.7 488.0,311.4 C488.0,312.0 487.9,312.5 487.7,312.9 C487.6,313.3 487.4,313.7 487.2,313.7 C487.0,313.7 486.9,313.5 486.6,313.1 C486.4,312.6 486.2,311.6 485.9,311.1 C485.6,310.5 485.3,310.1 484.9,309.6 C484.6,309.2 484.2,308.8 484.0,308.4 C483.8,308.0 483.7,307.7 483.7,307.3 Z" fill="#f0f000" stroke="none" stroke-width="0"/>
<path d="M484.3,307.3 C484.3,307.0 484.4,306.7 484.6,306.5 C484.7,306.3 485.0,306.1 485.3,306.1 C485.6,306.1 485.9,306.3 486.1,306.5 C486.4,306.7 486.6,307.0 486.8,307.3 C486.9,307.6 487.1,307.9 487.2,308.3 C487.2,308.8 487.2,309.6 487.2,310.0 C487.1,310.4 487.1,310.8 487.0,311.0 C486.9,311.3 486.7,311.5 486.6,311.6 C486.5,311.6 486.4,311.4 486.2,311.2 C486.1,310.9 485.9,310.2 485.7,309.8 C485.5,309.4 485.3,309.2 485.1,308.9 C484.9,308.6 484.6,308.3 484.5,308.0 C484.3,307.8 484.2,307.6 484.3,307.3 Z" fill="#ff9000" stroke="none" stroke-width="0"/>
<path d="M484.8,307.3 C484.8,307.2 484.8,307.0 484.9,306.8 C485.0,306.7 485.2,306.6 485.3,306.6 C485.5,306.6 485.7,306.7 485.8,306.8 C485.9,307.0 486.1,307.1 486.1,307.3 C486.2,307.5 486.3,307.6 486.4,307.9 C486.4,308.1 486.4,308.6 486.4,308.8 C486.4,309.1 486.3,309.2 486.3,309.4 C486.2,309.5 486.1,309.7 486.1,309.7 C486.0,309.7 485.9,309.6 485.9,309.4 C485.8,309.3 485.7,308.9 485.6,308.7 C485.5,308.5 485.3,308.3 485.2,308.2 C485.1,308.0 485.0,307.8 484.9,307.7 C484.8,307.6 484.8,307.4 484.8,307.3 Z" fill="#ff1a00" stroke="none" stroke-width="0"/>
<text x="463.2" y="359.7" font-size="6.6" text-anchor="start" fill="#222" font-weight="normal" stroke="#222" stroke-width="0.12" textLength="6.6" lengthAdjust="spacingAndGlyphs">10</text>
<text x="470.0" y="357.2" font-size="4.4" text-anchor="start" fill="#222" font-weight="normal" stroke="#222" stroke-width="0.12">1</text>
<text x="473.9" y="359.7" font-size="6.6" text-anchor="start" fill="#222" font-weight="normal" stroke="#222" stroke-width="0.12" textLength="6.6" lengthAdjust="spacingAndGlyphs">10</text>
<text x="480.7" y="357.2" font-size="4.4" text-anchor="start" fill="#222" font-weight="normal" stroke="#222" stroke-width="0.12">2</text>
<text x="484.59999999999997" y="359.7" font-size="6.6" text-anchor="start" fill="#222" font-weight="normal" stroke="#222" stroke-width="0.12" textLength="6.6" lengthAdjust="spacingAndGlyphs">10</text>
<text x="491.4" y="357.2" font-size="4.4" text-anchor="start" fill="#222" font-weight="normal" stroke="#222" stroke-width="0.12">3</text>
<text x="495.29999999999995" y="359.7" font-size="6.6" text-anchor="start" fill="#222" font-weight="normal" stroke="#222" stroke-width="0.12" textLength="6.6" lengthAdjust="spacingAndGlyphs">10</text>
<text x="502.09999999999997" y="357.2" font-size="4.4" text-anchor="start" fill="#222" font-weight="normal" stroke="#222" stroke-width="0.12">4</text>
<text x="506.0" y="359.7" font-size="6.6" text-anchor="start" fill="#222" font-weight="normal" stroke="#222" stroke-width="0.12" textLength="6.6" lengthAdjust="spacingAndGlyphs">10</text>
<text x="512.8" y="357.2" font-size="4.4" text-anchor="start" fill="#222" font-weight="normal" stroke="#222" stroke-width="0.12">5</text>
<line x1="443.5" y1="364.2" x2="510.6" y2="364.2" stroke="#222" stroke-width="1.1"/>
<path d="M509.8,362.3 L513.6,364.2 L509.8,366.09999999999997 Z" fill="#222"/>
<line x1="443.5" y1="364.2" x2="443.5" y2="298.4" stroke="#222" stroke-width="1.1"/>
<path d="M441.6,299.2 L443.5,295.4 L445.4,299.2 Z" fill="#222"/>
<text x="479.05" y="374.6" font-size="9.4" text-anchor="middle" fill="#222" font-weight="normal" stroke="#222" stroke-width="0.12" textLength="23.1" lengthAdjust="spacingAndGlyphs">Band 3</text>
<text x="438.7" y="329.0" font-size="8.8" text-anchor="middle" fill="#222" font-weight="normal" stroke="#222" stroke-width="0.12" textLength="38.6" lengthAdjust="spacingAndGlyphs" transform="rotate(-90 438.7 329.0)">α4-integrin</text>
<text x="447.5" y="303.4" font-size="6.6" text-anchor="start" fill="#222" font-weight="normal" stroke="#222" stroke-width="0.12" textLength="6.8" lengthAdjust="spacingAndGlyphs">10</text>
<text x="454.5" y="300.9" font-size="4.4" text-anchor="start" fill="#222" font-weight="normal" stroke="#222" stroke-width="0.12">5</text>
<text x="447.5" y="314.25" font-size="6.6" text-anchor="start" fill="#222" font-weight="normal" stroke="#222" stroke-width="0.12" textLength="6.8" lengthAdjust="spacingAndGlyphs">10</text>
<text x="454.5" y="311.75" font-size="4.4" text-anchor="start" fill="#222" font-weight="normal" stroke="#222" stroke-width="0.12">4</text>
<text x="447.5" y="325.09999999999997" font-size="6.6" text-anchor="start" fill="#222" font-weight="normal" stroke="#222" stroke-width="0.12" textLength="6.8" lengthAdjust="spacingAndGlyphs">10</text>
<text x="454.5" y="322.59999999999997" font-size="4.4" text-anchor="start" fill="#222" font-weight="normal" stroke="#222" stroke-width="0.12">3</text>
<text x="447.5" y="335.95" font-size="6.6" text-anchor="start" fill="#222" font-weight="normal" stroke="#222" stroke-width="0.12" textLength="6.8" lengthAdjust="spacingAndGlyphs">10</text>
<text x="454.5" y="333.45" font-size="4.4" text-anchor="start" fill="#222" font-weight="normal" stroke="#222" stroke-width="0.12">2</text>
<text x="447.5" y="346.79999999999995" font-size="6.6" text-anchor="start" fill="#222" font-weight="normal" stroke="#222" stroke-width="0.12" textLength="6.8" lengthAdjust="spacingAndGlyphs">10</text>
<text x="454.5" y="344.29999999999995" font-size="4.4" text-anchor="start" fill="#222" font-weight="normal" stroke="#222" stroke-width="0.12">1</text>
<rect x="368.4" y="383.5" width="52.400000000000034" height="54.19999999999999" fill="none" stroke="#222" stroke-width="1.1"/>
<line x1="368.4" y1="383.5" x2="420.8" y2="383.5" stroke="#222" stroke-width="1.6"/>
<line x1="420.8" y1="383.5" x2="420.8" y2="437.7" stroke="#222" stroke-width="1.4"/>
<line x1="366.4" y1="437.7" x2="368.4" y2="437.7" stroke="#222" stroke-width="0.8"/>
<line x1="366.4" y1="434.3" x2="368.4" y2="434.3" stroke="#222" stroke-width="0.8"/>
<line x1="366.4" y1="430.9" x2="368.4" y2="430.9" stroke="#222" stroke-width="0.8"/>
<line x1="366.4" y1="427.5" x2="368.4" y2="427.5" stroke="#222" stroke-width="0.8"/>
<line x1="366.4" y1="424.09999999999997" x2="368.4" y2="424.09999999999997" stroke="#222" stroke-width="0.8"/>
<line x1="366.4" y1="420.7" x2="368.4" y2="420.7" stroke="#222" stroke-width="0.8"/>
<line x1="366.4" y1="417.3" x2="368.4" y2="417.3" stroke="#222" stroke-width="0.8"/>
<line x1="366.4" y1="413.9" x2="368.4" y2="413.9" stroke="#222" stroke-width="0.8"/>
<line x1="366.4" y1="410.5" x2="368.4" y2="410.5" stroke="#222" stroke-width="0.8"/>
<line x1="366.4" y1="407.09999999999997" x2="368.4" y2="407.09999999999997" stroke="#222" stroke-width="0.8"/>
<line x1="366.4" y1="403.7" x2="368.4" y2="403.7" stroke="#222" stroke-width="0.8"/>
<line x1="366.4" y1="400.3" x2="368.4" y2="400.3" stroke="#222" stroke-width="0.8"/>
<line x1="366.4" y1="396.9" x2="368.4" y2="396.9" stroke="#222" stroke-width="0.8"/>
<line x1="366.4" y1="393.5" x2="368.4" y2="393.5" stroke="#222" stroke-width="0.8"/>
<line x1="366.4" y1="390.09999999999997" x2="368.4" y2="390.09999999999997" stroke="#222" stroke-width="0.8"/>
<line x1="366.4" y1="386.7" x2="368.4" y2="386.7" stroke="#222" stroke-width="0.8"/>
<line x1="369.4" y1="437.7" x2="369.4" y2="439.3" stroke="#333" stroke-width="0.7"/>
<line x1="372.58" y1="437.7" x2="372.58" y2="438.8" stroke="#333" stroke-width="0.6"/>
<line x1="374.488" y1="437.7" x2="374.488" y2="438.8" stroke="#333" stroke-width="0.6"/>
<line x1="375.76" y1="437.7" x2="375.76" y2="438.8" stroke="#333" stroke-width="0.6"/>
<line x1="376.82" y1="437.7" x2="376.82" y2="438.8" stroke="#333" stroke-width="0.6"/>
<line x1="377.668" y1="437.7" x2="377.668" y2="438.8" stroke="#333" stroke-width="0.6"/>
<line x1="378.40999999999997" y1="437.7" x2="378.40999999999997" y2="438.8" stroke="#333" stroke-width="0.6"/>
<line x1="378.94" y1="437.7" x2="378.94" y2="438.8" stroke="#333" stroke-width="0.6"/>
<line x1="379.46999999999997" y1="437.7" x2="379.46999999999997" y2="438.8" stroke="#333" stroke-width="0.6"/>
<line x1="380.0" y1="437.7" x2="380.0" y2="439.3" stroke="#333" stroke-width="0.7"/>
<line x1="383.18" y1="437.7" x2="383.18" y2="438.8" stroke="#333" stroke-width="0.6"/>
<line x1="385.088" y1="437.7" x2="385.088" y2="438.8" stroke="#333" stroke-width="0.6"/>
<line x1="386.36" y1="437.7" x2="386.36" y2="438.8" stroke="#333" stroke-width="0.6"/>
<line x1="387.42" y1="437.7" x2="387.42" y2="438.8" stroke="#333" stroke-width="0.6"/>
<line x1="388.26800000000003" y1="437.7" x2="388.26800000000003" y2="438.8" stroke="#333" stroke-width="0.6"/>
<line x1="389.01" y1="437.7" x2="389.01" y2="438.8" stroke="#333" stroke-width="0.6"/>
<line x1="389.54" y1="437.7" x2="389.54" y2="438.8" stroke="#333" stroke-width="0.6"/>
<line x1="390.07" y1="437.7" x2="390.07" y2="438.8" stroke="#333" stroke-width="0.6"/>
<line x1="390.59999999999997" y1="437.7" x2="390.59999999999997" y2="439.3" stroke="#333" stroke-width="0.7"/>
<line x1="393.78" y1="437.7" x2="393.78" y2="438.8" stroke="#333" stroke-width="0.6"/>
<line x1="395.688" y1="437.7" x2="395.688" y2="438.8" stroke="#333" stroke-width="0.6"/>
<line x1="396.96" y1="437.7" x2="396.96" y2="438.8" stroke="#333" stroke-width="0.6"/>
<line x1="398.02" y1="437.7" x2="398.02" y2="438.8" stroke="#333" stroke-width="0.6"/>
<line x1="398.86799999999994" y1="437.7" x2="398.86799999999994" y2="438.8" stroke="#333" stroke-width="0.6"/>
<line x1="399.60999999999996" y1="437.7" x2="399.60999999999996" y2="438.8" stroke="#333" stroke-width="0.6"/>
<line x1="400.14" y1="437.7" x2="400.14" y2="438.8" stroke="#333" stroke-width="0.6"/>
<line x1="400.66999999999996" y1="437.7" x2="400.66999999999996" y2="438.8" stroke="#333" stroke-width="0.6"/>
<line x1="401.2" y1="437.7" x2="401.2" y2="439.3" stroke="#333" stroke-width="0.7"/>
<line x1="404.38" y1="437.7" x2="404.38" y2="438.8" stroke="#333" stroke-width="0.6"/>
<line x1="406.288" y1="437.7" x2="406.288" y2="438.8" stroke="#333" stroke-width="0.6"/>
<line x1="407.56" y1="437.7" x2="407.56" y2="438.8" stroke="#333" stroke-width="0.6"/>
<line x1="408.62" y1="437.7" x2="408.62" y2="438.8" stroke="#333" stroke-width="0.6"/>
<line x1="409.46799999999996" y1="437.7" x2="409.46799999999996" y2="438.8" stroke="#333" stroke-width="0.6"/>
<line x1="410.21" y1="437.7" x2="410.21" y2="438.8" stroke="#333" stroke-width="0.6"/>
<line x1="410.74" y1="437.7" x2="410.74" y2="438.8" stroke="#333" stroke-width="0.6"/>
<line x1="411.27" y1="437.7" x2="411.27" y2="438.8" stroke="#333" stroke-width="0.6"/>
<line x1="411.79999999999995" y1="437.7" x2="411.79999999999995" y2="439.3" stroke="#333" stroke-width="0.7"/>
<line x1="414.97999999999996" y1="437.7" x2="414.97999999999996" y2="438.8" stroke="#333" stroke-width="0.6"/>
<line x1="416.888" y1="437.7" x2="416.888" y2="438.8" stroke="#333" stroke-width="0.6"/>
<line x1="418.15999999999997" y1="437.7" x2="418.15999999999997" y2="438.8" stroke="#333" stroke-width="0.6"/>
<line x1="419.21999999999997" y1="437.7" x2="419.21999999999997" y2="438.8" stroke="#333" stroke-width="0.6"/>
<line x1="420.068" y1="437.7" x2="420.068" y2="438.8" stroke="#333" stroke-width="0.6"/>
<path d="M374.4,437.6 C375.1,437.5 377.2,437.5 378.4,437.1 C379.5,436.7 380.4,435.9 381.3,435.4 C382.2,434.9 382.8,434.1 383.6,434.0 C384.4,433.9 385.0,434.8 385.9,434.8 C386.8,434.8 387.7,434.2 388.8,434.2 C389.9,434.1 391.4,434.7 392.3,434.5 C393.2,434.3 393.5,434.1 394.0,433.1 C394.5,432.1 394.8,431.0 395.2,428.5 C395.6,426.0 396.0,422.7 396.5,418.1 C397.0,413.5 397.6,405.4 398.0,400.8 C398.4,396.2 398.9,392.5 399.2,390.4 C399.5,388.3 399.7,388.1 400.0,388.3 C400.3,388.5 400.6,388.1 400.9,391.5 C401.2,394.9 401.5,402.6 401.8,408.8 C402.1,415.0 402.4,423.7 402.7,428.5 C403.0,433.3 403.6,436.1 403.8,437.6" stroke="#c8102e" stroke-width="1.1" fill="none" stroke-linejoin="round"/>
<text x="368.5" y="449.0" font-size="6.6" text-anchor="start" fill="#222" font-weight="normal" stroke="#222" stroke-width="0.12" textLength="6.6" lengthAdjust="spacingAndGlyphs">10</text>
<text x="375.3" y="446.5" font-size="4.4" text-anchor="start" fill="#222" font-weight="normal" stroke="#222" stroke-width="0.12">1</text>
<text x="379.2" y="449.0" font-size="6.6" text-anchor="start" fill="#222" font-weight="normal" stroke="#222" stroke-width="0.12" textLength="6.6" lengthAdjust="spacingAndGlyphs">10</text>
<text x="386.0" y="446.5" font-size="4.4" text-anchor="start" fill="#222" font-weight="normal" stroke="#222" stroke-width="0.12">2</text>
<text x="389.9" y="449.0" font-size="6.6" text-anchor="start" fill="#222" font-weight="normal" stroke="#222" stroke-width="0.12" textLength="6.6" lengthAdjust="spacingAndGlyphs">10</text>
<text x="396.7" y="446.5" font-size="4.4" text-anchor="start" fill="#222" font-weight="normal" stroke="#222" stroke-width="0.12">3</text>
<text x="400.6" y="449.0" font-size="6.6" text-anchor="start" fill="#222" font-weight="normal" stroke="#222" stroke-width="0.12" textLength="6.6" lengthAdjust="spacingAndGlyphs">10</text>
<text x="407.40000000000003" y="446.5" font-size="4.4" text-anchor="start" fill="#222" font-weight="normal" stroke="#222" stroke-width="0.12">4</text>
<text x="411.3" y="449.0" font-size="6.6" text-anchor="start" fill="#222" font-weight="normal" stroke="#222" stroke-width="0.12" textLength="6.6" lengthAdjust="spacingAndGlyphs">10</text>
<text x="418.1" y="446.5" font-size="4.4" text-anchor="start" fill="#222" font-weight="normal" stroke="#222" stroke-width="0.12">5</text>
<line x1="364.3" y1="453.5" x2="417.3" y2="453.5" stroke="#222" stroke-width="1.1"/>
<path d="M416.5,451.6 L420.3,453.5 L416.5,455.4 Z" fill="#222"/>
<text x="392.7" y="463.9" font-size="9.2" text-anchor="middle" fill="#222" font-weight="normal" stroke="#222" stroke-width="0.12" textLength="13.6" lengthAdjust="spacingAndGlyphs">GPA</text>
<rect x="461.2" y="383.5" width="52.50000000000006" height="54.19999999999999" fill="none" stroke="#222" stroke-width="1.1"/>
<line x1="461.2" y1="383.5" x2="513.7" y2="383.5" stroke="#222" stroke-width="1.6"/>
<line x1="513.7" y1="383.5" x2="513.7" y2="437.7" stroke="#222" stroke-width="1.4"/>
<line x1="458.8" y1="434.0" x2="461.2" y2="434.0" stroke="#222" stroke-width="0.9"/>
<line x1="459.5" y1="430.745" x2="461.2" y2="430.745" stroke="#222" stroke-width="0.7"/>
<line x1="459.5" y1="428.792" x2="461.2" y2="428.792" stroke="#222" stroke-width="0.7"/>
<line x1="459.5" y1="427.49" x2="461.2" y2="427.49" stroke="#222" stroke-width="0.7"/>
<line x1="459.5" y1="426.405" x2="461.2" y2="426.405" stroke="#222" stroke-width="0.7"/>
<line x1="459.5" y1="425.537" x2="461.2" y2="425.537" stroke="#222" stroke-width="0.7"/>
<line x1="459.5" y1="424.7775" x2="461.2" y2="424.7775" stroke="#222" stroke-width="0.7"/>
<line x1="459.5" y1="424.235" x2="461.2" y2="424.235" stroke="#222" stroke-width="0.7"/>
<line x1="459.5" y1="423.6925" x2="461.2" y2="423.6925" stroke="#222" stroke-width="0.7"/>
<line x1="458.8" y1="423.15000000000003" x2="461.2" y2="423.15000000000003" stroke="#222" stroke-width="0.9"/>
<line x1="459.5" y1="419.89500000000004" x2="461.2" y2="419.89500000000004" stroke="#222" stroke-width="0.7"/>
<line x1="459.5" y1="417.942" x2="461.2" y2="417.942" stroke="#222" stroke-width="0.7"/>
<line x1="459.5" y1="416.64000000000004" x2="461.2" y2="416.64000000000004" stroke="#222" stroke-width="0.7"/>
<line x1="459.5" y1="415.55500000000006" x2="461.2" y2="415.55500000000006" stroke="#222" stroke-width="0.7"/>
<line x1="459.5" y1="414.687" x2="461.2" y2="414.687" stroke="#222" stroke-width="0.7"/>
<line x1="459.5" y1="413.9275" x2="461.2" y2="413.9275" stroke="#222" stroke-width="0.7"/>
<line x1="459.5" y1="413.38500000000005" x2="461.2" y2="413.38500000000005" stroke="#222" stroke-width="0.7"/>
<line x1="459.5" y1="412.84250000000003" x2="461.2" y2="412.84250000000003" stroke="#222" stroke-width="0.7"/>
<line x1="458.8" y1="412.3" x2="461.2" y2="412.3" stroke="#222" stroke-width="0.9"/>
<line x1="459.5" y1="409.045" x2="461.2" y2="409.045" stroke="#222" stroke-width="0.7"/>
<line x1="459.5" y1="407.092" x2="461.2" y2="407.092" stroke="#222" stroke-width="0.7"/>
<line x1="459.5" y1="405.79" x2="461.2" y2="405.79" stroke="#222" stroke-width="0.7"/>
<line x1="459.5" y1="404.70500000000004" x2="461.2" y2="404.70500000000004" stroke="#222" stroke-width="0.7"/>
<line x1="459.5" y1="403.837" x2="461.2" y2="403.837" stroke="#222" stroke-width="0.7"/>
<line x1="459.5" y1="403.0775" x2="461.2" y2="403.0775" stroke="#222" stroke-width="0.7"/>
<line x1="459.5" y1="402.535" x2="461.2" y2="402.535" stroke="#222" stroke-width="0.7"/>
<line x1="459.5" y1="401.9925" x2="461.2" y2="401.9925" stroke="#222" stroke-width="0.7"/>
<line x1="458.8" y1="401.45000000000005" x2="461.2" y2="401.45000000000005" stroke="#222" stroke-width="0.9"/>
<line x1="459.5" y1="398.19500000000005" x2="461.2" y2="398.19500000000005" stroke="#222" stroke-width="0.7"/>
<line x1="459.5" y1="396.242" x2="461.2" y2="396.242" stroke="#222" stroke-width="0.7"/>
<line x1="459.5" y1="394.94000000000005" x2="461.2" y2="394.94000000000005" stroke="#222" stroke-width="0.7"/>
<line x1="459.5" y1="393.855" x2="461.2" y2="393.855" stroke="#222" stroke-width="0.7"/>
<line x1="459.5" y1="392.987" x2="461.2" y2="392.987" stroke="#222" stroke-width="0.7"/>
<line x1="459.5" y1="392.2275" x2="461.2" y2="392.2275" stroke="#222" stroke-width="0.7"/>
<line x1="459.5" y1="391.68500000000006" x2="461.2" y2="391.68500000000006" stroke="#222" stroke-width="0.7"/>
<line x1="459.5" y1="391.14250000000004" x2="461.2" y2="391.14250000000004" stroke="#222" stroke-width="0.7"/>
<line x1="458.8" y1="390.6" x2="461.2" y2="390.6" stroke="#222" stroke-width="0.9"/>
<line x1="459.5" y1="387.345" x2="461.2" y2="387.345" stroke="#222" stroke-width="0.7"/>
<line x1="459.5" y1="385.392" x2="461.2" y2="385.392" stroke="#222" stroke-width="0.7"/>
<line x1="459.5" y1="384.09000000000003" x2="461.2" y2="384.09000000000003" stroke="#222" stroke-width="0.7"/>
<line x1="463.2" y1="437.7" x2="463.2" y2="439.3" stroke="#333" stroke-width="0.7"/>
<line x1="466.38" y1="437.7" x2="466.38" y2="438.8" stroke="#333" stroke-width="0.6"/>
<line x1="468.288" y1="437.7" x2="468.288" y2="438.8" stroke="#333" stroke-width="0.6"/>
<line x1="469.56" y1="437.7" x2="469.56" y2="438.8" stroke="#333" stroke-width="0.6"/>
<line x1="470.62" y1="437.7" x2="470.62" y2="438.8" stroke="#333" stroke-width="0.6"/>
<line x1="471.46799999999996" y1="437.7" x2="471.46799999999996" y2="438.8" stroke="#333" stroke-width="0.6"/>
<line x1="472.21" y1="437.7" x2="472.21" y2="438.8" stroke="#333" stroke-width="0.6"/>
<line x1="472.74" y1="437.7" x2="472.74" y2="438.8" stroke="#333" stroke-width="0.6"/>
<line x1="473.27" y1="437.7" x2="473.27" y2="438.8" stroke="#333" stroke-width="0.6"/>
<line x1="473.8" y1="437.7" x2="473.8" y2="439.3" stroke="#333" stroke-width="0.7"/>
<line x1="476.98" y1="437.7" x2="476.98" y2="438.8" stroke="#333" stroke-width="0.6"/>
<line x1="478.88800000000003" y1="437.7" x2="478.88800000000003" y2="438.8" stroke="#333" stroke-width="0.6"/>
<line x1="480.16" y1="437.7" x2="480.16" y2="438.8" stroke="#333" stroke-width="0.6"/>
<line x1="481.22" y1="437.7" x2="481.22" y2="438.8" stroke="#333" stroke-width="0.6"/>
<line x1="482.068" y1="437.7" x2="482.068" y2="438.8" stroke="#333" stroke-width="0.6"/>
<line x1="482.81" y1="437.7" x2="482.81" y2="438.8" stroke="#333" stroke-width="0.6"/>
<line x1="483.34000000000003" y1="437.7" x2="483.34000000000003" y2="438.8" stroke="#333" stroke-width="0.6"/>
<line x1="483.87" y1="437.7" x2="483.87" y2="438.8" stroke="#333" stroke-width="0.6"/>
<line x1="484.4" y1="437.7" x2="484.4" y2="439.3" stroke="#333" stroke-width="0.7"/>
<line x1="487.58" y1="437.7" x2="487.58" y2="438.8" stroke="#333" stroke-width="0.6"/>
<line x1="489.488" y1="437.7" x2="489.488" y2="438.8" stroke="#333" stroke-width="0.6"/>
<line x1="490.76" y1="437.7" x2="490.76" y2="438.8" stroke="#333" stroke-width="0.6"/>
<line x1="491.82" y1="437.7" x2="491.82" y2="438.8" stroke="#333" stroke-width="0.6"/>
<line x1="492.668" y1="437.7" x2="492.668" y2="438.8" stroke="#333" stroke-width="0.6"/>
<line x1="493.40999999999997" y1="437.7" x2="493.40999999999997" y2="438.8" stroke="#333" stroke-width="0.6"/>
<line x1="493.94" y1="437.7" x2="493.94" y2="438.8" stroke="#333" stroke-width="0.6"/>
<line x1="494.46999999999997" y1="437.7" x2="494.46999999999997" y2="438.8" stroke="#333" stroke-width="0.6"/>
<line x1="495.0" y1="437.7" x2="495.0" y2="439.3" stroke="#333" stroke-width="0.7"/>
<line x1="498.18" y1="437.7" x2="498.18" y2="438.8" stroke="#333" stroke-width="0.6"/>
<line x1="500.088" y1="437.7" x2="500.088" y2="438.8" stroke="#333" stroke-width="0.6"/>
<line x1="501.36" y1="437.7" x2="501.36" y2="438.8" stroke="#333" stroke-width="0.6"/>
<line x1="502.42" y1="437.7" x2="502.42" y2="438.8" stroke="#333" stroke-width="0.6"/>
<line x1="503.26800000000003" y1="437.7" x2="503.26800000000003" y2="438.8" stroke="#333" stroke-width="0.6"/>
<line x1="504.01" y1="437.7" x2="504.01" y2="438.8" stroke="#333" stroke-width="0.6"/>
<line x1="504.54" y1="437.7" x2="504.54" y2="438.8" stroke="#333" stroke-width="0.6"/>
<line x1="505.07" y1="437.7" x2="505.07" y2="438.8" stroke="#333" stroke-width="0.6"/>
<line x1="505.59999999999997" y1="437.7" x2="505.59999999999997" y2="439.3" stroke="#333" stroke-width="0.7"/>
<line x1="508.78" y1="437.7" x2="508.78" y2="438.8" stroke="#333" stroke-width="0.6"/>
<line x1="510.688" y1="437.7" x2="510.688" y2="438.8" stroke="#333" stroke-width="0.6"/>
<line x1="511.96" y1="437.7" x2="511.96" y2="438.8" stroke="#333" stroke-width="0.6"/>
<line x1="513.02" y1="437.7" x2="513.02" y2="438.8" stroke="#333" stroke-width="0.6"/>
<path d="M479.7,395.0 C479.7,393.6 480.0,391.4 480.8,390.4 C481.6,389.3 483.0,388.6 484.3,388.7 C485.6,388.8 487.6,389.9 488.9,391.0 C490.2,392.1 491.1,393.6 492.3,395.0 C493.5,396.4 495.1,397.9 495.8,399.6 C496.5,401.3 496.6,403.6 496.4,405.4 C496.2,407.2 495.5,409.6 494.7,410.6 C493.9,411.7 492.7,412.1 491.8,411.7 C490.9,411.3 490.6,409.4 489.5,408.3 C488.4,407.2 486.5,406.4 485.4,405.4 C484.3,404.4 483.9,403.6 483.1,402.5 C482.3,401.4 481.4,399.8 480.8,398.5 C480.2,397.2 479.7,396.4 479.7,395.0 Z" fill="#0a14f0" stroke="none" stroke-width="0"/>
<path d="M481.1,395.3 C481.1,394.3 481.3,392.5 482.0,391.7 C482.6,390.8 483.7,390.2 484.8,390.3 C485.8,390.4 487.4,391.3 488.4,392.1 C489.5,393.0 490.2,394.2 491.2,395.3 C492.1,396.5 493.4,397.6 494.0,399.0 C494.5,400.4 494.6,402.2 494.4,403.7 C494.3,405.1 493.7,407.0 493.1,407.8 C492.5,408.7 491.5,409.0 490.8,408.7 C490.1,408.4 489.8,406.8 488.9,406.0 C488.1,405.1 486.5,404.4 485.6,403.7 C484.8,402.9 484.4,402.3 483.8,401.3 C483.2,400.4 482.4,399.1 482.0,398.1 C481.5,397.1 481.1,396.4 481.1,395.3 Z" fill="#0058ff" stroke="none" stroke-width="0"/>
<path d="M482.2,395.6 C482.2,394.7 482.4,393.3 482.9,392.7 C483.4,392.0 484.3,391.5 485.1,391.6 C486.0,391.6 487.2,392.4 488.1,393.1 C488.9,393.7 489.5,394.7 490.2,395.6 C491.0,396.5 492.1,397.4 492.5,398.6 C492.9,399.7 493.0,401.1 492.9,402.3 C492.8,403.4 492.3,404.9 491.8,405.6 C491.3,406.3 490.5,406.5 489.9,406.3 C489.4,406.1 489.1,404.8 488.5,404.1 C487.8,403.5 486.5,402.9 485.8,402.3 C485.1,401.6 484.9,401.1 484.4,400.4 C483.9,399.7 483.3,398.7 482.9,397.9 C482.5,397.1 482.2,396.5 482.2,395.6 Z" fill="#00a8ff" stroke="none" stroke-width="0"/>
<path d="M483.1,395.9 C483.1,395.2 483.3,394.1 483.7,393.5 C484.1,393.0 484.8,392.6 485.5,392.7 C486.1,392.8 487.1,393.3 487.8,393.9 C488.4,394.4 488.9,395.1 489.5,395.9 C490.0,396.6 490.9,397.3 491.2,398.1 C491.5,399.0 491.6,400.1 491.5,401.0 C491.4,402.0 491.0,403.1 490.6,403.6 C490.3,404.2 489.6,404.4 489.2,404.2 C488.8,404.0 488.6,403.0 488.1,402.5 C487.5,402.0 486.5,401.5 486.0,401.0 C485.5,400.6 485.2,400.2 484.9,399.6 C484.5,399.0 484.0,398.2 483.7,397.6 C483.4,397.0 483.1,396.5 483.1,395.9 Z" fill="#10e0b0" stroke="none" stroke-width="0"/>
<path d="M484.0,396.1 C484.0,395.5 484.1,394.7 484.4,394.3 C484.7,393.9 485.2,393.6 485.7,393.7 C486.2,393.7 487.0,394.1 487.5,394.5 C488.0,394.9 488.3,395.5 488.8,396.1 C489.2,396.6 489.8,397.1 490.1,397.8 C490.4,398.5 490.4,399.3 490.3,400.0 C490.3,400.7 490.0,401.6 489.7,402.0 C489.4,402.4 488.9,402.5 488.6,402.4 C488.2,402.3 488.1,401.5 487.7,401.1 C487.3,400.7 486.5,400.4 486.1,400.0 C485.7,399.6 485.6,399.3 485.3,398.9 C485.0,398.5 484.6,397.9 484.4,397.4 C484.2,396.9 484.0,396.6 484.0,396.1 Z" fill="#70f040" stroke="none" stroke-width="0"/>
<path d="M484.7,396.2 C484.7,395.9 484.8,395.3 485.0,395.0 C485.2,394.7 485.6,394.5 486.0,394.5 C486.3,394.6 486.9,394.9 487.2,395.2 C487.6,395.4 487.8,395.9 488.1,396.2 C488.4,396.6 488.9,397.0 489.1,397.5 C489.3,398.0 489.3,398.6 489.2,399.0 C489.2,399.5 489.0,400.2 488.8,400.5 C488.6,400.7 488.2,400.9 488.0,400.8 C487.8,400.6 487.7,400.1 487.4,399.8 C487.1,399.5 486.6,399.3 486.3,399.0 C486.0,398.8 485.9,398.6 485.7,398.3 C485.4,398.0 485.2,397.5 485.0,397.2 C484.9,396.8 484.7,396.6 484.7,396.2 Z" fill="#f0f000" stroke="none" stroke-width="0"/>
<path d="M485.4,396.4 C485.4,396.2 485.4,395.8 485.6,395.6 C485.7,395.4 485.9,395.2 486.2,395.3 C486.4,395.3 486.8,395.5 487.0,395.7 C487.3,395.9 487.4,396.1 487.6,396.4 C487.8,396.7 488.1,396.9 488.3,397.2 C488.4,397.5 488.4,397.9 488.4,398.3 C488.3,398.6 488.2,399.0 488.1,399.2 C487.9,399.4 487.7,399.5 487.5,399.4 C487.4,399.3 487.3,399.0 487.1,398.8 C486.9,398.6 486.6,398.4 486.4,398.3 C486.2,398.1 486.1,398.0 486.0,397.7 C485.8,397.5 485.7,397.2 485.6,397.0 C485.5,396.8 485.4,396.6 485.4,396.4 Z" fill="#ff9000" stroke="none" stroke-width="0"/>
<path d="M485.9,396.5 C485.9,396.4 485.9,396.2 486.0,396.1 C486.1,396.0 486.2,395.9 486.4,395.9 C486.5,395.9 486.7,396.0 486.8,396.1 C487.0,396.2 487.1,396.4 487.2,396.5 C487.3,396.7 487.5,396.8 487.5,397.0 C487.6,397.2 487.6,397.4 487.6,397.6 C487.6,397.8 487.5,398.0 487.4,398.1 C487.3,398.2 487.2,398.2 487.1,398.2 C487.0,398.2 487.0,398.0 486.9,397.9 C486.8,397.8 486.6,397.7 486.5,397.6 C486.4,397.5 486.3,397.4 486.2,397.3 C486.2,397.2 486.1,397.0 486.0,396.9 C486.0,396.8 485.9,396.7 485.9,396.5 Z" fill="#ff1a00" stroke="none" stroke-width="0"/>
<text x="463.2" y="449.0" font-size="6.6" text-anchor="start" fill="#222" font-weight="normal" stroke="#222" stroke-width="0.12" textLength="6.6" lengthAdjust="spacingAndGlyphs">10</text>
<text x="470.0" y="446.5" font-size="4.4" text-anchor="start" fill="#222" font-weight="normal" stroke="#222" stroke-width="0.12">1</text>
<text x="473.9" y="449.0" font-size="6.6" text-anchor="start" fill="#222" font-weight="normal" stroke="#222" stroke-width="0.12" textLength="6.6" lengthAdjust="spacingAndGlyphs">10</text>
<text x="480.7" y="446.5" font-size="4.4" text-anchor="start" fill="#222" font-weight="normal" stroke="#222" stroke-width="0.12">2</text>
<text x="484.59999999999997" y="449.0" font-size="6.6" text-anchor="start" fill="#222" font-weight="normal" stroke="#222" stroke-width="0.12" textLength="6.6" lengthAdjust="spacingAndGlyphs">10</text>
<text x="491.4" y="446.5" font-size="4.4" text-anchor="start" fill="#222" font-weight="normal" stroke="#222" stroke-width="0.12">3</text>
<text x="495.29999999999995" y="449.0" font-size="6.6" text-anchor="start" fill="#222" font-weight="normal" stroke="#222" stroke-width="0.12" textLength="6.6" lengthAdjust="spacingAndGlyphs">10</text>
<text x="502.09999999999997" y="446.5" font-size="4.4" text-anchor="start" fill="#222" font-weight="normal" stroke="#222" stroke-width="0.12">4</text>
<text x="506.0" y="449.0" font-size="6.6" text-anchor="start" fill="#222" font-weight="normal" stroke="#222" stroke-width="0.12" textLength="6.6" lengthAdjust="spacingAndGlyphs">10</text>
<text x="512.8" y="446.5" font-size="4.4" text-anchor="start" fill="#222" font-weight="normal" stroke="#222" stroke-width="0.12">5</text>
<line x1="443.5" y1="453.5" x2="510.6" y2="453.5" stroke="#222" stroke-width="1.1"/>
<path d="M509.8,451.6 L513.6,453.5 L509.8,455.4 Z" fill="#222"/>
<line x1="443.5" y1="453.5" x2="443.5" y2="387.9" stroke="#222" stroke-width="1.1"/>
<path d="M441.6,388.7 L443.5,384.9 L445.4,388.7 Z" fill="#222"/>
<text x="479.05" y="463.9" font-size="9.4" text-anchor="middle" fill="#222" font-weight="normal" stroke="#222" stroke-width="0.12" textLength="23.1" lengthAdjust="spacingAndGlyphs">Band 3</text>
<text x="438.7" y="418.5" font-size="8.8" text-anchor="middle" fill="#222" font-weight="normal" stroke="#222" stroke-width="0.12" textLength="38.6" lengthAdjust="spacingAndGlyphs" transform="rotate(-90 438.7 418.5)">α4-integrin</text>
<text x="447.5" y="392.9" font-size="6.6" text-anchor="start" fill="#222" font-weight="normal" stroke="#222" stroke-width="0.12" textLength="6.8" lengthAdjust="spacingAndGlyphs">10</text>
<text x="454.5" y="390.4" font-size="4.4" text-anchor="start" fill="#222" font-weight="normal" stroke="#222" stroke-width="0.12">5</text>
<text x="447.5" y="403.75" font-size="6.6" text-anchor="start" fill="#222" font-weight="normal" stroke="#222" stroke-width="0.12" textLength="6.8" lengthAdjust="spacingAndGlyphs">10</text>
<text x="454.5" y="401.25" font-size="4.4" text-anchor="start" fill="#222" font-weight="normal" stroke="#222" stroke-width="0.12">4</text>
<text x="447.5" y="414.59999999999997" font-size="6.6" text-anchor="start" fill="#222" font-weight="normal" stroke="#222" stroke-width="0.12" textLength="6.8" lengthAdjust="spacingAndGlyphs">10</text>
<text x="454.5" y="412.09999999999997" font-size="4.4" text-anchor="start" fill="#222" font-weight="normal" stroke="#222" stroke-width="0.12">3</text>
<text x="447.5" y="425.45" font-size="6.6" text-anchor="start" fill="#222" font-weight="normal" stroke="#222" stroke-width="0.12" textLength="6.8" lengthAdjust="spacingAndGlyphs">10</text>
<text x="454.5" y="422.95" font-size="4.4" text-anchor="start" fill="#222" font-weight="normal" stroke="#222" stroke-width="0.12">2</text>
<text x="447.5" y="436.29999999999995" font-size="6.6" text-anchor="start" fill="#222" font-weight="normal" stroke="#222" stroke-width="0.12" textLength="6.8" lengthAdjust="spacingAndGlyphs">10</text>
<text x="454.5" y="433.79999999999995" font-size="4.4" text-anchor="start" fill="#222" font-weight="normal" stroke="#222" stroke-width="0.12">1</text>
<text x="7.6" y="488.8" font-size="10.2" text-anchor="start" fill="#111" font-weight="bold" textLength="6.8" lengthAdjust="spacingAndGlyphs">E</text>
<line x1="42.7" y1="506" x2="42.7" y2="613.9" stroke="#2b2b2b" stroke-width="1.4"/>
<line x1="42.0" y1="613.3" x2="197.8" y2="613.3" stroke="#2b2b2b" stroke-width="1.4"/>
<line x1="40" y1="509.79999999999995" x2="42.7" y2="509.79999999999995" stroke="#2b2b2b" stroke-width="1"/>
<text x="37.0" y="512.8" font-size="8.6" text-anchor="end" fill="#2a2a2a" font-weight="normal" stroke="#2a2a2a" stroke-width="0.12" textLength="12.4" lengthAdjust="spacingAndGlyphs">100</text>
<line x1="40" y1="561.6" x2="42.7" y2="561.6" stroke="#2b2b2b" stroke-width="1"/>
<text x="37.0" y="564.6" font-size="8.6" text-anchor="end" fill="#2a2a2a" font-weight="normal" stroke="#2a2a2a" stroke-width="0.12" textLength="8.3" lengthAdjust="spacingAndGlyphs">50</text>
<line x1="40" y1="613.4" x2="42.7" y2="613.4" stroke="#2b2b2b" stroke-width="1"/>
<text x="37.0" y="616.4" font-size="8.6" text-anchor="end" fill="#2a2a2a" font-weight="normal" stroke="#2a2a2a" stroke-width="0.12" textLength="4.2" lengthAdjust="spacingAndGlyphs">0</text>
<line x1="66.4" y1="613.3" x2="66.4" y2="615.8" stroke="#2b2b2b" stroke-width="1"/>
<line x1="120.2" y1="613.3" x2="120.2" y2="615.8" stroke="#2b2b2b" stroke-width="1"/>
<line x1="173.9" y1="613.3" x2="173.9" y2="615.8" stroke="#2b2b2b" stroke-width="1"/>
<rect x="50.6" y="557.5" width="11.8" height="55.9" fill="#86a6c4"/>
<rect x="70.69999999999999" y="593.7" width="11.8" height="19.7" fill="#e08592"/>
<rect x="104.3" y="540.9" width="11.8" height="72.5" fill="#86a6c4"/>
<rect x="124.5" y="577.1" width="11.8" height="36.3" fill="#e08592"/>
<rect x="158.2" y="511.0" width="11.8" height="102.4" fill="#86a6c4"/>
<rect x="178.29999999999998" y="539.8" width="11.8" height="73.6" fill="#e08592"/>
<line x1="56.4" y1="552" x2="56.4" y2="560.4" stroke="#222" stroke-width="1"/>
<line x1="54.0" y1="552" x2="58.8" y2="552" stroke="#222" stroke-width="1"/>
<line x1="54.0" y1="560.4" x2="58.8" y2="560.4" stroke="#222" stroke-width="1"/>
<line x1="76.5" y1="588.3" x2="76.5" y2="597.3" stroke="#222" stroke-width="1"/>
<line x1="74.1" y1="588.3" x2="78.9" y2="588.3" stroke="#222" stroke-width="1"/>
<line x1="74.1" y1="597.3" x2="78.9" y2="597.3" stroke="#222" stroke-width="1"/>
<line x1="110.2" y1="532.5" x2="110.2" y2="547" stroke="#222" stroke-width="1"/>
<line x1="107.8" y1="532.5" x2="112.60000000000001" y2="532.5" stroke="#222" stroke-width="1"/>
<line x1="107.8" y1="547" x2="112.60000000000001" y2="547" stroke="#222" stroke-width="1"/>
<line x1="130.4" y1="568" x2="130.4" y2="583.8" stroke="#222" stroke-width="1"/>
<line x1="128.0" y1="568" x2="132.8" y2="568" stroke="#222" stroke-width="1"/>
<line x1="128.0" y1="583.8" x2="132.8" y2="583.8" stroke="#222" stroke-width="1"/>
<line x1="184.2" y1="524.2" x2="184.2" y2="553" stroke="#222" stroke-width="1"/>
<line x1="181.79999999999998" y1="524.2" x2="186.6" y2="524.2" stroke="#222" stroke-width="1"/>
<line x1="181.79999999999998" y1="553" x2="186.6" y2="553" stroke="#222" stroke-width="1"/>
<circle cx="51.5" cy="550.8" r="2.2" fill="#0f4c8e"/>
<circle cx="61.2" cy="548.8" r="2.2" fill="#0f4c8e"/>
<circle cx="56.2" cy="556.5" r="2.2" fill="#0f4c8e"/>
<circle cx="56.2" cy="568.8" r="2.2" fill="#0f4c8e"/>
<circle cx="110.2" cy="519.8" r="2.2" fill="#0f4c8e"/>
<circle cx="110.2" cy="540.6" r="2.2" fill="#0f4c8e"/>
<circle cx="105.4" cy="550.6" r="2.2" fill="#0f4c8e"/>
<circle cx="115" cy="548.7" r="2.2" fill="#0f4c8e"/>
<circle cx="159.2" cy="511.3" r="2.2" fill="#0f4c8e"/>
<circle cx="162.7" cy="511.3" r="2.2" fill="#0f4c8e"/>
<circle cx="166" cy="511.3" r="2.2" fill="#0f4c8e"/>
<circle cx="168.8" cy="511.3" r="2.2" fill="#0f4c8e"/>
<circle cx="76.5" cy="583.5" r="2.2" fill="#c8102e"/>
<circle cx="76.5" cy="588.8" r="2.2" fill="#c8102e"/>
<circle cx="71.5" cy="600.8" r="2.2" fill="#c8102e"/>
<circle cx="81.2" cy="599.8" r="2.2" fill="#c8102e"/>
<circle cx="130.4" cy="556.5" r="2.2" fill="#c8102e"/>
<circle cx="130.4" cy="570.8" r="2.2" fill="#c8102e"/>
<circle cx="130.4" cy="583.8" r="2.2" fill="#c8102e"/>
<circle cx="130.4" cy="593" r="2.2" fill="#c8102e"/>
<circle cx="184.2" cy="519" r="2.2" fill="#c8102e"/>
<circle cx="184.2" cy="524.8" r="2.2" fill="#c8102e"/>
<circle cx="184.2" cy="529.6" r="2.2" fill="#c8102e"/>
<circle cx="184.2" cy="581.2" r="2.2" fill="#c8102e"/>
<path d="M56.2,539.6 L56.2,535.4 L76.5,535.4 L76.5,557.0" stroke="#222" stroke-width="1" fill="none" stroke-linejoin="miter"/>
<path d="M110.6,512.3 L110.6,507.5 L130.4,507.5 L130.4,527.1" stroke="#222" stroke-width="1" fill="none" stroke-linejoin="miter"/>
<path d="M165.4,500.8 L165.4,492.5 L184.2,492.5 L184.2,506.0" stroke="#222" stroke-width="1" fill="none" stroke-linejoin="miter"/>
<path d="M64.60,528.90 L65.16,530.24 L66.60,530.35 L65.50,531.29 L65.83,532.70 L64.60,531.95 L63.37,532.70 L63.70,531.29 L62.60,530.35 L64.04,530.24 Z" fill="#111"/>
<path d="M69.20,528.90 L69.76,530.24 L71.20,530.35 L70.10,531.29 L70.43,532.70 L69.20,531.95 L67.97,532.70 L68.30,531.29 L67.20,530.35 L68.64,530.24 Z" fill="#111"/>
<path d="M120.80,501.60 L121.36,502.94 L122.80,503.05 L121.70,503.99 L122.03,505.40 L120.80,504.64 L119.57,505.40 L119.90,503.99 L118.80,503.05 L120.24,502.94 Z" fill="#111"/>
<text x="174.6" y="488.6" font-size="8.4" text-anchor="middle" fill="#222" font-weight="normal" stroke="#222" stroke-width="0.12" textLength="8.6" lengthAdjust="spacingAndGlyphs">ns</text>
<text x="18.2" y="561.5" font-size="8.4" text-anchor="middle" fill="#333" font-weight="normal" stroke="#333" stroke-width="0.12" textLength="51.5" lengthAdjust="spacingAndGlyphs" transform="rotate(-90 18.2 561.5)">GPA<tspan font-size="5" dy="-2.5">pos</tspan><tspan dy="2.5"> cells (%)</tspan></text>
<text x="36.5" y="625.1" font-size="7.6" text-anchor="end" fill="#222" font-weight="normal" stroke="#222" stroke-width="0.12" textLength="27.8" lengthAdjust="spacingAndGlyphs">HMGB1</text>
<text x="56.5" y="625.3" font-size="8.2" text-anchor="middle" fill="#222" font-weight="normal" stroke="#222" stroke-width="0.12">–</text>
<text x="76.5" y="625.3" font-size="8.2" text-anchor="middle" fill="#222" font-weight="normal" stroke="#222" stroke-width="0.12">+</text>
<text x="110.3" y="625.3" font-size="8.2" text-anchor="middle" fill="#222" font-weight="normal" stroke="#222" stroke-width="0.12">–</text>
<text x="130.4" y="625.3" font-size="8.2" text-anchor="middle" fill="#222" font-weight="normal" stroke="#222" stroke-width="0.12">+</text>
<text x="164.1" y="625.3" font-size="8.2" text-anchor="middle" fill="#222" font-weight="normal" stroke="#222" stroke-width="0.12">–</text>
<text x="184.2" y="625.3" font-size="8.2" text-anchor="middle" fill="#222" font-weight="normal" stroke="#222" stroke-width="0.12">+</text>
<line x1="47.1" y1="628.5" x2="85.6" y2="628.5" stroke="#333" stroke-width="1"/>
<text x="66.8" y="637.9" font-size="9.4" text-anchor="middle" fill="#2a2a2a" font-weight="normal" stroke="#2a2a2a" stroke-width="0.12" textLength="18.3" lengthAdjust="spacingAndGlyphs">Day 7</text>
<line x1="101" y1="628.5" x2="139.2" y2="628.5" stroke="#333" stroke-width="1"/>
<text x="120.2" y="637.9" font-size="9.4" text-anchor="middle" fill="#2a2a2a" font-weight="normal" stroke="#2a2a2a" stroke-width="0.12" textLength="22" lengthAdjust="spacingAndGlyphs">Day 11</text>
<line x1="154.6" y1="628.5" x2="192.7" y2="628.5" stroke="#333" stroke-width="1"/>
<text x="173.9" y="637.9" font-size="9.4" text-anchor="middle" fill="#2a2a2a" font-weight="normal" stroke="#2a2a2a" stroke-width="0.12" textLength="22" lengthAdjust="spacingAndGlyphs">Day 14</text>
<text x="272.8" y="488.8" font-size="10.2" text-anchor="start" fill="#111" font-weight="bold" textLength="6.3" lengthAdjust="spacingAndGlyphs">F</text>
<line x1="305.6" y1="507.3" x2="305.6" y2="613.9" stroke="#2b2b2b" stroke-width="1.4"/>
<line x1="304.9" y1="613.2" x2="458.5" y2="613.2" stroke="#2b2b2b" stroke-width="1.4"/>
<line x1="302.9" y1="510.54999999999995" x2="305.6" y2="510.54999999999995" stroke="#2b2b2b" stroke-width="1"/>
<text x="299.4" y="513.55" font-size="8.6" text-anchor="end" fill="#2a2a2a" font-weight="normal" stroke="#2a2a2a" stroke-width="0.12" textLength="12.6" lengthAdjust="spacingAndGlyphs">100</text>
<line x1="302.9" y1="531.12" x2="305.6" y2="531.12" stroke="#2b2b2b" stroke-width="1"/>
<text x="299.4" y="534.12" font-size="8.6" text-anchor="end" fill="#2a2a2a" font-weight="normal" stroke="#2a2a2a" stroke-width="0.12" textLength="8.4" lengthAdjust="spacingAndGlyphs">80</text>
<line x1="302.9" y1="551.6899999999999" x2="305.6" y2="551.6899999999999" stroke="#2b2b2b" stroke-width="1"/>
<text x="299.4" y="554.6899999999999" font-size="8.6" text-anchor="end" fill="#2a2a2a" font-weight="normal" stroke="#2a2a2a" stroke-width="0.12" textLength="8.4" lengthAdjust="spacingAndGlyphs">60</text>
<line x1="302.9" y1="572.26" x2="305.6" y2="572.26" stroke="#2b2b2b" stroke-width="1"/>
<text x="299.4" y="575.26" font-size="8.6" text-anchor="end" fill="#2a2a2a" font-weight="normal" stroke="#2a2a2a" stroke-width="0.12" textLength="8.4" lengthAdjust="spacingAndGlyphs">40</text>
<line x1="302.9" y1="592.8299999999999" x2="305.6" y2="592.8299999999999" stroke="#2b2b2b" stroke-width="1"/>
<text x="299.4" y="595.8299999999999" font-size="8.6" text-anchor="end" fill="#2a2a2a" font-weight="normal" stroke="#2a2a2a" stroke-width="0.12" textLength="8.4" lengthAdjust="spacingAndGlyphs">20</text>
<line x1="302.9" y1="613.4" x2="305.6" y2="613.4" stroke="#2b2b2b" stroke-width="1"/>
<text x="299.4" y="616.4" font-size="8.6" text-anchor="end" fill="#2a2a2a" font-weight="normal" stroke="#2a2a2a" stroke-width="0.12" textLength="4.2" lengthAdjust="spacingAndGlyphs">0</text>
<line x1="340.8" y1="613.2" x2="340.8" y2="615.8" stroke="#2b2b2b" stroke-width="1"/>
<line x1="422.7" y1="613.2" x2="422.7" y2="615.8" stroke="#2b2b2b" stroke-width="1"/>
<rect x="316.3" y="549.1" width="18.6" height="64.3" fill="#86a6c4"/>
<rect x="347.09999999999997" y="521.9" width="18.6" height="91.5" fill="#e08592"/>
<rect x="398.09999999999997" y="596.4" width="18.6" height="17.0" fill="#86a6c4"/>
<rect x="427.9" y="610.4" width="18.6" height="3.0" fill="#e08592"/>
<line x1="325.8" y1="545.6" x2="325.8" y2="551.3" stroke="#222" stroke-width="1"/>
<line x1="322.8" y1="545.6" x2="328.8" y2="545.6" stroke="#222" stroke-width="1"/>
<line x1="322.8" y1="551.3" x2="328.8" y2="551.3" stroke="#222" stroke-width="1"/>
<line x1="356.3" y1="519.2" x2="356.3" y2="523.2" stroke="#222" stroke-width="1"/>
<line x1="353.3" y1="519.2" x2="359.3" y2="519.2" stroke="#222" stroke-width="1"/>
<line x1="353.3" y1="523.2" x2="359.3" y2="523.2" stroke="#222" stroke-width="1"/>
<line x1="407.4" y1="592.1" x2="407.4" y2="599.4" stroke="#222" stroke-width="1"/>
<line x1="404.4" y1="592.1" x2="410.4" y2="592.1" stroke="#222" stroke-width="1"/>
<line x1="404.4" y1="599.4" x2="410.4" y2="599.4" stroke="#222" stroke-width="1"/>
<line x1="437.2" y1="607.6" x2="437.2" y2="611.4" stroke="#222" stroke-width="1"/>
<line x1="434.2" y1="607.6" x2="440.2" y2="607.6" stroke="#222" stroke-width="1"/>
<line x1="434.2" y1="611.4" x2="440.2" y2="611.4" stroke="#222" stroke-width="1"/>
<circle cx="325.8" cy="540" r="2.2" fill="#0f4c8e"/>
<circle cx="321.2" cy="549" r="2.2" fill="#0f4c8e"/>
<circle cx="330.2" cy="551.3" r="2.2" fill="#0f4c8e"/>
<circle cx="321.2" cy="553.3" r="2.2" fill="#0f4c8e"/>
<circle cx="407.4" cy="585" r="2.2" fill="#0f4c8e"/>
<circle cx="407.4" cy="597.5" r="2.2" fill="#0f4c8e"/>
<circle cx="399.2" cy="601" r="2.2" fill="#0f4c8e"/>
<circle cx="415.6" cy="599" r="2.2" fill="#0f4c8e"/>
<circle cx="356.3" cy="515.8" r="2.2" fill="#c8102e"/>
<circle cx="348.2" cy="522.7" r="2.2" fill="#c8102e"/>
<circle cx="356.3" cy="521.7" r="2.2" fill="#c8102e"/>
<circle cx="364.4" cy="523.5" r="2.2" fill="#c8102e"/>
<circle cx="430" cy="611.3" r="2.2" fill="#c8102e"/>
<circle cx="438.3" cy="608" r="2.2" fill="#c8102e"/>
<circle cx="446.3" cy="606.7" r="2.2" fill="#c8102e"/>
<circle cx="446.3" cy="611.5" r="2.2" fill="#c8102e"/>
<path d="M325.8,517.3 L325.8,492.9 L356.5,492.9 L356.5,505.8" stroke="#222" stroke-width="1" fill="none" stroke-linejoin="miter"/>
<path d="M407.3,566.3 L407.3,558.3 L438.5,558.3 L438.5,584.6" stroke="#222" stroke-width="1" fill="none" stroke-linejoin="miter"/>
<path d="M338.90,485.90 L339.46,487.24 L340.90,487.35 L339.80,488.29 L340.13,489.70 L338.90,488.94 L337.67,489.70 L338.00,488.29 L336.90,487.35 L338.34,487.24 Z" fill="#111"/>
<path d="M343.50,485.90 L344.06,487.24 L345.50,487.35 L344.40,488.29 L344.73,489.70 L343.50,488.94 L342.27,489.70 L342.60,488.29 L341.50,487.35 L342.94,487.24 Z" fill="#111"/>
<path d="M422.70,551.70 L423.26,553.04 L424.70,553.15 L423.60,554.09 L423.93,555.50 L422.70,554.75 L421.47,555.50 L421.80,554.09 L420.70,553.15 L422.14,553.04 Z" fill="#111"/>
<text x="280.8" y="561" font-size="8.4" text-anchor="middle" fill="#333" font-weight="normal" stroke="#333" stroke-width="0.12" textLength="92" lengthAdjust="spacingAndGlyphs" transform="rotate(-90 280.8 561)">Erythroblast population (%)</text>
<text x="298.5" y="625.1" font-size="7.6" text-anchor="end" fill="#222" font-weight="normal" stroke="#222" stroke-width="0.12" textLength="27.3" lengthAdjust="spacingAndGlyphs">HMGB1</text>
<text x="327.7" y="625.3" font-size="8.2" text-anchor="middle" fill="#222" font-weight="normal" stroke="#222" stroke-width="0.12">–</text>
<text x="353.3" y="625.3" font-size="8.2" text-anchor="middle" fill="#222" font-weight="normal" stroke="#222" stroke-width="0.12">+</text>
<text x="409.8" y="625.3" font-size="8.2" text-anchor="middle" fill="#222" font-weight="normal" stroke="#222" stroke-width="0.12">–</text>
<text x="435.4" y="625.3" font-size="8.2" text-anchor="middle" fill="#222" font-weight="normal" stroke="#222" stroke-width="0.12">+</text>
<line x1="321.5" y1="628.5" x2="360.2" y2="628.5" stroke="#333" stroke-width="1"/>
<text x="340.8" y="637.9" font-size="9.4" text-anchor="middle" fill="#2a2a2a" font-weight="normal" stroke="#2a2a2a" stroke-width="0.12" textLength="25" lengthAdjust="spacingAndGlyphs">BasoEB</text>
<line x1="403.5" y1="628.5" x2="442" y2="628.5" stroke="#333" stroke-width="1"/>
<text x="422.7" y="637.9" font-size="9.4" text-anchor="middle" fill="#2a2a2a" font-weight="normal" stroke="#2a2a2a" stroke-width="0.12" textLength="23" lengthAdjust="spacingAndGlyphs">PolyEB</text>
<rect x="0.5" y="0.5" width="519" height="644" fill="none" stroke="#000" stroke-width="1.2"/>
</svg>
</body></html>
